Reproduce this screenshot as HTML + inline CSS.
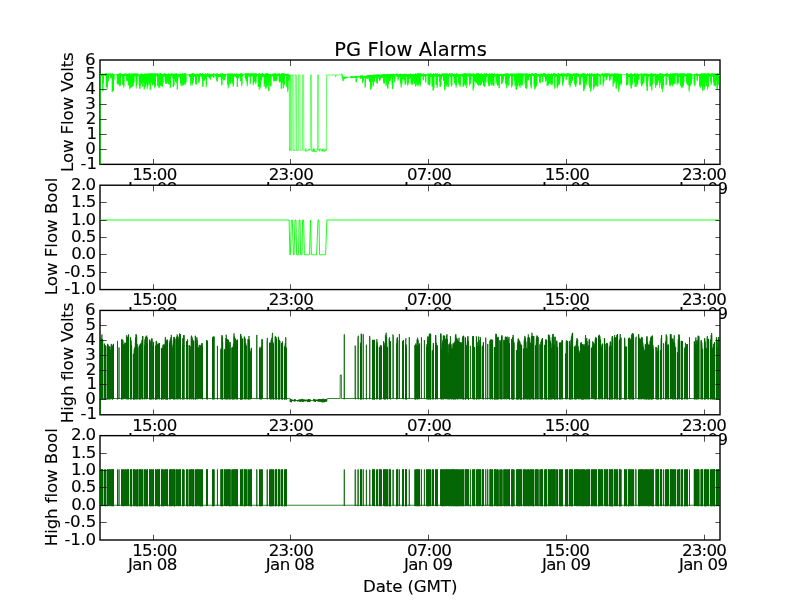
<!DOCTYPE html>
<html lang="en">
<head>
<meta charset="utf-8">
<title>PG Flow Alarms</title>
<style>
html,body{margin:0;padding:0;background:#fff;}
body{width:800px;height:600px;overflow:hidden;}
svg{display:block;}
text{font-family:"DejaVu Sans", "Liberation Sans", sans-serif;fill:#000;stroke:#000;stroke-width:0.12px;}
.t{font-size:16.667px;}
.ti{font-size:19.444px;}
.sp{stroke:#000;stroke-width:1.39;fill:none;stroke-linecap:square;}
.tk{stroke:#000;stroke-width:0.7;fill:none;}
.d{fill:none;stroke-linejoin:miter;stroke-linecap:butt;}
</style>
</head>
<body>
<svg width="800" height="600" viewBox="0 0 800 600">
<rect x="0" y="0" width="800" height="600" fill="#fff"/>
<g id="ax1">
<rect x="100" y="60" width="620" height="104.35" fill="#fff"/>
<clipPath id="c1"><rect x="100" y="60" width="620" height="104.35"/></clipPath>
<rect class="sp" x="100" y="60" width="620" height="104.35"/>
<g clip-path="url(#c1)" stroke="#00ff00" stroke-width="0.6">
<polyline class="d" points="100.5,171.8 100.5,74.16 100.6,74.55 100.72,76.22 100.85,74.75 100.97,75.93 101.1,74.02 101.22,76.37 101.35,74.22 101.47,76.22 101.6,74.61 101.85,75.08 102.1,74.1 102.22,75.49 102.35,74.3 102.47,75.32 102.6,73.62 102.72,91.33 102.85,73.82 102.97,90.62 103.1,73.96 103.22,83.37 103.35,74.16 103.47,83.1 103.6,74.61 103.85,75.04 104.1,74.61 104.35,75.02 104.6,73.96 104.72,75.23 104.85,74.16 104.97,75.08 105.1,73.44 105.22,75.99 105.35,73.64 105.47,75.68 105.6,74.66 105.72,75.76 105.85,74.86 105.97,75.61 106.1,73.66 106.22,87.56 106.35,73.86 106.47,86.03 106.6,73.51 106.72,86.13 106.85,73.71 106.97,84.5 107.1,73.9 107.22,89.23 107.35,74.1 107.47,86.68 107.6,74.49 107.72,78.84 107.85,74.69 107.97,78.56 108.1,73.52 108.22,81.32 108.35,73.72 108.47,81.22 108.6,73.69 108.72,75.38 108.85,73.89 108.97,75.22 109.1,74.59 109.22,75.21 109.35,74.79 109.47,75.15 109.6,74.5 109.72,75.35 109.85,74.7 109.97,75.16 110.1,73.41 110.22,75.18 110.35,73.61 110.47,75.15 110.6,74.36 110.72,78.25 110.85,74.56 110.97,77.47 111.1,74.39 111.22,77.75 111.35,74.59 111.47,77.21 111.6,74.57 111.72,77.61 111.85,74.77 111.97,77.45 112.1,73.37 112.22,92.05 112.35,73.57 112.47,91.67 112.6,73.79 112.72,89.34 112.85,73.99 112.97,88.27 113.1,74.05 113.22,90.79 113.35,74.25 113.47,90.7 113.6,74.25 113.72,79.66 113.85,74.45 113.97,79.37 114.1,74.61 114.35,74.72 114.6,74.61 114.85,75 115.1,74.61 115.35,74.79 115.6,74.61 115.85,74.87 116.1,74.61 116.35,75.04 116.6,74.61 116.85,74.8 117.1,74.13 117.22,84.14 117.35,74.33 117.47,82.55 117.6,73.79 117.72,84.23 117.85,73.99 117.97,82.61 118.1,74.48 118.22,81.49 118.35,74.68 118.47,80.73 118.6,73.85 118.72,84.75 118.85,74.05 118.97,84.06 119.1,73.54 119.22,83.83 119.35,73.74 119.47,82.53 119.6,74.08 119.72,86.21 119.85,74.28 119.97,85.69 120.1,73.47 120.22,85.5 120.35,73.67 120.47,84.94 120.6,73.34 120.72,76.94 120.85,73.54 120.97,76.43 121.1,74.57 121.22,75.22 121.35,74.77 121.47,75.2 121.6,74.55 121.72,75.74 121.85,74.75 121.97,75.72 122.1,73.93 122.22,75.89 122.35,74.13 122.47,75.74 122.6,74.5 122.72,84.84 122.85,74.7 122.97,84.46 123.1,73.9 123.22,83.87 123.35,74.1 123.47,82.4 123.6,74.15 123.72,87.46 123.85,74.35 123.97,85.74 124.1,73.78 124.22,76.26 124.35,73.98 124.47,75.99 124.6,74.61 124.85,75.08 125.1,74.4 125.22,75.36 125.35,74.6 125.47,75.31 125.6,73.43 125.72,76.08 125.85,73.63 125.97,75.8 126.1,73.92 126.22,75.84 126.35,74.12 126.47,75.52 126.6,74.07 126.72,81.15 126.85,74.27 126.97,80.44 127.1,74.4 127.22,79.67 127.35,74.6 127.47,79.54 127.6,74.65 127.72,80.94 127.85,74.85 127.97,79.7 128.1,73.64 128.22,85.41 128.35,73.84 128.47,85.3 128.6,74.43 128.72,81.22 128.85,74.63 128.97,79.96 129.1,73.51 129.22,83.34 129.35,73.71 129.47,81.7 129.6,73.48 129.72,89.34 129.85,73.68 129.97,87.83 130.1,74.15 130.22,86.85 130.35,74.35 130.47,84.8 130.6,74.74 130.72,87.57 130.85,74.94 130.97,86.82 131.1,74.59 131.22,86.52 131.35,74.79 131.47,85.78 131.6,73.64 131.72,87.23 131.85,73.84 131.97,86.87 132.1,73.78 132.22,81.74 132.35,73.98 132.47,80.55 132.6,74.25 132.72,86.23 132.85,74.45 132.97,86.05 133.1,73.35 133.22,84.4 133.35,73.55 133.47,83.04 133.6,74.1 133.72,82.75 133.85,74.3 133.97,82.05 134.1,73.92 134.22,75.21 134.35,74.12 134.47,75.08 134.6,73.55 134.72,76.19 134.85,73.75 134.97,76.1 135.1,73.3 135.22,76.45 135.35,73.5 135.47,76.16 135.6,74.37 135.72,75.69 135.85,74.57 135.97,75.62 136.1,74.04 136.22,88.58 136.35,74.24 136.47,86.07 136.6,73.78 136.72,83.66 136.85,73.98 136.97,83.61 137.1,73.46 137.22,75.86 137.35,73.66 137.47,75.59 137.6,73.48 137.72,76.18 137.85,73.68 137.97,76.15 138.1,74.65 138.22,75.17 138.35,74.85 138.47,75.09 138.6,74.61 138.85,75.01 139.1,74.69 139.22,84.42 139.35,74.89 139.47,83.55 139.6,74.5 139.72,88.97 139.85,74.7 139.97,88.11 140.1,74.62 140.22,86.04 140.35,74.82 140.47,84.44 140.6,74.05 140.72,79.03 140.85,74.25 140.97,78.17 141.1,73.43 141.22,84.33 141.35,73.63 141.47,82.38 141.6,74.23 141.72,80.21 141.85,74.43 141.97,79.26 142.1,74.13 142.22,83.3 142.35,74.33 142.47,81.48 142.6,74.53 142.72,86.94 142.85,74.73 142.97,86.31 143.1,74.76 143.22,80.03 143.35,74.96 143.47,80.01 143.6,74.05 143.72,82.22 143.85,74.25 143.97,81.44 144.1,74.69 144.22,89.71 144.35,74.89 144.47,88.13 144.6,73.62 144.72,80.72 144.85,73.82 144.97,79.56 145.1,74.14 145.22,86.73 145.35,74.34 145.47,85.99 145.6,73.69 145.72,84.35 145.85,73.89 145.97,83.41 146.1,74.32 146.22,83.54 146.35,74.52 146.47,82.76 146.6,73.58 146.72,83.81 146.85,73.78 146.97,81.9 147.1,74.53 147.22,89.14 147.35,74.73 147.47,86.79 147.6,73.96 147.72,86.21 147.85,74.16 147.97,85.44 148.1,73.55 148.22,78.75 148.35,73.75 148.47,77.86 148.6,74.46 148.72,82.17 148.85,74.66 148.97,81.73 149.1,73.28 149.22,84.72 149.35,73.48 149.47,83.96 149.6,74.28 149.72,80.64 149.85,74.48 149.97,79.59 150.1,74.31 150.22,90.11 150.35,74.51 150.47,88.59 150.6,73.38 150.72,78.18 150.85,73.58 150.97,77.95 151.1,74.42 151.22,82.7 151.35,74.62 151.47,81.34 151.6,73.49 151.72,83.04 151.85,73.69 151.97,82 152.1,73.26 152.22,85.16 152.35,73.46 152.47,83.3 152.6,74.75 152.72,84.95 152.85,74.95 152.97,84.73 153.1,73.74 153.22,79.42 153.35,73.94 153.47,78.52 153.6,73.85 153.72,83.18 153.85,74.05 153.97,82.08 154.1,73.5 154.22,85.13 154.35,73.7 154.47,83.86 154.6,73.51 154.72,88.36 154.85,73.71 154.97,86.29 155.1,73.71 155.22,86.59 155.35,73.91 155.47,85.68 155.6,73.51 155.72,76.6 155.85,73.71 155.97,76.6 156.1,74.64 156.22,75.81 156.35,74.84 156.47,75.58 156.6,74.66 156.72,75.23 156.85,74.86 156.97,75.1 157.1,73.3 157.22,76.04 157.35,73.5 157.47,75.93 157.6,73.5 157.72,85.85 157.85,73.7 157.97,85.53 158.1,74.07 158.22,81.09 158.35,74.27 158.47,80.43 158.6,74.52 158.72,87.73 158.85,74.72 158.97,86.98 159.1,73.59 159.22,84.79 159.35,73.79 159.47,83.09 159.6,74.67 159.72,87.77 159.85,74.87 159.97,85.48 160.1,73.55 160.22,84.23 160.35,73.75 160.47,83.64 160.6,73.41 160.72,85.26 160.85,73.61 160.97,83.77 161.1,73.52 161.22,85.98 161.35,73.72 161.47,85.8 161.6,74.42 161.72,83.1 161.85,74.62 161.97,82.33 162.1,73.98 162.22,87.19 162.35,74.18 162.47,85.96 162.6,74.22 162.72,83.44 162.85,74.42 162.97,82.38 163.1,74.4 163.22,76.13 163.35,74.6 163.47,76.09 163.6,74.57 163.72,76.87 163.85,74.77 163.97,76.6 164.1,73.28 164.22,75.63 164.35,73.48 164.47,75.57 164.6,74.19 164.72,76.25 164.85,74.39 164.97,76.25 165.1,73.51 165.22,81.42 165.35,73.71 165.47,81.32 165.6,74.73 165.72,83.77 165.85,74.93 165.97,83.62 166.1,73.87 166.22,80.79 166.35,74.07 166.47,79.8 166.6,74.7 166.72,83.61 166.85,74.9 166.97,83.11 167.1,74.17 167.22,81.32 167.35,74.37 167.47,79.92 167.6,73.83 167.72,82.34 167.85,74.03 167.97,80.89 168.1,74.25 168.22,84.19 168.35,74.45 168.47,84.14 168.6,73.42 168.72,82.27 168.85,73.62 168.97,81.85 169.1,74.06 169.22,81.49 169.35,74.26 169.47,80.53 169.6,74.51 169.72,84.7 169.85,74.71 169.97,83.67 170.1,74.11 170.22,88.21 170.35,74.31 170.47,86.86 170.6,74.61 170.85,75.01 171.1,73.43 171.22,75.4 171.35,73.63 171.47,75.36 171.6,73.89 171.72,76.42 171.85,74.09 171.97,76.31 172.1,73.57 172.22,75.17 172.35,73.77 172.47,75.07 172.6,73.88 172.72,77.66 172.85,74.08 172.97,77.53 173.1,73.85 173.22,87.06 173.35,74.05 173.47,86.75 173.6,74.25 173.72,85.3 173.85,74.45 173.97,85.18 174.1,73.81 174.22,78.25 174.35,74.01 174.47,77.61 174.6,73.73 174.72,79.02 174.85,73.93 174.97,78.99 175.1,73.66 175.22,81.93 175.35,73.86 175.47,80.65 175.6,74.29 175.72,81.56 175.85,74.49 175.97,81.32 176.1,73.52 176.22,79.19 176.35,73.72 176.47,79.18 176.6,73.29 176.72,83.41 176.85,73.49 176.97,82.01 177.1,74.6 177.22,89.41 177.35,74.8 177.47,89.19 177.6,74.38 177.72,78.31 177.85,74.58 177.97,78.31 178.1,73.98 178.22,76.41 178.35,74.18 178.47,76.04 178.6,74.56 178.72,76.47 178.85,74.76 178.97,76.29 179.1,74.46 179.22,76.72 179.35,74.66 179.47,76.33 179.6,73.98 179.72,75.22 179.85,74.18 179.97,75.07 180.1,73.55 180.22,79.22 180.35,73.75 180.47,78.7 180.6,74.02 180.72,84.05 180.85,74.22 180.97,83.32 181.1,74.57 181.22,86.07 181.35,74.77 181.47,85.38 181.6,74.12 181.72,83.66 181.85,74.32 181.97,81.89 182.1,74.74 182.22,80.3 182.35,74.94 182.47,79.44 182.6,73.3 182.72,85.99 182.85,73.5 182.97,84.13 183.1,73.87 183.22,84.7 183.35,74.07 183.47,83.83 183.6,74.76 183.72,84.96 183.85,74.96 183.97,84.09 184.1,74.25 184.22,84.04 184.35,74.45 184.47,82.71 184.6,73.3 184.72,76.7 184.85,73.5 184.97,76.44 185.1,73.74 185.22,84.79 185.35,73.94 185.47,83.21 185.6,73.26 185.72,82.5 185.85,73.46 185.97,82.24 186.1,74.61 186.35,74.83 186.6,74.61 186.85,74.79 187.1,74.61 187.35,74.95 187.6,74.61 187.85,75.04 188.1,74.61 188.35,74.97 188.6,74.35 188.72,75.37 188.85,74.55 188.97,75.29 189.1,74.61 189.35,75.11 189.6,74.52 189.72,77.31 189.85,74.72 189.97,76.73 190.1,73.82 190.22,76.92 190.35,74.02 190.47,76.69 190.6,74.66 190.72,85.77 190.85,74.86 190.97,83.69 191.1,74.39 191.22,81.09 191.35,74.59 191.47,80.36 191.6,74.25 191.72,78.09 191.85,74.45 191.97,77.93 192.1,73.42 192.22,85.39 192.35,73.62 192.47,83.5 192.6,73.59 192.72,83.39 192.85,73.79 192.97,82.86 193.1,73.76 193.22,80.65 193.35,73.96 193.47,80.34 193.6,73.34 193.72,76.95 193.85,73.54 193.97,76.58 194.1,74.38 194.22,76.64 194.35,74.58 194.47,76.23 194.6,74.13 194.72,76.27 194.85,74.33 194.97,76.21 195.1,74.63 195.22,76.51 195.35,74.83 195.47,76.38 195.6,74.31 195.72,84.06 195.85,74.51 195.97,83.77 196.1,74.71 196.22,84.67 196.35,74.91 196.47,84.42 196.6,73.68 196.72,76.2 196.85,73.88 196.97,76.07 197.1,74.61 197.35,75.11 197.6,73.69 197.72,76.46 197.85,73.89 197.97,76.08 198.1,74.09 198.22,76.93 198.35,74.29 198.47,76.57 198.6,74.05 198.72,83.03 198.85,74.25 198.97,82.41 199.1,74.11 199.22,80.85 199.35,74.31 199.47,79.92 199.6,73.65 199.72,76.39 199.85,73.85 199.97,76.24 200.1,73.38 200.22,76.22 200.35,73.58 200.47,75.99 200.6,73.7 200.72,75.72 200.85,73.9 200.97,75.7 201.1,74.45 201.22,75.26 201.35,74.65 201.47,75.22 201.6,74.08 201.72,77.03 201.85,74.28 201.97,76.55 202.1,73.56 202.22,79.21 202.35,73.76 202.47,78.77 202.6,73.59 202.72,86.82 202.85,73.79 202.97,86.48 203.1,73.93 203.22,80.28 203.35,74.13 203.47,80.23 203.6,74.39 203.72,80.8 203.85,74.59 203.97,80.6 204.1,74.3 204.22,80.32 204.35,74.5 204.47,79.39 204.6,74.69 204.72,78.24 204.85,74.89 204.97,77.78 205.1,73.79 205.22,78.64 205.35,73.99 205.47,78.52 205.6,73.49 205.72,78.76 205.85,73.69 205.97,78.32 206.1,73.99 206.22,87.27 206.35,74.19 206.47,84.91 206.6,74.48 206.72,76.76 206.85,74.68 206.97,76.68 207.1,74.3 207.22,75.9 207.35,74.5 207.47,75.84 207.6,73.3 207.72,75.97 207.85,73.5 207.97,75.79 208.1,74.3 208.22,76.24 208.35,74.5 208.47,75.98 208.6,74.08 208.72,77.54 208.85,74.28 208.97,77.08 209.1,73.58 209.22,76.56 209.35,73.78 209.47,76.37 209.6,74.73 209.72,78.09 209.85,74.93 209.97,78.07 210.1,74.09 210.22,79.79 210.35,74.29 210.47,78.82 210.6,74.3 210.72,76.86 210.85,74.5 210.97,76.48 211.1,73.78 211.22,75.94 211.35,73.98 211.47,75.67 211.6,74.65 211.72,76.27 211.85,74.85 211.97,76.03 212.1,74.69 212.22,75.83 212.35,74.89 212.47,75.57 212.6,74.41 212.72,76.29 212.85,74.61 212.97,76.17 213.1,73.36 213.22,76.91 213.35,73.56 213.47,76.8 213.6,73.51 213.72,78.07 213.85,73.71 213.97,77.43 214.1,74.61 214.35,74.97 214.6,74.61 214.85,74.98 215.1,73.81 215.22,75.89 215.35,74.01 215.47,75.8 215.6,73.72 215.72,76.18 215.85,73.92 215.97,75.93 216.1,74.65 216.22,75.83 216.35,74.85 216.47,75.57 216.6,73.94 216.72,80.48 216.85,74.14 216.97,80.37 217.1,73.27 217.22,81.93 217.35,73.47 217.47,80.72 217.6,74.51 217.72,77.15 217.85,74.71 217.97,76.85 218.1,73.97 218.22,77.22 218.35,74.17 218.47,76.7 218.6,74.63 218.72,77.13 218.85,74.83 218.97,76.54 219.1,74.68 219.22,76.82 219.35,74.88 219.47,76.53 219.6,73.94 219.72,76.72 219.85,74.14 219.97,76.68 220.1,74.73 220.22,76.76 220.35,74.93 220.47,76.39 220.6,73.47 220.72,76.5 220.85,73.67 220.97,76.07 221.1,73.99 221.22,80.1 221.35,74.19 221.47,79.07 221.6,74.02 221.72,85.36 221.85,74.22 221.97,84.79 222.1,73.35 222.22,76.73 222.35,73.55 222.47,76.7 222.6,73.56 222.72,78.79 222.85,73.76 222.97,77.88 223.1,74.52 223.22,75.87 223.35,74.72 223.47,75.54 223.6,74.21 223.72,80.49 223.85,74.41 223.97,80.34 224.1,73.91 224.22,76.55 224.35,74.11 224.47,76.18 224.6,74.19 224.72,79.87 224.85,74.39 224.97,79.23 225.1,74.25 225.22,76.89 225.35,74.45 225.47,76.42 225.6,74.61 225.85,74.91 226.1,74.61 226.35,74.74 226.6,74.61 226.85,75.02 227.1,73.72 227.22,75.43 227.35,73.92 227.47,75.41 227.6,73.7 227.72,84.84 227.85,73.9 227.97,83.29 228.1,74.13 228.22,88.39 228.35,74.33 228.47,85.75 228.6,73.73 228.72,86.39 228.85,73.93 228.97,84.24 229.1,73.74 229.22,77.44 229.35,73.94 229.47,77.35 229.6,73.56 229.72,80.86 229.85,73.76 229.97,80.25 230.1,74.15 230.22,83.94 230.35,74.35 230.47,83.18 230.6,74.17 230.72,82.56 230.85,74.37 230.97,81.99 231.1,73.43 231.22,77.29 231.35,73.63 231.47,76.98 231.6,74.58 231.72,78.93 231.85,74.78 231.97,78.1 232.1,73.72 232.22,83.93 232.35,73.92 232.47,82.61 232.6,74.08 232.72,80.66 232.85,74.28 232.97,80.49 233.1,73.58 233.22,86.44 233.35,73.78 233.47,86.1 233.6,74.19 233.72,76.33 233.85,74.39 233.97,76.17 234.1,73.47 234.22,76.08 234.35,73.67 234.47,75.76 234.6,74.16 234.72,76.75 234.85,74.36 234.97,76.42 235.1,74.65 235.22,75.84 235.35,74.85 235.47,75.53 235.6,74.46 235.72,75.69 235.85,74.66 235.97,75.53 236.1,73.72 236.22,76.78 236.35,73.92 236.47,76.41 236.6,73.38 236.72,78.02 236.85,73.58 236.97,77.53 237.1,74.39 237.22,87.09 237.35,74.59 237.47,86.6 237.6,74.06 237.72,78.73 237.85,74.26 237.97,78.34 238.1,74.39 238.22,78.4 238.35,74.59 238.47,77.96 238.6,73.85 238.72,76.04 238.85,74.05 238.97,75.77 239.1,74.46 239.22,75.81 239.35,74.66 239.47,75.63 239.6,74.43 239.72,76.19 239.85,74.63 239.97,75.99 240.1,74.05 240.22,75.61 240.35,74.25 240.47,75.57 240.6,73.46 240.72,81.19 240.85,73.66 240.97,80.94 241.1,73.49 241.22,81.27 241.35,73.69 241.47,80.28 241.6,73.28 241.72,86.13 241.85,73.48 241.97,84.26 242.1,74.13 242.22,76.3 242.35,74.33 242.47,76.08 242.6,74.33 242.72,75.37 242.85,74.53 242.97,75.35 243.1,74.61 243.35,74.91 243.6,74.61 243.85,74.87 244.1,74.61 244.35,74.92 244.6,74.61 244.85,74.91 245.1,73.44 245.22,77.95 245.35,73.64 245.47,77.84 245.6,73.39 245.72,79.17 245.85,73.59 245.97,78.56 246.1,73.47 246.22,80.94 246.35,73.67 246.47,79.77 246.6,73.93 246.72,81.66 246.85,74.13 246.97,81.2 247.1,73.7 247.22,86.24 247.35,73.9 247.47,84.15 247.6,73.34 247.72,75.63 247.85,73.54 247.97,75.43 248.1,73.28 248.22,76.37 248.35,73.48 248.47,76.15 248.6,74.61 248.72,76.12 248.85,74.81 248.97,76.05 249.1,73.63 249.22,76.77 249.35,73.83 249.47,76.43 249.6,74.61 249.85,75.07 250.1,73.74 250.22,84.31 250.35,73.94 250.47,82.67 250.6,73.34 250.72,75.97 250.85,73.54 250.97,75.96 251.1,74.48 251.22,75.76 251.35,74.68 251.47,75.46 251.6,73.72 251.72,76.2 251.85,73.92 251.97,76.12 252.1,73.6 252.22,75.76 252.35,73.8 252.47,75.62 252.6,73.44 252.72,76.37 252.85,73.64 252.97,76.19 253.1,74.39 253.22,85.2 253.35,74.59 253.47,83.66 253.6,73.44 253.72,80.22 253.85,73.64 253.97,79.85 254.1,74.08 254.22,81.95 254.35,74.28 254.47,80.53 254.6,73.63 254.72,82.08 254.85,73.83 254.97,81.25 255.1,73.9 255.22,80.45 255.35,74.1 255.47,79.77 255.6,73.38 255.72,83.94 255.85,73.58 255.97,82.48 256.1,73.42 256.23,76.77 256.35,73.62 256.48,76.38 256.6,74.12 256.73,75.5 256.85,74.32 256.98,75.39 257.1,74.61 257.35,75 257.6,74.61 257.85,75.03 258.1,74.19 258.23,87 258.35,74.39 258.48,86.94 258.6,73.89 258.73,82.99 258.85,74.09 258.98,81.46 259.1,73.48 259.23,89.91 259.35,73.68 259.48,87.01 259.6,73.49 259.73,86.47 259.85,73.69 259.98,86.17 260.1,74.07 260.23,88.29 260.35,74.27 260.48,85.9 260.6,74.76 260.73,80.8 260.85,74.96 260.98,79.86 261.1,73.88 261.23,81.09 261.35,74.08 261.48,79.99 261.6,73.6 261.73,78.31 261.85,73.8 261.98,77.55 262.1,73.6 262.23,75.69 262.35,73.8 262.48,75.64 262.6,73.31 262.73,76.38 262.85,73.51 262.98,76.02 263.1,73.89 263.23,76.95 263.35,74.09 263.48,76.65 263.6,74.14 263.73,75.71 263.85,74.34 263.98,75.48 264.1,74.31 264.23,86.65 264.35,74.51 264.48,84.53 264.6,74.49 264.73,83.44 264.85,74.69 264.98,81.6 265.1,73.7 265.23,78.81 265.35,73.9 265.48,78.22 265.6,73.83 265.73,88.8 265.85,74.03 265.98,87.62 266.1,73.61 266.23,87.38 266.35,73.81 266.48,86.13 266.6,73.27 266.73,82.75 266.85,73.47 266.98,81.35 267.1,73.33 267.23,86 267.35,73.53 267.48,85.36 267.6,74.58 267.73,78.37 267.85,74.78 267.98,78.09 268.1,73.69 268.23,78.31 268.35,73.89 268.48,77.61 268.6,74.31 268.73,91.2 268.85,74.51 268.98,90.57 269.1,74.51 269.23,81.94 269.35,74.71 269.48,80.67 269.6,74.21 269.73,78.56 269.85,74.41 269.98,77.78 270.1,73.92 270.23,85.51 270.35,74.12 270.48,83.27 270.6,74.35 270.73,86.48 270.85,74.55 270.98,85.51 271.1,74.61 271.35,75.07 271.6,74.65 271.73,76.88 271.85,74.85 271.98,76.62 272.1,74.61 272.35,75.02 272.6,73.94 272.73,76.02 272.85,74.14 272.98,75.73 273.1,73.71 273.23,75.99 273.35,73.91 273.48,75.71 273.6,73.57 273.73,81.09 273.85,73.77 273.98,79.91 274.1,73.66 274.23,81.41 274.35,73.86 274.48,80.46 274.6,74.48 274.73,81 274.85,74.68 274.98,79.76 275.1,73.47 275.23,80.98 275.35,73.67 275.48,80.15 275.6,73.45 275.73,80.78 275.85,73.65 275.98,80.47 276.1,74.31 276.23,79 276.35,74.51 276.48,78.98 276.6,74.15 276.73,81.15 276.85,74.35 276.98,79.86 277.1,74.61 277.35,75.03 277.6,73.75 277.73,76.11 277.85,73.95 277.98,76.05 278.1,73.63 278.23,75.25 278.35,73.83 278.48,75.06 278.6,74.18 278.73,76.08 278.85,74.38 278.98,75.79 279.1,73.42 279.23,81.3 279.35,73.62 279.48,80.14 279.6,73.77 279.73,82.65 279.85,73.97 279.98,81.26 280.1,73.95 280.23,81.47 280.35,74.15 280.48,80.26 280.6,74.56 280.73,81.36 280.85,74.76 280.98,80.89 281.1,74.59 281.23,88.84 281.35,74.79 281.48,88.3 281.6,73.44 281.73,84.63 281.85,73.64 281.98,83.01 282.1,74.59 282.23,82.39 282.35,74.79 282.48,82.24 282.6,73.36 282.73,80 282.85,73.56 282.98,79.74 283.1,74.4 283.23,88.42 283.35,74.6 283.48,88.02 283.6,73.42 283.73,84.62 283.85,73.62 283.98,83.68 284.1,74.6 284.23,85.54 284.35,74.8 284.48,83.48 284.6,73.57 284.73,76.06 284.85,73.77 284.98,75.81 285.1,74.45 285.23,75.55 285.35,74.65 285.48,75.28 285.6,74.61 285.85,75.09 286.1,74.09 286.23,75.4 286.35,74.29 286.48,75.25 286.6,74.19 286.73,87.27 286.85,74.39 286.98,86.53 287.1,74.11 287.23,81.91 287.35,74.31 287.48,80.48 287.6,73.68 287.73,92.11 287.85,73.88 287.98,89.4 288.1,74.51 288.23,77.8 288.35,74.71 288.48,77.14 288.6,73.89 288.73,81.15 288.85,74.09 288.98,79.85 289.3,74.91 289.5,150.19 289.6,150.93 289.9,148.77 290.1,150.19 290.3,74.91 290.9,74.91 291.1,150.19 291.2,150.39 291.5,150.31 291.8,149.9 291.9,150.19 292.1,74.91 293.1,74.91 293.3,150.19 293.4,150.64 293.7,150.4 294,150.83 294.3,149.96 294.6,149.91 294.9,150.8 295,150.19 295.2,74.91 296.4,74.91 296.6,150.19 296.7,150.49 297,149.73 297.3,150.9 297.6,150.34 297.9,150.17 298.2,150.59 298.3,150.19 298.5,74.91 299.9,74.91 300.1,150.19 300.2,150.02 300.5,150.15 300.8,150.22 301.1,150.43 301.4,150.44 301.7,149.97 302,150.29 302.3,150.36 302.4,150.19 302.6,74.91 303.6,74.91 303.8,150.19 303.9,150.24 304.2,150.13 304.5,150.23 304.8,150.36 305.1,150.15 305.4,150.82 305.7,148.42 306,151.68 306.3,150 306.6,150.04 306.9,149.92 307.2,150.22 307.5,150.01 307.8,150.4 308.1,149.98 308.4,150.41 308.7,149.14 309,150.18 309.3,148.89 309.6,150.17 309.9,150.25 310.2,150.24 310.3,150.19 310.5,74.91 311.4,74.91 311.6,150.19 311.7,151.25 312,149.76 312.3,150.05 312.6,150.64 312.9,151.91 313.2,148.91 313.5,150.76 313.8,148.35 314.1,151.72 314.4,149.14 314.7,151.74 315,151.09 315.3,151.08 315.6,150.91 315.9,151.06 316.2,151.78 316.5,151.2 316.8,151.48 317.1,148.67 317.4,150.19 317.6,74.91 318.6,74.91 318.8,150.19 318.9,148.98 319.2,149.79 319.5,151.38 319.8,148.93 320.1,149.53 320.4,148.81 320.7,148.73 321,149.07 321.3,151.16 321.6,150.69 321.9,149.9 322.2,151.18 322.5,148.8 322.8,150.58 323.1,151.75 323.4,149.21 323.7,149.38 324,149.83 324.3,151.59 324.6,149.63 324.9,150.16 325.2,151.18 325.5,150.93 325.8,148.95 326.1,150.58 326.35,150.19 326.55,74.91 335.4,74.91 335.7,77.14 336,74.91 341.4,74.91 341.8,73.42 342.2,78.63 342.5,74.91 342.9,81.17 343.3,76.4 343.6,80.57 344,76.99 344,76.74 344.12,79.08 344.25,76.94 344.38,78.68 344.5,77.3 344.75,77.55 345,76.96 345.12,78.48 345.25,77.16 345.38,78.2 345.5,77.25 345.75,77.5 346,77.22 346.25,77.47 346.5,76.63 346.62,78.28 346.75,76.83 346.88,78.04 347,77.16 347.25,77.48 347.5,77.13 347.75,77.38 348,77.1 348.25,77.35 348.5,77.08 348.75,77.38 349,77.05 349.25,77.3 349.5,77.02 349.75,77.27 350,76.99 350.25,77.34 350.5,76.33 350.62,77.69 350.75,76.53 350.88,77.61 351,76.93 351.25,77.34 351.5,76.1 351.62,78.08 351.75,76.3 351.88,77.94 352,76.37 352.12,77.63 352.25,76.57 352.38,77.44 352.5,76.85 352.75,77.25 353,76.33 353.12,78 353.25,76.53 353.38,77.8 353.5,76.79 353.75,77.04 354,76.76 354.25,77.23 354.5,75.95 354.62,77.86 354.75,76.15 354.88,77.85 355,76.71 355.25,77 355.5,76.51 355.62,77.38 355.75,76.71 355.88,77.33 356,75.85 356.12,82.13 356.25,76.05 356.38,82.11 356.5,75.91 356.62,77.28 356.75,76.11 356.88,77.16 357,76.59 357.25,76.84 357.5,76.57 357.75,76.95 358,76.03 358.12,77.56 358.25,76.23 358.38,77.36 358.5,76.51 358.75,76.76 359,76.48 359.25,76.87 359.5,76.45 359.75,76.73 360,76.06 360.12,78.28 360.25,76.26 360.38,77.83 360.5,75.66 360.62,78.52 360.75,75.86 360.88,78.34 361,75.55 361.12,77.69 361.25,75.75 361.38,77.53 361.5,76.26 361.62,77.86 361.75,76.46 361.88,77.72 362,75.53 362.12,78.99 362.25,75.73 362.38,78.68 362.5,75.46 362.62,83 362.75,75.66 362.88,82.47 363,76.14 363.12,80.89 363.25,76.34 363.38,80.73 363.5,75.81 363.62,77.46 363.75,76.01 363.88,77.29 364,76.01 364.12,78 364.25,76.21 364.38,77.6 364.5,75.93 364.62,77.24 364.75,76.13 364.88,76.99 365,75.78 365.12,87.63 365.25,75.98 365.38,86.68 365.5,75.81 365.62,77.09 365.75,76.01 365.88,77.05 366,75.99 366.12,77.52 366.25,76.19 366.38,77.42 366.5,75.99 366.62,78.37 366.75,76.19 366.88,77.93 367,75.25 367.12,78.85 367.25,75.45 367.38,78.62 367.5,75.42 367.62,78.22 367.75,75.62 367.88,78.05 368,75.15 368.12,78 368.25,75.35 368.38,77.51 368.5,75.16 368.62,78.06 368.75,75.36 368.88,77.73 369,75.63 369.12,79.77 369.25,75.83 369.38,79.39 369.5,75.51 369.62,82.08 369.75,75.71 369.88,81.97 370,74.96 370.12,80.66 370.25,75.16 370.38,80.11 370.5,75.05 370.62,89.69 370.75,75.25 370.88,88.91 371,75.02 371.12,88.15 371.25,75.22 371.38,86.24 371.5,75.53 371.62,77.3 371.75,75.73 371.88,77.07 372,75.74 372.25,75.99 372.5,75.44 372.62,82.25 372.75,75.64 372.88,81.58 373,74.84 373.12,86.53 373.25,75.04 373.38,85.45 373.5,74.78 373.62,80.54 373.75,74.98 373.88,80.39 374,74.92 374.12,81.98 374.25,75.12 374.38,81.47 374.5,74.66 374.62,78.35 374.75,74.86 374.88,77.91 375,75.06 375.12,77.35 375.25,75.26 375.38,77.33 375.5,75.28 375.62,77.52 375.75,75.48 375.88,77.07 376,75.52 376.25,75.77 376.5,74.57 376.62,82.39 376.75,74.77 376.88,81.44 377,74.83 377.12,84.09 377.25,75.03 377.38,82.85 377.5,74.63 377.62,78.94 377.75,74.83 377.88,78.35 378,74.52 378.12,76.38 378.25,74.72 378.38,76.28 378.5,75.16 378.62,76.58 378.75,75.36 378.88,76.48 379,74.47 379.12,78.74 379.25,74.67 379.38,78.46 379.5,75.01 379.62,81.06 379.75,75.21 379.88,80.4 380,75.18 380.12,79.6 380.25,75.38 380.38,78.79 380.5,74.67 380.62,77.57 380.75,74.87 380.88,77.38 381,74.88 381.12,76.93 381.25,75.08 381.38,76.52 381.5,74.38 381.62,77.64 381.75,74.58 381.88,77.24 382,74.63 382.12,77.68 382.25,74.83 382.38,77.56 382.5,74.92 382.62,76.89 382.75,75.12 382.88,76.54 383,74.34 383.12,77.91 383.25,74.54 383.38,77.39 383.5,74.2 383.62,82.57 383.75,74.4 383.88,81.75 384,74.17 384.12,84 384.25,74.37 384.38,83.18 384.5,74.14 384.62,81.46 384.75,74.34 384.88,80.89 385,74.89 385.12,77.21 385.25,75.09 385.38,76.98 385.5,74.91 385.62,76.89 385.75,75.11 385.88,76.47 386,74.43 386.12,86.18 386.25,74.63 386.38,84.91 386.5,74 386.62,77.73 386.75,74.2 386.88,77.28 387,74.61 387.12,76.52 387.25,74.81 387.38,76.23 387.5,73.99 387.62,88.72 387.75,74.19 387.88,88.02 388,74.09 388.12,84.46 388.25,74.29 388.38,83.63 388.5,74.43 388.62,75.72 388.75,74.63 388.88,75.62 389,74.57 389.12,79.63 389.25,74.77 389.38,79.25 389.5,74.49 389.62,81.57 389.75,74.69 389.88,81.05 390,74.44 390.12,80.47 390.25,74.64 390.38,79.24 390.5,73.87 390.62,77.8 390.75,74.07 390.88,77.59 391,74.1 391.12,77.56 391.25,74.3 391.38,77.14 391.5,74.39 391.62,75.72 391.75,74.59 391.88,75.63 392,74.16 392.12,85.29 392.25,74.36 392.38,83.07 392.5,73.98 392.62,89.15 392.75,74.18 392.88,88.84 393,73.84 393.12,77.44 393.25,74.04 393.38,77.15 393.5,73.91 393.62,75.42 393.75,74.11 393.88,75.28 394,74.39 394.12,75.26 394.25,74.59 394.38,75.1 394.5,74.4 394.62,82.39 394.75,74.6 394.88,80.79 395,74.61 395.25,75 395.5,74.61 395.75,74.93 396,73.96 396.12,75.74 396.25,74.16 396.38,75.48 396.5,73.67 396.62,76.55 396.75,73.87 396.88,76.23 397,73.79 397.12,75.24 397.25,73.99 397.38,75.05 397.5,74.4 397.62,77.01 397.75,74.6 397.88,76.54 398,74.47 398.12,80.68 398.25,74.67 398.38,79.41 398.5,74.61 398.75,74.93 399,74.61 399.25,75.08 399.5,73.83 399.62,77.48 399.75,74.03 399.88,77.18 400,74.56 400.12,76.67 400.25,74.76 400.38,76.48 400.5,73.71 400.62,83.31 400.75,73.91 400.88,81.8 401,74.27 401.12,87.5 401.25,74.47 401.38,85.58 401.5,73.94 401.62,84.13 401.75,74.14 401.88,83.63 402,74.61 402.25,74.86 402.5,74.49 402.62,79.23 402.75,74.69 402.88,78.84 403,74.15 403.12,78.52 403.25,74.35 403.38,78.2 403.5,74.34 403.62,76.64 403.75,74.54 403.88,76.51 404,74.07 404.12,81.3 404.25,74.27 404.38,80.12 404.5,73.73 404.62,77.09 404.75,73.93 404.88,76.81 405,74.41 405.12,85.17 405.25,74.61 405.38,83.4 405.5,73.77 405.62,83.95 405.75,73.97 405.88,82.83 406,74.47 406.12,76.29 406.25,74.67 406.38,76.05 406.5,74.14 406.62,77.14 406.75,74.34 406.88,77 407,74.47 407.12,76.47 407.25,74.67 407.38,76.07 407.5,74.12 407.62,85.72 407.75,74.32 407.88,83.65 408,74.54 408.12,84.45 408.25,74.74 408.38,82.92 408.5,74.26 408.62,76.09 408.75,74.46 408.88,75.76 409,73.86 409.12,79.3 409.25,74.06 409.38,79.05 409.5,74.52 409.62,78.62 409.75,74.72 409.88,78.58 410,74.28 410.12,77.47 410.25,74.48 410.38,77.41 410.5,73.7 410.62,76.07 410.75,73.9 410.88,75.93 411,74.21 411.12,83.91 411.25,74.41 411.38,83.22 411.5,74.2 411.62,82.81 411.75,74.4 411.88,82.05 412,74.56 412.12,85.15 412.25,74.76 412.38,84.66 412.5,74.33 412.62,75.34 412.75,74.53 412.88,75.32 413,73.93 413.12,75.85 413.25,74.13 413.38,75.63 413.5,73.75 413.62,81.22 413.75,73.95 413.88,81.19 414,73.97 414.12,83.79 414.25,74.17 414.38,83.64 414.5,74.18 414.62,83.1 414.75,74.38 414.88,81.55 415,74.46 415.12,82.28 415.25,74.66 415.38,82.15 415.5,73.53 415.62,86.35 415.75,73.73 415.88,86.32 416,73.73 416.12,84.26 416.25,73.93 416.38,82.43 416.5,74.28 416.62,81.51 416.75,74.48 416.88,80.22 417,74.33 417.12,85.04 417.25,74.53 417.38,84.54 417.5,73.58 417.62,84.01 417.75,73.78 417.88,82.31 418,73.33 418.12,85.98 418.25,73.53 418.38,85.12 418.5,73.71 418.62,82.85 418.75,73.91 418.88,82.13 419,74.49 419.12,84.85 419.25,74.69 419.38,83.23 419.5,73.44 419.62,82.32 419.75,73.64 419.88,82.19 420,74.22 420.12,86.52 420.25,74.42 420.38,84.39 420.5,73.35 420.62,76.43 420.75,73.55 420.88,76.16 421,73.99 421.12,75.83 421.25,74.19 421.38,75.57 421.5,74.62 421.62,76.46 421.75,74.82 421.88,76.06 422,73.8 422.12,75.39 422.25,74 422.38,75.34 422.5,74.17 422.62,75.97 422.75,74.37 422.88,75.63 423,74.26 423.12,80.46 423.25,74.46 423.38,79.75 423.5,73.52 423.62,75.28 423.75,73.72 423.88,75.16 424,74.72 424.12,76.74 424.25,74.92 424.38,76.56 424.5,74.52 424.62,75.78 424.75,74.72 424.88,75.68 425,74.23 425.12,75.47 425.25,74.43 425.38,75.35 425.5,74.16 425.62,82.6 425.75,74.36 425.88,81.61 426,74.61 426.25,75.05 426.5,74.18 426.62,75.65 426.75,74.38 426.88,75.43 427,74.61 427.25,75.09 427.5,74.7 427.62,75.52 427.75,74.9 427.88,75.35 428,73.36 428.12,85.01 428.25,73.56 428.38,83.05 428.5,74.21 428.62,84.15 428.75,74.41 428.88,83.7 429,74.35 429.12,82.43 429.25,74.55 429.38,82.43 429.5,73.94 429.62,85.66 429.75,74.14 429.88,84.34 430,74.02 430.12,76.75 430.25,74.22 430.38,76.47 430.5,73.43 430.62,76.95 430.75,73.63 430.88,76.66 431,74.48 431.12,76.6 431.25,74.68 431.38,76.49 431.5,74.04 431.62,76.31 431.75,74.24 431.88,76.27 432,74.03 432.12,86.83 432.25,74.23 432.38,86.42 432.5,74.54 432.62,85.75 432.75,74.74 432.88,85.68 433,73.94 433.12,90.47 433.25,74.14 433.38,90.33 433.5,73.38 433.62,88.5 433.75,73.58 433.88,87.91 434,73.92 434.12,76.45 434.25,74.12 434.38,76.28 434.5,74.45 434.62,75.74 434.75,74.65 434.88,75.52 435,74.37 435.12,76.02 435.25,74.57 435.38,75.81 435.5,73.48 435.62,76.66 435.75,73.68 435.88,76.19 436,74.04 436.12,84.66 436.25,74.24 436.38,84.5 436.5,74.14 436.62,80.35 436.75,74.34 436.88,80.02 437,73.31 437.12,87.83 437.25,73.51 437.38,85.59 437.5,73.84 437.62,76.56 437.75,74.04 437.88,76.31 438,73.95 438.12,76.86 438.25,74.15 438.38,76.36 438.5,74.4 438.62,75.76 438.75,74.6 438.88,75.61 439,74.11 439.12,75.69 439.25,74.31 439.38,75.5 439.5,73.7 439.62,81.97 439.75,73.9 439.88,81.92 440,74.31 440.12,87.06 440.25,74.51 440.38,85.26 440.5,74.76 440.62,86.5 440.75,74.96 440.88,84.92 441,74.66 441.12,79.27 441.25,74.86 441.38,78.71 441.5,73.92 441.62,76.37 441.75,74.12 441.88,76.37 442,73.56 442.12,76.44 442.25,73.76 442.38,76.11 442.5,74.15 442.62,75.53 442.75,74.35 442.88,75.32 443,73.53 443.12,75.89 443.25,73.73 443.38,75.56 443.5,74.5 443.62,80.75 443.75,74.7 443.88,80.59 444,73.64 444.12,78.67 444.25,73.84 444.38,77.95 444.5,74.07 444.62,90.36 444.75,74.27 444.88,89.07 445,73.31 445.12,85.91 445.25,73.51 445.38,83.64 445.5,74.59 445.62,79.36 445.75,74.79 445.88,78.53 446,74.68 446.12,84.19 446.25,74.88 446.38,82.4 446.5,73.65 446.62,86.52 446.75,73.85 446.88,85.27 447,73.5 447.12,84.34 447.25,73.7 447.38,83.46 447.5,74.31 447.62,81.75 447.75,74.51 447.88,80.31 448,74.54 448.12,87.12 448.25,74.74 448.38,86.66 448.5,74.47 448.62,75.63 448.75,74.67 448.88,75.51 449,73.76 449.12,75.29 449.25,73.96 449.38,75.11 449.5,73.32 449.62,76.33 449.75,73.52 449.88,75.95 450,73.69 450.12,75.37 450.25,73.89 450.38,75.23 450.5,74.13 450.62,76.79 450.75,74.33 450.88,76.51 451,74.48 451.12,84.39 451.25,74.68 451.38,84 451.5,73.66 451.62,86.61 451.75,73.86 451.88,85.15 452,73.28 452.12,75.68 452.25,73.48 452.38,75.55 452.5,74.61 452.75,74.99 453,74.35 453.12,76.31 453.25,74.55 453.38,75.94 453.5,73.89 453.62,76.43 453.75,74.09 453.88,76.28 454,74.43 454.12,79.38 454.25,74.63 454.38,79.35 454.5,73.7 454.62,83.04 454.75,73.9 454.88,82.25 455,74.64 455.12,84.45 455.25,74.84 455.38,82.85 455.5,74.68 455.62,84.4 455.75,74.88 455.88,83.6 456,74.65 456.12,87.59 456.25,74.85 456.38,85.42 456.5,73.36 456.62,76.36 456.75,73.56 456.88,76.18 457,74.69 457.12,75.84 457.25,74.89 457.38,75.83 457.5,73.64 457.62,76.8 457.75,73.84 457.88,76.5 458,74.56 458.12,76.15 458.25,74.76 458.38,76.14 458.5,74.67 458.62,82.83 458.75,74.87 458.88,82.48 459,74.45 459.12,84.9 459.25,74.65 459.38,84.26 459.5,74.12 459.62,84.35 459.75,74.32 459.88,83.52 460,74.24 460.12,87.14 460.25,74.44 460.38,85.36 460.5,74.24 460.62,75.21 460.75,74.44 460.88,75.1 461,74.61 461.25,75 461.5,74.68 461.62,75.77 461.75,74.88 461.88,75.67 462,73.58 462.12,76.58 462.25,73.78 462.38,76.42 462.5,74.19 462.62,75.64 462.75,74.39 462.88,75.52 463,74.22 463.12,86.92 463.25,74.42 463.38,86 463.5,73.91 463.62,85.49 463.75,74.11 463.88,85.13 464,73.5 464.12,81.27 464.25,73.7 464.38,79.95 464.5,73.44 464.62,84.42 464.75,73.64 464.88,84.18 465,73.37 465.12,82.44 465.25,73.57 465.38,81.12 465.5,74.48 465.62,85.67 465.75,74.68 465.88,83.65 466,73.38 466.12,81.77 466.25,73.58 466.38,80.45 466.5,73.92 466.62,87.74 466.75,74.12 466.88,85.23 467,74.48 467.12,75.27 467.25,74.68 467.38,75.11 467.5,73.55 467.62,75.64 467.75,73.75 467.88,75.56 468,74.09 468.12,76.47 468.25,74.29 468.38,76.37 468.5,73.72 468.62,76.35 468.75,73.92 468.88,76.21 469,74.12 469.12,75.25 469.25,74.32 469.38,75.15 469.5,73.56 469.62,85.84 469.75,73.76 469.88,83.63 470,74.32 470.12,83.86 470.25,74.52 470.38,83.08 470.5,73.48 470.62,80.17 470.75,73.68 470.88,79.68 471,74.35 471.12,75.3 471.25,74.55 471.38,75.3 471.5,74.34 471.62,75.99 471.75,74.54 471.88,75.94 472,73.5 472.12,75.83 472.25,73.7 472.38,75.66 472.5,74.56 472.62,76.25 472.75,74.76 472.88,76.12 473,74.54 473.12,90.64 473.25,74.74 473.38,87.93 473.5,73.39 473.62,88.52 473.75,73.59 473.88,86.87 474,74.46 474.12,80.58 474.25,74.66 474.38,79.32 474.5,74.14 474.62,81.9 474.75,74.34 474.88,80.41 475,73.86 475.12,81.02 475.25,74.06 475.38,80.29 475.5,73.99 475.62,81.94 475.75,74.19 475.88,81.8 476,74.18 476.12,83.2 476.25,74.38 476.38,82.47 476.5,73.33 476.62,82.16 476.75,73.53 476.88,81.8 477,73.54 477.12,83.19 477.25,73.74 477.38,81.57 477.5,74.29 477.62,84.84 477.75,74.49 477.88,82.75 478,73.57 478.12,84.35 478.25,73.77 478.38,84.22 478.5,73.26 478.62,85.81 478.75,73.46 478.88,84.05 479,74.11 479.12,84.31 479.25,74.31 479.38,83.69 479.5,74.2 479.62,81.74 479.75,74.4 479.88,80.43 480,74.2 480.12,85.75 480.25,74.4 480.38,84.66 480.5,74.73 480.62,84.81 480.75,74.93 480.88,83.66 481,73.35 481.12,84.59 481.25,73.55 481.38,84.14 481.5,74.15 481.62,81.73 481.75,74.35 481.88,81.68 482,74.61 482.12,81.86 482.25,74.81 482.38,81.03 482.5,74.28 482.62,79.03 482.75,74.48 482.88,78.35 483,74.22 483.12,82.47 483.25,74.42 483.38,82.13 483.5,74.73 483.62,86.08 483.75,74.93 483.88,85.98 484,74.36 484.12,84.71 484.25,74.56 484.38,82.94 484.5,73.32 484.62,87.12 484.75,73.52 484.88,86 485,74.25 485.12,81.05 485.25,74.45 485.38,79.79 485.5,74.53 485.62,82.55 485.75,74.73 485.88,81.93 486,73.43 486.12,76.87 486.25,73.63 486.38,76.6 486.5,73.5 486.62,76.81 486.75,73.7 486.88,76.36 487,74.63 487.12,75.37 487.25,74.83 487.38,75.14 487.5,74.64 487.62,75.25 487.75,74.84 487.88,75.19 488,73.92 488.12,82.27 488.25,74.12 488.38,80.69 488.5,74.23 488.62,85.26 488.75,74.43 488.88,83.87 489,74.56 489.12,86.44 489.25,74.76 489.38,85.68 489.5,73.43 489.62,85.41 489.75,73.63 489.88,84.18 490,73.99 490.12,80.72 490.25,74.19 490.38,80.13 490.5,74.22 490.62,81.5 490.75,74.42 490.88,80.05 491,73.41 491.12,84.95 491.25,73.61 491.38,82.9 491.5,73.89 491.62,85.7 491.75,74.09 491.88,83.47 492,73.45 492.12,78.93 492.25,73.65 492.38,78.86 492.5,73.91 492.62,83.89 492.75,74.11 492.88,83.84 493,74.07 493.12,85.98 493.25,74.27 493.38,84.56 493.5,74.27 493.62,85.88 493.75,74.47 493.88,85.56 494,74.61 494.25,75.1 494.5,73.5 494.62,76.9 494.75,73.7 494.88,76.66 495,74.61 495.25,75.05 495.5,74.7 495.62,76.33 495.75,74.9 495.88,76.17 496,74.51 496.12,84.18 496.25,74.71 496.38,82.6 496.5,74.47 496.62,81.13 496.75,74.67 496.88,80.82 497,73.55 497.12,78.47 497.25,73.75 497.38,77.84 497.5,74.15 497.62,85.68 497.75,74.35 497.88,84.55 498,73.72 498.12,85.4 498.25,73.92 498.38,84.4 498.5,74.09 498.62,82.47 498.75,74.29 498.88,81.8 499,74.26 499.12,88.22 499.25,74.46 499.38,87.47 499.5,74.1 499.62,75.87 499.75,74.3 499.88,75.54 500,74.29 500.12,76.05 500.25,74.49 500.38,75.89 500.5,74.73 500.62,75.74 500.75,74.93 500.88,75.66 501,73.73 501.12,75.89 501.25,73.93 501.38,75.89 501.5,74.35 501.62,84.21 501.75,74.55 501.88,83.52 502,74.64 502.12,83.15 502.25,74.84 502.38,81.5 502.5,74.39 502.62,82.14 502.75,74.59 502.88,81.23 503,73.97 503.12,79.78 503.25,74.17 503.38,78.91 503.5,74.31 503.62,75.91 503.75,74.51 503.88,75.81 504,73.63 504.12,75.55 504.25,73.83 504.38,75.28 504.5,74.29 504.62,75.29 504.75,74.49 504.88,75.13 505,74.69 505.12,76.84 505.25,74.89 505.38,76.73 505.5,73.63 505.62,84.34 505.75,73.83 505.88,83.42 506,73.91 506.12,81.92 506.25,74.11 506.38,80.55 506.5,73.43 506.62,88.21 506.75,73.63 506.88,86.39 507,74.27 507.12,84.3 507.25,74.47 507.38,84.25 507.5,73.48 507.62,81.49 507.75,73.68 507.88,80.38 508,74.34 508.12,78.4 508.25,74.54 508.38,77.64 508.5,73.66 508.62,85.74 508.75,73.86 508.88,84.61 509,74.61 509.12,77.99 509.25,74.81 509.38,77.34 509.5,74.42 509.62,76.39 509.75,74.62 509.88,76.18 510,73.72 510.12,75.41 510.25,73.92 510.38,75.36 510.5,73.92 510.62,75.73 510.75,74.12 510.88,75.65 511,73.7 511.12,75.94 511.25,73.9 511.38,75.88 511.5,73.57 511.62,87.54 511.75,73.77 511.88,86.52 512,74.38 512.12,85.06 512.25,74.58 512.38,84.42 512.5,73.52 512.62,75.62 512.75,73.72 512.88,75.36 513,74.57 513.12,75.36 513.25,74.77 513.38,75.29 513.5,74.6 513.62,75.54 513.75,74.8 513.88,75.27 514,73.63 514.12,76.83 514.25,73.83 514.38,76.78 514.5,74.09 514.62,81.28 514.75,74.29 514.88,80.49 515,74.06 515.12,86.16 515.25,74.26 515.38,84.92 515.5,74.5 515.62,84.35 515.75,74.7 515.88,83.15 516,73.53 516.12,89.82 516.25,73.73 516.38,89.27 516.5,73.86 516.62,88.83 516.75,74.06 516.88,87.86 517,73.93 517.12,85.21 517.25,74.13 517.38,84.59 517.5,73.97 517.62,85.91 517.75,74.17 517.88,84.37 518,73.37 518.12,83.42 518.25,73.57 518.38,82.4 518.5,73.56 518.62,81.11 518.75,73.76 518.88,80.55 519,73.77 519.12,86.11 519.25,73.97 519.38,85.28 519.5,73.71 519.62,84.87 519.75,73.91 519.88,84 520,73.94 520.12,87.82 520.25,74.14 520.38,85.09 520.5,73.31 520.62,84.9 520.75,73.51 520.88,83.93 521,73.81 521.12,77.28 521.25,74.01 521.38,76.98 521.5,74 521.62,85.36 521.75,74.2 521.88,84.31 522,74.4 522.12,85.63 522.25,74.6 522.38,83.73 522.5,73.62 522.62,82.04 522.75,73.82 522.88,81.01 523,73.36 523.12,75.95 523.25,73.56 523.38,75.9 523.5,74.02 523.62,75.63 523.75,74.22 523.88,75.61 524,74.61 524.25,74.98 524.5,74.61 524.75,75.06 525,73.43 525.12,84.2 525.25,73.63 525.38,82.52 525.5,74.43 525.62,88.2 525.75,74.63 525.88,87.81 526,73.84 526.12,83.25 526.25,74.04 526.38,82.23 526.5,73.62 526.62,89.03 526.75,73.82 526.88,87.01 527,73.38 527.12,79.7 527.25,73.58 527.38,79.49 527.5,74.75 527.62,80.63 527.75,74.95 527.88,80.37 528,74.53 528.12,80.05 528.25,74.73 528.38,79.66 528.5,74.36 528.62,76.74 528.75,74.56 528.88,76.32 529,73.52 529.12,76.06 529.25,73.72 529.38,75.77 529.5,74.42 529.62,76.78 529.75,74.62 529.88,76.29 530,74.2 530.12,75.86 530.25,74.4 530.38,75.84 530.5,74.25 530.62,84.74 530.75,74.45 530.88,84.07 531,74.33 531.12,88.49 531.25,74.53 531.38,87.12 531.5,74.56 531.62,76.33 531.75,74.76 531.88,76.08 532,73.31 532.12,75.76 532.25,73.51 532.38,75.67 532.5,73.6 532.62,75.61 532.75,73.8 532.88,75.54 533,74.61 533.25,75 533.5,74.17 533.62,76.02 533.75,74.37 533.88,75.95 534,74.72 534.12,85.98 534.25,74.92 534.38,84.08 534.5,73.83 534.62,89.52 534.75,74.03 534.88,87.57 535,73.37 535.12,78.75 535.25,73.57 535.38,78.45 535.5,73.5 535.62,88.56 535.75,73.7 535.88,86.15 536,73.29 536.12,86.38 536.25,73.49 536.38,84.67 536.5,73.83 536.62,85.5 536.75,74.03 536.88,83.88 537,74.61 537.25,75.02 537.5,74.61 537.75,75.1 538,74.27 538.12,76.73 538.25,74.47 538.38,76.47 538.5,74.15 538.62,76.04 538.75,74.35 538.88,75.83 539,74.61 539.25,75.05 539.5,74.65 539.62,82.5 539.75,74.85 539.88,82.33 540,74.51 540.12,83.42 540.25,74.71 540.38,81.86 540.5,73.53 540.62,76.86 540.75,73.73 540.88,76.63 541,74.36 541.12,76.46 541.25,74.56 541.38,76.28 541.5,73.86 541.62,76.08 541.75,74.06 541.88,76.01 542,74.61 542.25,74.99 542.5,74.5 542.62,82.16 542.75,74.7 542.88,81.95 543,73.54 543.12,75.71 543.25,73.74 543.38,75.51 543.5,73.42 543.62,75.74 543.75,73.62 543.88,75.44 544,73.45 544.12,76.88 544.25,73.65 544.38,76.65 544.5,73.81 544.62,76.39 544.75,74.01 544.88,75.94 545,73.53 545.12,75.24 545.25,73.73 545.38,75.14 545.5,73.8 545.62,81.67 545.75,74 545.88,80.25 546,74.68 546.12,80 546.25,74.88 546.38,78.96 546.5,74.47 546.62,80.45 546.75,74.67 546.88,79.32 547,74.65 547.12,86 547.25,74.85 547.38,84.2 547.5,74.19 547.62,84.84 547.75,74.39 547.88,82.8 548,73.58 548.12,85.6 548.25,73.78 548.38,84.67 548.5,74.67 548.62,82.25 548.75,74.87 548.88,81.58 549,73.67 549.12,79.01 549.25,73.87 549.38,78.53 549.5,74.74 549.62,83.84 549.75,74.94 549.88,82.35 550,74.69 550.12,82.79 550.25,74.89 550.38,81.25 550.5,74.61 550.62,84.11 550.75,74.81 550.88,82.12 551,73.84 551.12,80.73 551.25,74.04 551.38,80.04 551.5,73.57 551.62,84.68 551.75,73.77 551.88,83.31 552,74.62 552.12,85.37 552.25,74.82 552.38,83.42 552.5,74.44 552.62,75.47 552.75,74.64 552.88,75.26 553,73.82 553.12,75.24 553.25,74.02 553.38,75.18 553.5,73.43 553.62,75.72 553.75,73.63 553.88,75.45 554,73.52 554.12,75.98 554.25,73.72 554.38,75.66 554.5,73.29 554.62,88.87 554.75,73.49 554.88,86.65 555,74.12 555.12,76.66 555.25,74.32 555.38,76.5 555.5,73.78 555.62,76.59 555.75,73.98 555.88,76.15 556,74.62 556.12,76.37 556.25,74.82 556.38,76.3 556.5,73.97 556.62,76.1 556.75,74.17 556.88,75.82 557,74.6 557.12,88.31 557.25,74.8 557.38,86.02 557.5,73.94 557.62,86.99 557.75,74.14 557.88,85.55 558,73.34 558.12,83.82 558.25,73.54 558.38,82.23 558.5,73.43 558.62,85.03 558.75,73.63 558.88,83.06 559,74.35 559.12,84.85 559.25,74.55 559.38,83.51 559.5,74.41 559.62,82.54 559.75,74.61 559.88,81.28 560,74.34 560.12,76.27 560.25,74.54 560.38,76.25 560.5,73.84 560.62,75.91 560.75,74.04 560.88,75.83 561,74.09 561.12,75.82 561.25,74.29 561.38,75.61 561.5,73.83 561.62,75.99 561.75,74.03 561.88,75.72 562,73.28 562.12,76.41 562.25,73.48 562.38,76.11 562.5,73.92 562.62,85.85 562.75,74.12 562.88,84.37 563,73.81 563.12,82.64 563.25,74.01 563.38,81.82 563.5,73.49 563.62,78.43 563.75,73.69 563.88,78.37 564,73.66 564.12,76 564.25,73.86 564.38,75.96 564.5,74.7 564.62,76.38 564.75,74.9 564.88,76.12 565,74.29 565.12,76.11 565.25,74.49 565.38,76.03 565.5,73.54 565.62,75.85 565.75,73.74 565.88,75.85 566,74.5 566.12,79.86 566.25,74.7 566.38,79.27 566.5,74.51 566.62,76.57 566.75,74.71 566.88,76.47 567,73.48 567.12,76.74 567.25,73.68 567.38,76.47 567.5,73.33 567.62,75.42 567.75,73.53 567.88,75.26 568,73.34 568.12,75.95 568.25,73.54 568.38,75.65 568.5,74.61 568.75,74.97 569,74.15 569.12,85.12 569.25,74.35 569.38,83.65 569.5,73.43 569.62,81.91 569.75,73.63 569.88,81.83 570,73.72 570.12,87.43 570.25,73.92 570.38,85.09 570.5,74.49 570.62,81.45 570.75,74.69 570.88,80.18 571,74.23 571.12,83.19 571.25,74.43 571.38,82.61 571.5,74.01 571.62,80.85 571.75,74.21 571.88,80.5 572,73.72 572.12,81.22 572.25,73.92 572.38,79.86 572.5,74.67 572.62,75.32 572.75,74.87 572.88,75.29 573,74.24 573.12,75.9 573.25,74.44 573.38,75.78 573.5,73.39 573.62,75.89 573.75,73.59 573.88,75.77 574,74.61 574.25,75 574.5,73.95 574.62,83.93 574.75,74.15 574.88,82.83 575,73.41 575.12,85.16 575.25,73.61 575.38,85.03 575.5,74.61 575.62,86.62 575.75,74.81 575.88,86.54 576,73.55 576.12,83.84 576.25,73.75 576.38,82.54 576.5,73.45 576.62,76.93 576.75,73.65 576.88,76.67 577,74.32 577.12,75.58 577.25,74.52 577.38,75.38 577.5,74.49 577.62,75.85 577.75,74.69 577.88,75.77 578,73.53 578.12,76.66 578.25,73.73 578.38,76.43 578.5,74.26 578.62,75.97 578.75,74.46 578.88,75.63 579,74.04 579.12,77.53 579.25,74.24 579.38,77.3 579.5,74.51 579.62,84.62 579.75,74.71 579.88,84.05 580,74.61 580.12,85.19 580.25,74.81 580.38,84.55 580.5,74.61 580.62,78.43 580.75,74.81 580.88,78.23 581,73.62 581.12,76.07 581.25,73.82 581.38,75.78 581.5,74.05 581.62,76.87 581.75,74.25 581.88,76.54 582,74.61 582.25,75.02 582.5,73.69 582.62,76.96 582.75,73.89 582.88,76.48 583,73.39 583.12,81.66 583.25,73.59 583.38,81.21 583.5,73.32 583.62,91.07 583.75,73.52 583.88,91.04 584,74.69 584.12,88.38 584.25,74.89 584.38,87.93 584.5,73.5 584.62,88.91 584.75,73.7 584.88,86.12 585,74.69 585.12,82.26 585.25,74.89 585.38,81.67 585.5,74.29 585.62,82.77 585.75,74.49 585.88,81.6 586,74.06 586.12,85.26 586.25,74.26 586.38,84.26 586.5,74.45 586.62,81.06 586.75,74.65 586.88,80.5 587,74.61 587.25,75.07 587.5,73.37 587.62,76.03 587.75,73.57 587.88,75.84 588,74.43 588.12,75.62 588.25,74.63 588.38,75.49 588.5,74.47 588.62,75.42 588.75,74.67 588.88,75.29 589,74.51 589.12,85.82 589.25,74.71 589.38,83.93 589.5,73.41 589.62,87.92 589.75,73.61 589.88,85.3 590,74.04 590.12,87.22 590.25,74.24 590.38,84.91 590.5,74.02 590.62,91.62 590.75,74.22 590.88,90.69 591,73.42 591.12,88.38 591.25,73.62 591.38,86.23 591.5,73.58 591.62,75.43 591.75,73.78 591.88,75.37 592,73.73 592.12,75.7 592.25,73.93 592.38,75.4 592.5,74.76 592.62,76.4 592.75,74.96 592.88,75.97 593,74.04 593.12,76.43 593.25,74.24 593.38,76.41 593.5,74.22 593.62,89.74 593.75,74.42 593.88,88.14 594,74.26 594.12,80.79 594.25,74.46 594.38,80.65 594.5,73.71 594.62,86.82 594.75,73.91 594.88,84.68 595,74.49 595.12,85.42 595.25,74.69 595.38,83.74 595.5,74.11 595.62,86.13 595.75,74.31 595.88,85.88 596,73.9 596.12,83.77 596.25,74.1 596.38,82.51 596.5,73.69 596.62,85.56 596.75,73.89 596.88,83.89 597,74.24 597.12,80.05 597.25,74.44 597.38,79.51 597.5,73.29 597.62,86.95 597.75,73.49 597.88,85.79 598,74.11 598.12,75.49 598.25,74.31 598.38,75.37 598.5,73.86 598.62,75.51 598.75,74.06 598.88,75.42 599,74.61 599.25,74.97 599.5,74.71 599.62,76.43 599.75,74.91 599.88,76.06 600,74.12 600.12,84.7 600.25,74.32 600.38,84.54 600.5,74.75 600.62,75.23 600.75,74.95 600.88,75.04 601,74.61 601.25,75.07 601.5,74.61 601.75,74.98 602,73.58 602.12,75.6 602.25,73.78 602.38,75.51 602.5,73.45 602.62,75.9 602.75,73.65 602.88,75.83 603,74.62 603.12,86.4 603.25,74.82 603.38,83.98 603.5,74.06 603.62,82.28 603.75,74.26 603.88,81.92 604,73.7 604.12,76.68 604.25,73.9 604.38,76.54 604.5,74.61 604.75,74.98 605,73.53 605.12,76.8 605.25,73.73 605.38,76.29 605.5,73.52 605.62,76.7 605.75,73.72 605.88,76.42 606,73.87 606.12,80.15 606.25,74.07 606.38,79.36 606.5,73.43 606.62,78.9 606.75,73.63 606.88,78.46 607,74.56 607.12,75.72 607.25,74.76 607.38,75.51 607.5,73.54 607.62,76.57 607.75,73.74 607.88,76.4 608,73.51 608.12,75.18 608.25,73.71 608.38,75.01 608.5,74.61 608.75,75.08 609,73.52 609.12,76.03 609.25,73.72 609.38,76 609.5,74.54 609.62,80.98 609.75,74.74 609.88,80.05 610,73.81 610.12,79.24 610.25,74.01 610.38,78.28 610.5,74.4 610.62,75.53 610.75,74.6 610.88,75.48 611,74.61 611.25,74.97 611.5,73.63 611.62,76.61 611.75,73.83 611.88,76.23 612,73.73 612.12,75.82 612.25,73.93 612.38,75.58 612.5,74.02 612.62,76.15 612.75,74.22 612.88,76.1 613,73.84 613.12,86.75 613.25,74.04 613.38,84.76 613.5,74.22 613.62,80.04 613.75,74.42 613.88,79.53 614,74.43 614.12,79.94 614.25,74.63 614.38,78.83 614.5,73.4 614.62,83.23 614.75,73.6 614.88,81.78 615,73.46 615.12,81.22 615.25,73.66 615.38,80.16 615.5,73.81 615.62,80.98 615.75,74.01 615.88,80.05 616,74.06 616.12,88.64 616.25,74.26 616.38,88.43 616.5,73.83 616.62,84.43 616.75,74.03 616.88,83.33 617,73.46 617.12,80.8 617.25,73.66 617.38,80.33 617.5,74.33 617.62,81.36 617.75,74.53 617.88,80.99 618,73.52 618.12,83.25 618.25,73.72 618.38,82.88 618.5,73.91 618.62,91.8 618.75,74.11 618.88,89.36 619,74.29 619.12,86 619.25,74.49 619.38,85.43 619.5,74.39 619.62,81.49 619.75,74.59 619.88,80.85 620,73.76 620.12,82.11 620.25,73.96 620.38,81.74 620.5,74.7 620.62,83.96 620.75,74.9 620.88,83.45 621,73.98 621.12,85.45 621.25,74.18 621.38,83.25 621.5,74.61 621.75,74.99 622,74.61 622.25,74.99 622.5,74.61 622.75,74.88 623,74.61 623.25,74.85 623.5,74.61 623.75,74.84 624,74.61 624.25,75.04 624.5,74.61 624.75,74.74 625,74.61 625.25,74.91 625.5,74.61 625.75,75.04 626,74.61 626.25,75 626.5,73.46 626.62,85.68 626.75,73.66 626.88,84.59 627,73.26 627.12,84.41 627.25,73.46 627.38,83.85 627.5,73.46 627.62,84.5 627.75,73.66 627.88,84.47 628,74.44 628.12,76.95 628.25,74.64 628.38,76.84 628.5,74.65 628.62,75.8 628.75,74.85 628.88,75.7 629,74.44 629.12,76.87 629.25,74.64 629.38,76.57 629.5,74.75 629.62,76.96 629.75,74.95 629.88,76.5 630,74.31 630.12,86.08 630.25,74.51 630.38,83.99 630.5,73.84 630.62,82.41 630.75,74.04 630.88,82.36 631,73.27 631.12,88.64 631.25,73.47 631.38,87.96 631.5,73.89 631.62,85.03 631.75,74.09 631.88,83.43 632,74.61 632.12,84.81 632.25,74.81 632.38,83.5 632.5,74.61 632.75,74.97 633,74.11 633.12,76.62 633.25,74.31 633.38,76.53 633.5,74.31 633.62,75.75 633.75,74.51 633.88,75.65 634,74.61 634.25,75.05 634.5,73.27 634.62,82.62 634.75,73.47 634.88,82.43 635,74.13 635.12,87.13 635.25,74.33 635.38,86.6 635.5,73.88 635.62,79.28 635.75,74.08 635.88,78.69 636,73.63 636.12,84.61 636.25,73.83 636.38,82.69 636.5,74.55 636.62,86.71 636.75,74.75 636.88,84.73 637,74.67 637.12,84.83 637.25,74.87 637.38,83.9 637.5,73.56 637.62,84.13 637.75,73.76 637.88,82.39 638,74.16 638.12,79.01 638.25,74.36 638.38,78.71 638.5,74.38 638.62,79.97 638.75,74.58 638.88,79.04 639,74.61 639.25,74.99 639.5,74.31 639.62,75.5 639.75,74.51 639.88,75.45 640,74.61 640.25,74.97 640.5,74.61 640.75,75.03 641,73.4 641.12,83.75 641.25,73.6 641.38,83.7 641.5,74.34 641.62,86.3 641.75,74.54 641.88,83.92 642,73.83 642.12,85.59 642.25,74.03 642.38,84.14 642.5,73.81 642.62,80.12 642.75,74.01 642.88,79.12 643,74.39 643.12,82.44 643.25,74.59 643.38,82.42 643.5,74.57 643.62,83.37 643.75,74.77 643.88,82.62 644,73.45 644.12,75.22 644.25,73.65 644.38,75.02 644.5,74.3 644.62,76.31 644.75,74.5 644.88,76.31 645,73.74 645.12,75.42 645.25,73.94 645.38,75.39 645.5,74.74 645.62,75.25 645.75,74.94 645.88,75.07 646,73.52 646.12,75.96 646.25,73.72 646.38,75.96 646.5,73.76 646.62,86.45 646.75,73.96 646.88,86.05 647,74.54 647.12,91.06 647.25,74.74 647.38,90.36 647.5,73.87 647.62,81.15 647.75,74.07 647.88,80.88 648,74.17 648.12,76.14 648.25,74.37 648.38,76.09 648.5,74.41 648.62,76.87 648.75,74.61 648.88,76.72 649,74.54 649.12,75.23 649.25,74.74 649.38,75.03 649.5,73.82 649.62,75.45 649.75,74.02 649.88,75.2 650,74.08 650.12,86.6 650.25,74.28 650.38,86.08 650.5,73.74 650.62,85.26 650.75,73.94 650.88,83.38 651,74.35 651.12,85.45 651.25,74.55 651.38,84.92 651.5,73.33 651.62,90.79 651.75,73.53 651.88,89.05 652,73.48 652.12,83.34 652.25,73.68 652.38,82.2 652.5,74.35 652.62,84.4 652.75,74.55 652.88,82.79 653,74.71 653.12,76.02 653.25,74.91 653.38,75.68 653.5,74.42 653.62,76.85 653.75,74.62 653.88,76.31 654,74 654.12,75.94 654.25,74.2 654.38,75.81 654.5,73.81 654.62,75.22 654.75,74.01 654.88,75.03 655,73.61 655.12,83.67 655.25,73.81 655.38,82.65 655.5,74.75 655.62,87.95 655.75,74.95 655.88,85.91 656,74.59 656.12,84.93 656.25,74.79 656.38,83.48 656.5,74.41 656.62,85.12 656.75,74.61 656.88,84.56 657,74.59 657.12,84.95 657.25,74.79 657.38,82.96 657.5,74.17 657.62,82.69 657.75,74.37 657.88,81.77 658,74.25 658.12,80.74 658.25,74.45 658.38,79.79 658.5,74.73 658.62,78.23 658.75,74.93 658.88,77.8 659,74.07 659.12,80.38 659.25,74.27 659.38,79.61 659.5,73.71 659.62,87.55 659.75,73.91 659.88,85 660,73.28 660.12,81.18 660.25,73.48 660.38,80.88 660.5,73.42 660.62,82.78 660.75,73.62 660.88,81.68 661,74.07 661.12,79.11 661.25,74.27 661.38,78.14 661.5,74.47 661.62,88.96 661.75,74.67 661.88,88.28 662,73.85 662.12,86.2 662.25,74.05 662.38,84.85 662.5,73.79 662.62,91.79 662.75,73.99 662.88,88.53 663,73.88 663.12,86.91 663.25,74.08 663.38,85.21 663.5,74.09 663.62,76.42 663.75,74.29 663.88,76.41 664,73.97 664.12,76.36 664.25,74.17 664.38,76.1 664.5,74.58 664.62,76.2 664.75,74.78 664.88,76.01 665,74.62 665.12,75.46 665.25,74.82 665.38,75.21 665.5,73.73 665.62,75.79 665.75,73.93 665.88,75.5 666,74.42 666.12,85.6 666.25,74.62 666.38,84.11 666.5,73.35 666.62,76.12 666.75,73.55 666.88,75.74 667,74.61 667.25,75.11 667.5,73.56 667.62,76.5 667.75,73.76 667.88,76.44 668,74.16 668.12,76.48 668.25,74.36 668.38,76.3 668.5,74.57 668.62,76.02 668.75,74.77 668.88,75.7 669,74.06 669.12,79.77 669.25,74.26 669.38,78.86 669.5,74.59 669.62,85.22 669.75,74.79 669.88,83.03 670,74.68 670.12,86.43 670.25,74.88 670.38,85.35 670.5,73.45 670.62,82.94 670.75,73.65 670.88,82.7 671,74.45 671.12,84.66 671.25,74.65 671.38,83.1 671.5,74.59 671.62,84.32 671.75,74.79 671.88,82.68 672,74.01 672.12,83.41 672.25,74.21 672.38,82.14 672.5,73.33 672.62,86.35 672.75,73.53 672.88,85.26 673,74.74 673.12,83.51 673.25,74.94 673.38,83.13 673.5,73.89 673.62,84.17 673.75,74.09 673.88,83.07 674,73.35 674.12,79.58 674.25,73.55 674.38,79.04 674.5,73.28 674.62,83.86 674.75,73.48 674.88,83.69 675,74.61 675.25,75.06 675.5,73.48 675.62,75.93 675.75,73.68 675.88,75.84 676,73.39 676.12,75.61 676.25,73.59 676.38,75.44 676.5,74.61 676.75,74.98 677,73.97 677.12,84.78 677.25,74.17 677.38,82.71 677.5,73.42 677.62,81.91 677.75,73.62 677.88,81.59 678,73.43 678.12,83.89 678.25,73.63 678.38,82.63 678.5,74.22 678.62,76.93 678.75,74.42 678.88,76.87 679,74.66 679.12,75.88 679.25,74.86 679.38,75.64 679.5,74.49 679.62,76.72 679.75,74.69 679.88,76.53 680,73.3 680.12,75.36 680.25,73.5 680.38,75.32 680.5,74.54 680.62,86.39 680.75,74.74 680.88,84.95 681,73.58 681.12,84.38 681.25,73.78 681.38,82.75 681.5,73.43 681.62,87.79 681.75,73.63 681.88,85.17 682,74.24 682.12,87.13 682.25,74.44 682.38,86.48 682.5,73.57 682.62,87.48 682.75,73.77 682.88,85.34 683,74.33 683.12,85.69 683.25,74.53 683.38,85.36 683.5,73.28 683.62,83.33 683.75,73.48 683.88,82.02 684,74.17 684.12,76.37 684.25,74.37 684.38,76.18 684.5,73.66 684.62,76.01 684.75,73.86 684.88,75.66 685,73.59 685.12,76.14 685.25,73.79 685.38,75.86 685.5,74.76 685.62,76.18 685.75,74.96 685.88,75.9 686,74.7 686.12,75.93 686.25,74.9 686.38,75.59 686.5,74.03 686.62,83.67 686.75,74.23 686.88,82.29 687,73.66 687.12,82.4 687.25,73.86 687.38,81.47 687.5,73.74 687.62,85.03 687.75,73.94 687.88,84.93 688,73.3 688.12,78.98 688.25,73.5 688.38,78.37 688.5,74.37 688.62,85.65 688.75,74.57 688.88,84.99 689,74.2 689.12,91.52 689.25,74.4 689.38,89.39 689.5,73.56 689.62,87.03 689.75,73.76 689.88,86.15 690,73.44 690.12,85.46 690.25,73.64 690.38,83.7 690.5,73.88 690.62,81.77 690.75,74.08 690.88,81.37 691,74.43 691.12,84.57 691.25,74.63 691.38,83.2 691.5,73.45 691.62,79.85 691.75,73.65 691.88,78.87 692,74.61 692.25,74.92 692.5,74.61 692.75,74.73 693,74.61 693.25,75.04 693.5,74.61 693.75,74.81 694,74.38 694.12,84.18 694.25,74.58 694.38,82.27 694.5,73.86 694.62,86.03 694.75,74.06 694.88,85.23 695,74.3 695.12,75.23 695.25,74.5 695.38,75.15 695.5,74.61 695.75,75.07 696,74.17 696.12,75.62 696.25,74.37 696.38,75.4 696.5,73.72 696.62,76.06 696.75,73.92 696.88,75.96 697,73.38 697.12,80.79 697.25,73.58 697.38,80.55 697.5,74.24 697.62,75.39 697.75,74.44 697.88,75.34 698,74.23 698.12,75.93 698.25,74.43 698.38,75.67 698.5,74.61 698.75,75.11 699,74.15 699.12,75.9 699.25,74.35 699.38,75.88 699.5,74.04 699.62,86.83 699.75,74.24 699.88,84.36 700,74.04 700.12,85.11 700.25,74.24 700.38,84.67 700.5,73.91 700.62,87.83 700.75,74.11 700.88,85.94 701,73.64 701.12,84.31 701.25,73.84 701.38,83.54 701.5,73.77 701.62,85.83 701.75,73.97 701.88,85.13 702,73.38 702.12,86.47 702.25,73.58 702.38,85.69 702.5,74.74 702.62,90.72 702.75,74.94 702.88,90.39 703,74.52 703.12,86.64 703.25,74.72 703.38,85.9 703.5,73.31 703.62,82.15 703.75,73.51 703.88,81.24 704,74.04 704.12,90.03 704.25,74.24 704.38,87.08 704.5,73.58 704.62,88.56 704.75,73.78 704.88,87.09 705,73.5 705.12,82.29 705.25,73.7 705.38,81.09 705.5,73.33 705.62,78.95 705.75,73.53 705.88,78.95 706,74.65 706.12,82.18 706.25,74.85 706.38,81.77 706.5,73.81 706.62,86.06 706.75,74.01 706.88,86.01 707,73.87 707.12,85.16 707.25,74.07 707.38,84.98 707.5,73.6 707.62,89.57 707.75,73.8 707.88,87.44 708,73.56 708.12,86.8 708.25,73.76 708.38,86.73 708.5,73.37 708.62,76.77 708.75,73.57 708.88,76.67 709,74.59 709.12,76.35 709.25,74.79 709.38,76.06 709.5,73.87 709.62,75.25 709.75,74.07 709.88,75.05 710,74.46 710.12,75.17 710.25,74.66 710.38,75.01 710.5,74.66 710.62,81.55 710.75,74.86 710.88,80.93 711,73.47 711.12,85.18 711.25,73.67 711.38,83.35 711.5,74.07 711.62,75.51 711.75,74.27 711.88,75.25 712,73.28 712.12,76.48 712.25,73.48 712.38,76.32 712.5,74.27 712.62,75.52 712.75,74.47 712.88,75.5 713,73.45 713.12,76.92 713.25,73.65 713.38,76.55 713.5,74.53 713.62,82.29 713.75,74.73 713.88,80.88 714,73.8 714.12,86.01 714.25,74 714.38,85.43 714.5,73.54 714.62,84.8 714.75,73.74 714.88,84.06 715,74.43 715.12,82.79 715.25,74.63 715.38,81.83 715.5,73.71 715.62,86.47 715.75,73.91 715.88,85.64 716,74.37 716.12,81.38 716.25,74.57 716.38,80.45 716.5,74.47 716.62,79.8 716.75,74.67 716.88,79.17 717,73.51 717.12,89.34 717.25,73.71 717.38,89.27 717.5,73.3 717.62,83.01 717.75,73.5 717.88,82.15 718,73.57 718.12,85.2 718.25,73.77 718.38,84.34 718.5,73.89 718.62,75.84 718.75,74.09 718.88,75.63 719,74.01 719.12,75.66 719.25,74.21 719.38,75.45 719.5,74.75 719.62,75.22 719.75,74.95 719.88,75.05"/>
</g>
<path class="tk" d="M153.5 164.35v-5.3M153.5 60v6.1M290.5 164.35v-5.3M290.5 60v6.1M428.5 164.35v-5.3M428.5 60v6.1M566.5 164.35v-5.3M566.5 60v6.1M704.5 164.35v-5.3M704.5 60v6.1M100 149.5h6.7M720 149.5h-4.6M100 134.5h6.7M720 134.5h-4.6M100 119.5h6.7M720 119.5h-4.6M100 104.5h6.7M720 104.5h-4.6M100 89.5h6.7M720 89.5h-4.6M100 74.5h6.7M720 74.5h-4.6"/>
<text class="t" x="132.2" y="180" style="letter-spacing:-0.71px">15:00</text>
<text class="t" x="268.73" y="180" style="letter-spacing:-0.74px">23:00</text>
<text class="t" x="406.95" y="180" style="letter-spacing:-0.78px">07:00</text>
<text class="t" x="544.8" y="180" style="letter-spacing:-0.71px">15:00</text>
<text class="t" x="681.92" y="180" style="letter-spacing:-0.74px">23:00</text>
<text class="t" x="128.02" y="194" style="letter-spacing:-0.58px">Jan 08</text>
<text class="t" x="265.82" y="194" style="letter-spacing:-0.62px">Jan 08</text>
<text class="t" x="403.93" y="194" style="letter-spacing:-0.62px">Jan 09</text>
<text class="t" x="541.93" y="194" style="letter-spacing:-0.62px">Jan 09</text>
<text class="t" x="678.93" y="194" style="letter-spacing:-0.62px">Jan 09</text>
<text class="t" x="80.52" y="169">-1</text>
<text class="t" x="85.25" y="154">0</text>
<text class="t" x="86.52" y="139">1</text>
<text class="t" x="85.65" y="124">2</text>
<text class="t" x="85.27" y="109">3</text>
<text class="t" x="85.2" y="94">4</text>
<text class="t" x="85.4" y="79">5</text>
<text class="t" x="85.02" y="65">6</text>
<text class="t" transform="translate(73.3 171.88) rotate(-90)" style="letter-spacing:-0.15px">Low Flow Volts</text>
<text class="ti" x="334.18" y="56" style="letter-spacing:0.14px">PG Flow Alarms</text>
</g>
<g id="ax2">
<rect x="100" y="185.22" width="620" height="104.35" fill="#fff"/>
<clipPath id="c2"><rect x="100" y="185.22" width="620" height="104.35"/></clipPath>
<rect class="sp" x="100" y="185.22" width="620" height="104.35"/>
<g clip-path="url(#c2)" stroke="#00ff00" stroke-width="0.9">
<polyline class="d" points="100,220 289.1,220 289.9,254.78 290.4,254.78 291.3,220 292.3,220 293.4,254.78 294,254.78 295,220 296,220 296.6,254.78 298.5,254.78 299.1,220 300,220 300.6,254.78 302,254.78 302.6,220 303.6,220 304.4,254.78 309.6,254.78 310.4,220 310.6,220 311.4,254.78 316.6,254.78 318,220 319,220 319.6,254.78 325.6,254.78 326.9,220 720,220"/>
</g>
<path class="tk" d="M153.5 289.57v-5.3M153.5 185.22v6.1M290.5 289.57v-5.3M290.5 185.22v6.1M428.5 289.57v-5.3M428.5 185.22v6.1M566.5 289.57v-5.3M566.5 185.22v6.1M704.5 289.57v-5.3M704.5 185.22v6.1M100 272.5h6.7M720 272.5h-4.6M100 254.5h6.7M720 254.5h-4.6M100 237.5h6.7M720 237.5h-4.6M100 220.5h6.7M720 220.5h-4.6M100 202.5h6.7M720 202.5h-4.6"/>
<text class="t" x="132.2" y="305" style="letter-spacing:-0.71px">15:00</text>
<text class="t" x="268.73" y="305" style="letter-spacing:-0.74px">23:00</text>
<text class="t" x="406.95" y="305" style="letter-spacing:-0.78px">07:00</text>
<text class="t" x="544.8" y="305" style="letter-spacing:-0.71px">15:00</text>
<text class="t" x="681.92" y="305" style="letter-spacing:-0.74px">23:00</text>
<text class="t" x="128.02" y="319" style="letter-spacing:-0.58px">Jan 08</text>
<text class="t" x="265.82" y="319" style="letter-spacing:-0.62px">Jan 08</text>
<text class="t" x="403.93" y="319" style="letter-spacing:-0.62px">Jan 09</text>
<text class="t" x="541.93" y="319" style="letter-spacing:-0.62px">Jan 09</text>
<text class="t" x="678.93" y="319" style="letter-spacing:-0.62px">Jan 09</text>
<text class="t" x="64.4" y="294" style="letter-spacing:-0.25px">-1.0</text>
<text class="t" x="64.2" y="277" style="letter-spacing:-0.12px">-0.5</text>
<text class="t" x="71.25" y="259" style="letter-spacing:-0.8px">0.0</text>
<text class="t" x="71.05" y="242" style="letter-spacing:-0.61px">0.5</text>
<text class="t" x="71.1" y="225" style="letter-spacing:-0.72px">1.0</text>
<text class="t" x="70.9" y="207" style="letter-spacing:-0.54px">1.5</text>
<text class="t" x="71.12" y="190" style="letter-spacing:-0.74px">2.0</text>
<text class="t" transform="translate(57 295.27) rotate(-90)" style="letter-spacing:-0.02px">Low Flow Bool</text>
</g>
<g id="ax3">
<rect x="100" y="310.43" width="620" height="104.35" fill="#fff"/>
<clipPath id="c3"><rect x="100" y="310.43" width="620" height="104.35"/></clipPath>
<rect class="sp" x="100" y="310.43" width="620" height="104.35"/>
<g clip-path="url(#c3)" stroke="#006400" stroke-width="0.8">
<polyline class="d" points="100.5,422.24 100.5,398.75 100.5,399.02 100.5,340.22 100.5,339.87 100.5,399.1 100.5,398.59 100.5,340.75 100.8,339.51 100.8,398.77 101.1,398.75 101.1,338.33 101.4,339.7 101.4,399.29 101.7,398.96 101.7,337.83 102,334.51 102,399.11 102.3,399.32 102.3,339.03 102.6,340.08 102.6,399.14 102.6,398.59 102.6,340.05 102.6,340.3 102.6,398.81 102.6,398.53 104.4,398.53 104.4,398.56 104.4,343.65 104.4,344.23 104.4,399.18 104.4,399.33 104.4,343.87 104.72,347.41 104.72,398.89 105.05,399.25 105.05,345.53 105.38,349.25 105.38,399.33 105.7,398.62 105.7,346.35 105.7,346.23 105.7,399.4 105.7,398.93 105.7,345.62 105.7,398.81 105.7,398.53 107.5,398.53 107.5,398.99 107.5,344.65 107.5,344.7 107.5,399.06 107.5,399.06 107.5,343.88 107.8,348.06 107.8,399.37 108.09,399.3 108.09,344.57 108.39,346.39 108.39,398.68 108.69,399.31 108.69,349.6 108.98,346.34 108.98,399.05 109.28,399.18 109.28,346.77 109.57,347.59 109.57,399.05 109.87,398.79 109.87,346.52 110.17,349.78 110.17,399.42 110.46,398.61 110.46,349.97 110.76,350.48 110.76,398.67 111.05,398.8 111.05,348.01 111.35,343.9 111.35,398.57 111.65,399.09 111.65,345.89 111.94,346.03 111.94,398.83 112.24,399.33 112.24,345.25 112.54,346.28 112.54,399.43 112.83,398.81 112.83,349.96 113.13,347.73 113.13,398.56 113.42,398.71 113.42,344.55 113.42,344.25 113.42,398.67 113.42,398.57 113.42,343.86 113.42,398.82 113.42,398.53 117.48,398.53 117.48,399.4 117.48,340.89 117.54,341.66 117.54,398.95 117.54,398.53 118.98,398.53 118.98,399 118.98,347.45 119.04,347.52 119.04,399.04 119.04,398.53 121.53,398.53 121.53,399.09 121.53,339.51 121.53,340.16 121.53,398.92 121.53,399.18 121.53,340.56 121.83,340.28 121.83,399.41 122.14,399 122.14,339.33 122.44,340.13 122.44,398.91 122.75,399.06 122.75,340.12 123.05,340.82 123.05,399.1 123.36,398.59 123.36,343.98 123.66,345.81 123.66,399.15 123.97,398.85 123.97,345.45 124.27,345.4 124.27,398.55 124.58,398.59 124.58,344.86 124.88,342.54 124.88,398.76 125.19,398.94 125.19,343.09 125.5,343.49 125.5,398.86 125.8,398.82 125.8,343.42 126.11,343.08 126.11,398.8 126.41,398.87 126.41,335.57 126.72,335.27 126.72,399.05 127.02,399.2 127.02,336.86 127.33,338 127.33,399.26 127.63,398.75 127.63,338.05 127.94,336.81 127.94,399.16 128.24,398.63 128.24,335.24 128.55,335.2 128.55,399.28 128.55,398.93 128.55,334.42 128.55,335.45 128.55,398.84 128.55,398.53 130.45,398.53 130.45,399.12 130.45,337.37 130.45,338.01 130.45,398.74 130.45,398.64 130.45,337.9 130.72,338.4 130.72,399.26 131,399.29 131,340.44 131.28,344.36 131.28,399.26 131.55,399.11 131.55,345.6 131.55,346.29 131.55,398.65 131.55,398.8 131.55,345.62 131.55,398.78 131.55,398.53 133.45,398.53 133.45,398.85 133.45,353.87 133.45,353.86 133.45,398.9 133.45,399.36 133.45,354.25 133.75,354.48 133.75,399.38 134.06,399.33 134.06,351.46 134.36,349.17 134.36,399.39 134.66,399.37 134.66,347.94 134.97,347.16 134.97,399.29 135.27,399.13 135.27,344.06 135.57,337.54 135.57,398.84 135.88,398.74 135.88,334.6 136.18,334.14 136.18,398.79 136.49,399.26 136.49,335.1 136.79,337.2 136.79,399.16 137.09,399.37 137.09,343.96 137.4,347.34 137.4,399.05 137.7,398.55 137.7,347.57 137.7,348.42 137.7,398.8 137.7,399.13 137.7,347.89 137.7,398.91 137.7,398.53 139.3,398.53 139.3,399.38 139.3,345.73 139.3,346.14 139.3,398.76 139.3,399.31 139.3,345.94 139.61,345.48 139.61,398.85 139.92,398.71 139.92,345.43 140.23,344.18 140.23,398.69 140.55,399.25 140.55,343.61 140.86,343.78 140.86,399.28 141.17,398.54 141.17,344.04 141.48,342.86 141.48,398.58 141.79,398.78 141.79,342.06 142.1,340 142.1,398.91 142.41,398.96 142.41,336.45 142.72,336.27 142.72,398.58 142.72,398.65 142.72,336.09 142.72,336.17 142.72,399.41 142.72,398.53 144.67,398.53 144.67,399.3 144.67,345.97 144.67,345.35 144.67,398.82 144.67,398.82 144.67,345.57 144.98,339.45 144.98,399.06 145.29,398.86 145.29,337.29 145.59,337.09 145.59,398.65 145.9,399.03 145.9,336.51 146.2,336.74 146.2,398.61 146.51,398.69 146.51,336.21 146.81,335.59 146.81,399.24 147.12,398.88 147.12,337.22 147.43,343.26 147.43,398.92 147.43,398.87 147.43,343.45 147.43,343.14 147.43,398.91 147.43,398.53 149.57,398.53 149.57,399.16 149.57,339.57 149.57,339.9 149.57,399.02 149.57,399.16 149.57,340.15 149.88,341.38 149.88,398.92 150.18,399.33 150.18,342.56 150.49,344.37 150.49,399.34 150.79,399.25 150.79,343.38 151.09,340.77 151.09,398.64 151.4,399.27 151.4,339.16 151.7,338.52 151.7,399.25 152.01,399.13 152.01,338.6 152.31,341.06 152.31,398.63 152.61,399.06 152.61,346.29 152.92,348.29 152.92,399.23 153.22,398.57 153.22,346.59 153.53,343.03 153.53,399.33 153.53,398.7 153.53,343.15 153.53,341.93 153.53,398.64 153.53,398.53 155.47,398.53 155.47,399.29 155.47,346.18 155.47,345.94 155.47,399.39 155.47,399.06 155.47,345.99 155.76,345.59 155.76,399.22 156.05,398.99 156.05,341.51 156.34,340.88 156.34,399.21 156.63,399.38 156.63,341.96 156.92,343.6 156.92,399.04 157.21,399.28 157.21,344.73 157.5,344.82 157.5,398.76 157.79,399.09 157.79,343.97 158.08,344.33 158.08,398.86 158.37,398.89 158.37,344.04 158.66,343.76 158.66,398.61 158.95,398.98 158.95,342.94 159.24,343.77 159.24,399.21 159.53,398.68 159.53,343.36 159.53,343.26 159.53,399.14 159.53,399 159.53,343.67 159.53,399.11 159.53,398.53 161.47,398.53 161.47,399.34 161.47,348.62 161.47,348.7 161.47,399.21 161.47,399.36 161.47,348.07 161.78,348.18 161.78,399.18 162.08,398.7 162.08,348.44 162.38,348.55 162.38,399.06 162.69,398.82 162.69,347.66 162.99,345.32 162.99,399.39 163.29,398.8 163.29,344.46 163.59,344.82 163.59,399.3 163.9,399.06 163.9,344.8 164.2,344.87 164.2,398.55 164.5,398.97 164.5,344.62 164.8,344.94 164.8,398.86 165.1,398.82 165.1,341.68 165.41,337.09 165.41,399.43 165.71,398.97 165.71,339.55 166.01,341.31 166.01,399.29 166.31,399.27 166.31,341.17 166.62,341.29 166.62,399.18 166.92,399.31 166.92,340.95 167.22,339.53 167.22,399.4 167.53,398.95 167.53,341.09 167.53,341.08 167.53,399.18 167.53,399.14 167.53,340.01 167.53,399.3 167.53,398.53 169.47,398.53 169.47,398.75 169.47,343.49 169.47,343.39 169.47,398.7 169.47,399.17 169.47,342.49 169.77,341.44 169.77,398.76 170.07,399.31 170.07,340.33 170.37,339.18 170.37,399.19 170.67,398.61 170.67,339.67 170.97,337.21 170.97,398.8 171.27,398.86 171.27,334.87 171.57,337.07 171.57,398.54 171.86,398.84 171.86,344.84 172.16,348.47 172.16,398.72 172.46,399.06 172.46,347.77 172.76,348.61 172.76,399.02 173.06,398.64 173.06,346.13 173.36,340.22 173.36,398.64 173.66,399.33 173.66,337.2 173.95,338.22 173.95,399.38 174.25,398.87 174.25,336.85 174.55,337.42 174.55,398.8 174.85,399.14 174.85,339.06 174.85,338.83 174.85,398.77 174.85,399.21 174.85,338.6 174.85,399.14 174.85,398.53 176.55,398.53 176.55,399.02 176.55,338.66 176.55,338.09 176.55,398.85 176.55,399.18 176.55,337.82 176.85,336.5 176.85,398.7 177.15,399.12 177.15,334.39 177.44,335.21 177.44,399.34 177.74,399.12 177.74,336.92 178.04,336.52 178.04,398.66 178.34,398.83 178.34,339.23 178.64,346.59 178.64,399.03 178.93,399.12 178.93,343.45 179.23,336.96 179.23,398.69 179.53,398.6 179.53,333.43 179.83,334.22 179.83,399.02 180.13,399.2 180.13,334.93 180.43,334.46 180.43,398.88 180.43,399.32 180.43,334.79 180.43,334.1 180.43,398.76 180.43,398.53 182.57,398.53 182.57,399.23 182.57,346.35 182.57,346.38 182.57,398.9 182.57,399.02 182.57,345.73 182.9,338.14 182.9,399.3 183.22,398.64 183.22,338.27 183.55,337.92 183.55,398.64 183.88,399.24 183.88,335.2 183.88,336.01 183.88,398.7 183.88,398.91 183.88,335.18 183.88,399.27 183.88,398.53 186.52,398.53 186.52,399.21 186.52,341.57 186.52,342.24 186.52,398.89 186.52,398.71 186.52,341.67 186.87,341.61 186.87,398.72 187.21,398.76 187.21,341.29 187.55,340.68 187.55,399.26 187.55,399.34 187.55,339.31 187.55,340.15 187.55,399.03 187.55,398.53 189.25,398.53 189.25,399.06 189.25,345.75 189.25,345.24 189.25,399.15 189.25,398.8 189.25,345.42 189.56,348.58 189.56,399.08 189.87,399.19 189.87,350.6 190.18,349.46 190.18,399.13 190.49,398.98 190.49,349.83 190.8,346.21 190.8,398.71 191.11,399.01 191.11,339.42 191.43,335.61 191.43,399.12 191.74,398.93 191.74,336.7 192.05,336.71 192.05,399.34 192.36,398.66 192.36,338.46 192.67,343.23 192.67,398.58 192.98,398.86 192.98,343.26 193.29,342.38 193.29,399.02 193.6,399.37 193.6,341.46 193.6,340.65 193.6,399.16 193.6,398.66 193.6,340.66 193.6,399.08 193.6,398.53 195.4,398.53 195.4,399.37 195.4,336.05 195.4,336.01 195.4,398.84 195.4,399.26 195.4,335.72 195.71,341.03 195.71,398.93 196.01,399.22 196.01,344.19 196.32,342.9 196.32,398.57 196.62,398.6 196.62,339.06 196.93,337.27 196.93,398.98 197.23,399.16 197.23,339.61 197.54,345.59 197.54,399.12 197.84,398.81 197.84,348.43 198.15,347.99 198.15,398.9 198.45,398.7 198.45,347.78 198.76,347.23 198.76,398.86 199.07,398.87 199.07,345.89 199.37,344.98 199.37,398.74 199.68,398.54 199.68,345.62 199.98,344.89 199.98,398.66 200.29,398.95 200.29,345.83 200.59,345.81 200.59,398.69 200.9,398.9 200.9,345.87 201.2,345.48 201.2,398.63 201.51,398.69 201.51,343.6 201.81,343.64 201.81,398.55 202.12,398.94 202.12,343.12 202.43,346.44 202.43,398.58 202.43,398.9 202.43,346.9 202.43,347.45 202.43,399.4 202.43,398.53 206.57,398.53 206.57,398.73 206.57,340.94 206.57,340.38 206.57,398.68 206.57,399.09 206.57,340.57 206.86,341.82 206.86,398.58 207.14,399.19 207.14,342.05 207.43,340.71 207.43,398.95 207.43,399.37 207.43,341.43 207.43,341.51 207.43,398.77 207.43,398.53 212.57,398.53 212.57,399.27 212.57,337.83 212.57,338.25 212.57,398.62 212.57,399.15 212.57,337.32 212.9,336.8 212.9,398.54 213.22,398.56 213.22,337.18 213.55,337.07 213.55,398.57 213.88,398.58 213.88,336.7 213.88,336.34 213.88,398.71 213.88,399.41 213.88,336.97 213.88,399.26 213.88,398.53 217.42,398.53 217.42,399.36 217.42,345.92 217.48,347.27 217.48,398.81 217.48,398.53 221.02,398.53 221.02,399.08 221.02,348.57 221.02,349.85 221.02,398.8 221.02,399.3 221.02,349.81 221.34,349.4 221.34,398.83 221.65,399.15 221.65,337.58 221.97,335.03 221.97,399.2 222.28,399.19 222.28,336.5 222.6,341.84 222.6,399.37 222.6,398.86 222.6,342.04 222.6,342.32 222.6,399.24 222.6,398.53 224.4,398.53 224.4,398.97 224.4,349.94 224.4,350.09 224.4,399.18 224.4,399.08 224.4,349.28 224.7,349.77 224.7,398.97 224.99,398.67 224.99,349.28 225.29,350.31 225.29,398.95 225.59,399.22 225.59,349.33 225.89,338.09 225.89,398.75 226.18,399.29 226.18,334.72 226.48,337.31 226.48,399.32 226.78,398.94 226.78,338.75 227.08,339 227.08,398.83 227.37,398.87 227.37,339.98 227.67,339.63 227.67,399.39 227.97,398.63 227.97,339.66 228.27,340.48 228.27,398.61 228.56,399.12 228.56,340.29 228.86,342.64 228.86,398.67 229.16,399.11 229.16,348.04 229.46,348.9 229.46,398.74 229.75,399.4 229.75,346.69 230.05,342.4 230.05,398.91 230.05,399.24 230.05,342.34 230.05,342.07 230.05,399.02 230.05,398.53 231.95,398.53 231.95,398.7 231.95,348.13 231.95,348.28 231.95,399.28 231.95,398.64 231.95,348.36 232.25,346.96 232.25,398.71 232.56,399.34 232.56,348.18 232.86,347.45 232.86,398.73 233.17,399.28 233.17,347.15 233.47,343.67 233.47,399.22 233.78,399.32 233.78,337.25 234.08,333.44 234.08,398.94 234.38,398.63 234.38,336.46 234.69,337.94 234.69,399.27 234.99,398.72 234.99,338.03 235.3,338.57 235.3,399.19 235.6,398.6 235.6,339.62 235.9,339.85 235.9,398.6 236.21,399.03 236.21,340.27 236.51,342.34 236.51,399.12 236.82,399.08 236.82,343.45 237.12,342.45 237.12,399.43 237.43,398.84 237.43,340.31 237.43,340.83 237.43,398.73 237.43,398.68 237.43,339.56 237.43,399.19 237.43,398.53 240.57,398.53 240.57,399.32 240.57,333.96 240.57,334.52 240.57,399.37 240.57,399.02 240.57,334.81 240.86,334.47 240.86,399.35 241.15,399.39 241.15,336.33 241.44,338.24 241.44,398.9 241.73,399.43 241.73,339.19 242.02,340.13 242.02,399.37 242.31,398.7 242.31,340.14 242.6,338.64 242.6,398.8 242.6,399 242.6,338.77 242.6,339.66 242.6,399.2 242.6,398.53 244.4,398.53 244.4,398.78 244.4,336.68 244.4,336.81 244.4,399.2 244.4,399.21 244.4,336.89 244.71,337.64 244.71,398.8 245.02,398.9 245.02,338.61 245.32,338.97 245.32,399.22 245.63,399.16 245.63,343.12 245.94,344.91 245.94,399.32 246.25,398.87 246.25,346.13 246.25,345.9 246.25,398.95 246.25,399.01 246.25,345.56 246.25,398.86 246.25,398.53 248.15,398.53 248.15,399.3 248.15,339.51 248.15,339.25 248.15,399.33 248.15,399.26 248.15,339.49 248.45,339.57 248.45,399.26 248.75,398.54 248.75,338.69 249.04,335.98 249.04,399.02 249.34,398.68 249.34,339.74 249.64,351.8 249.64,399.23 249.94,398.95 249.94,350.65 250.23,350.94 250.23,399.42 250.53,398.57 250.53,351.83 250.83,352.09 250.83,398.92 251.13,398.84 251.13,349.75 251.43,348.25 251.43,398.62 251.43,398.81 251.43,348.7 251.43,347.87 251.43,398.91 251.43,398.53 256.57,398.53 256.57,398.77 256.57,335.23 257.03,334.95 257.03,399.1 257.03,398.53 259.57,398.53 259.57,399.14 259.57,349.47 259.57,349.62 259.57,398.76 259.57,398.66 259.57,349.7 259.86,347 259.86,398.99 260.15,399.28 260.15,348.68 260.44,348.72 260.44,398.69 260.73,398.55 260.73,348.17 261.02,348.77 261.02,399.35 261.31,398.95 261.31,346.49 261.6,348.02 261.6,399.27 261.89,399.08 261.89,339.84 262.18,339.69 262.18,398.69 262.18,398.7 262.18,339.44 262.18,338.98 262.18,399.03 262.18,398.53 267.03,398.53 267.03,398.9 267.03,341.31 267.43,337.9 267.43,399.26 267.43,398.53 269.78,398.53 269.78,398.94 269.78,342.62 269.78,343.82 269.78,398.82 269.78,399 269.78,343.44 270.09,342.78 270.09,399.28 270.4,399.37 270.4,343.14 270.71,343.02 270.71,399.05 271.02,399.03 271.02,340.37 271.33,339.7 271.33,399.17 271.64,399.35 271.64,339.96 271.95,337.67 271.95,398.87 272.26,399 272.26,334.43 272.57,332.88 272.57,399.11 272.88,398.71 272.88,341.76 273.19,345.8 273.19,398.88 273.5,399.28 273.5,343.75 273.5,343.82 273.5,399.39 273.5,399.38 273.5,343.75 273.5,398.89 273.5,398.53 275.3,398.53 275.3,398.79 275.3,336.77 275.3,336.59 275.3,399.42 275.3,398.61 275.3,336.62 275.61,336.58 275.61,398.61 275.92,399.01 275.92,337.24 276.24,337.46 276.24,399.1 276.55,399.27 276.55,339.43 276.55,339.01 276.55,399.4 276.55,398.6 276.55,339.03 276.55,398.97 276.55,398.53 278.45,398.53 278.45,398.78 278.45,336.79 278.45,337.53 278.45,398.75 278.45,399.4 278.45,337.39 278.76,338.49 278.76,398.69 279.08,399.43 279.08,339.95 279.39,340 279.39,398.66 279.7,398.58 279.7,341.05 279.7,341.92 279.7,398.7 279.7,399.27 279.7,340.88 279.7,398.58 279.7,398.53 281.5,398.53 281.5,399.4 281.5,343.61 281.5,343.83 281.5,398.63 281.5,398.89 281.5,342.93 281.84,343.5 281.84,398.65 282.18,398.66 282.18,342.92 282.52,342.32 282.52,399.36 282.52,398.6 282.52,342.56 282.52,341.44 282.52,399.43 282.52,398.53 284.48,398.53 284.48,399.42 284.48,347.16 284.48,346.99 284.48,399.39 284.48,398.97 284.48,346.47 284.76,347.05 284.76,398.55 285.04,398.84 285.04,346.41 285.33,343.2 285.33,399.05 285.61,398.95 285.61,337.24 285.9,338.75 285.9,399.02 286.18,399.28 286.18,348.17 286.18,347.58 286.18,399.37 286.18,399.3 286.18,348.2 286.18,399.4 286.18,398.53 289.5,398.53 290,399.26 290.28,402.07 290.56,398.69 290.84,402.03 291.12,399.06 291.4,402.25 291.68,399.63 291.96,400.89 292.24,399.86 292.52,400.96 292.8,399.82 293.08,401.14 293.36,400.11 293.64,400.95 293.92,399.96 294.2,401.32 294.48,399.03 294.76,401.26 295.04,399.21 295.32,401.25 295.6,399.81 295.88,400.63 296.16,400.18 296.44,400.75 296.72,400.3 297,400.76 297.28,400.26 297.56,401.35 297.84,400.01 298.12,401.35 298.4,399.91 298.68,400.84 298.96,399.67 299.24,401.19 299.52,399.52 299.8,401.72 300.08,399.81 300.36,401.48 300.64,399.52 300.92,401.81 301.2,399.63 301.48,401.18 301.76,398.86 302.04,401.15 302.32,399.08 302.6,401.96 302.88,399.8 303.16,401.9 303.44,399.46 303.72,401.7 304,399.81 304.28,401.17 304.56,399.6 304.84,400.89 305.12,399.98 305.4,401.27 305.68,399.87 305.96,401.1 306.24,399.64 306.52,400.96 306.8,399.87 307.08,401.15 307.36,399.78 307.64,402.06 307.92,399.73 308.2,401.46 308.48,399.22 308.76,402.03 309.04,399.48 309.32,402.04 309.6,399.28 309.88,401.44 310.16,399.5 310.44,401.3 310.72,400.22 311,400.65 311.28,400.27 311.56,400.72 311.84,400.34 312.12,400.7 312.4,400.19 312.68,400.6 312.96,400.22 313.24,400.65 313.52,399.4 313.8,401.18 314.08,398.91 314.36,401.16 314.64,399.33 314.92,401.95 315.2,399.69 315.48,401.85 315.76,399.69 316.04,400.89 316.32,399.88 316.6,400.91 316.88,399.66 317.16,400.99 317.44,399.87 317.72,401.37 318,399.66 318.28,401.35 318.56,399.14 318.84,401.44 319.12,399.55 319.4,401.59 319.68,398.93 319.96,401.24 320.24,399.01 320.52,401.65 320.8,399.64 321.08,402.05 321.36,398.96 321.64,401.31 321.92,399.33 322.2,402.28 322.48,399.26 322.76,402.19 323.04,398.77 323.32,402.08 323.6,398.9 323.88,402.16 324.16,399.26 324.44,402.09 324.72,399.35 325,401.83 325.28,399.48 325.56,401.3 325.84,398.98 326.12,401.59 326.4,399.05 326.68,401.45 326.96,399.55 327.3,398.53 340.1,398.53 340.25,374.98 341.35,374.98 341.4,398.53 344.2,398.53 344.2,399.29 344.2,334.48 344.4,334.34 344.4,398.72 344.4,398.53 355,398.53 355,398.58 355,345.55 355.62,346.4 355.62,399.32 355.62,398.53 357.77,398.53 357.77,398.64 357.77,338.04 358.43,335.7 358.43,399.25 358.43,398.53 360.57,398.53 360.57,399.43 360.57,345.26 360.57,345.5 360.57,399.22 360.57,398.62 360.57,345.48 360.87,342.58 360.87,398.67 361.16,399.07 361.16,333.63 361.45,334.43 361.45,398.87 361.45,398.82 361.45,334.65 361.45,334.29 361.45,399.42 361.45,398.53 363.21,398.53 363.21,399.38 363.21,334.22 363.27,334.26 363.27,398.79 363.27,398.53 366.37,398.53 366.37,399.41 366.37,345.1 366.43,344.72 366.43,398.98 366.43,398.53 369.57,398.53 369.57,399.19 369.57,335.91 369.93,337.34 369.93,398.79 369.93,398.53 372.57,398.53 372.57,399.4 372.57,340.64 372.57,340.6 372.57,399.01 372.57,399.32 372.57,339.84 372.88,340.41 372.88,398.93 373.19,399.09 373.19,340.88 373.5,340.24 373.5,399.3 373.81,399.23 373.81,340.79 374.12,339.65 374.12,398.88 374.43,399.42 374.43,340.53 374.43,340.75 374.43,399.03 374.43,399.33 374.43,340.43 374.43,399.31 374.43,398.53 376.57,398.53 376.57,399.17 376.57,346.07 376.57,346.16 376.57,398.99 376.57,398.89 376.57,346.05 376.9,339.24 376.9,399.32 377.23,399.06 377.23,342.35 377.55,346.96 377.55,398.87 377.55,399.09 377.55,347.08 377.55,347.17 377.55,398.82 377.55,398.53 379.45,398.53 379.45,398.79 379.45,348.6 379.45,347.84 379.45,399.36 379.45,399.02 379.45,347.55 379.75,347.41 379.75,399.29 380.04,399.36 380.04,347.3 380.34,345.58 380.34,398.64 380.63,399.33 380.63,345.35 380.93,345.5 380.93,399.34 381.22,398.79 381.22,346.53 381.22,345.59 381.22,399.07 381.22,398.61 381.22,346.77 381.22,398.85 381.22,398.53 383.57,398.53 383.57,398.54 383.57,341.37 383.57,342.33 383.57,398.78 383.57,398.88 383.57,341.84 383.88,345.48 383.88,399.1 384.18,399.13 384.18,345.47 384.48,345.98 384.48,399.42 384.78,399.16 384.78,346 385.08,342.8 385.08,399.21 385.39,399.43 385.39,335.38 385.69,335.1 385.69,398.97 385.99,398.91 385.99,333.06 386.29,332.8 386.29,398.83 386.59,398.91 386.59,336.97 386.9,347.93 386.9,398.72 387.2,398.89 387.2,349.12 387.5,346.97 387.5,398.56 387.5,399.38 387.5,347.15 387.5,347.07 387.5,398.61 387.5,398.53 389.3,398.53 389.3,398.74 389.3,339.42 389.3,338.84 389.3,399.02 389.3,398.79 389.3,338.65 389.58,337.35 389.58,399.01 389.86,398.72 389.86,341.84 390.14,342.92 390.14,398.65 390.43,399.01 390.43,341.73 390.43,342.12 390.43,399.23 390.43,399.35 390.43,341.37 390.43,399.2 390.43,398.53 392.78,398.53 392.78,398.72 392.78,334.56 393.43,336.17 393.43,398.82 393.43,398.53 396.78,398.53 396.78,398.71 396.78,343.3 396.78,344.27 396.78,399.27 396.78,399.38 396.78,344.42 397.07,338.5 397.07,398.89 397.36,398.72 397.36,337.22 397.65,341.82 397.65,398.98 397.65,398.88 397.65,340.61 397.65,340.63 397.65,398.59 397.65,398.53 399.35,398.53 399.35,398.9 399.35,333.96 399.43,334.69 399.43,398.76 399.43,398.53 402.57,398.53 402.57,398.77 402.57,341.26 402.57,341.78 402.57,398.63 402.57,398.73 402.57,341.63 402.86,341.18 402.86,398.76 403.14,399.16 403.14,340.9 403.43,340.22 403.43,399.08 403.43,398.69 403.43,340.1 403.43,340.64 403.43,399.02 403.43,398.53 405.57,398.53 405.57,399.07 405.57,343.81 405.57,344.08 405.57,398.58 405.57,399.24 405.57,343.46 405.86,338.31 405.86,399.06 406.14,398.78 406.14,344.65 406.42,348.24 406.42,398.73 406.42,399.27 406.42,347.79 406.42,348.74 406.42,399.43 406.42,398.53 409.27,398.53 409.27,398.97 409.27,337.96 409.33,337.16 409.33,398.84 409.33,398.53 415.07,398.53 415.07,399.19 415.07,345.3 415.07,346.01 415.07,399.01 415.07,399.3 415.07,345.46 415.37,344.9 415.37,399.31 415.67,398.94 415.67,343.56 415.97,343.9 415.97,399.28 416.27,398.72 416.27,345.59 416.57,345.07 416.57,399.03 416.87,398.81 416.87,344.87 417.16,339.51 417.16,399.02 417.46,399.42 417.46,337.79 417.76,337.92 417.76,398.8 418.06,398.54 418.06,339.97 418.36,343.78 418.36,398.85 418.66,398.97 418.66,345.98 418.95,346.46 418.95,399.16 419.25,399.04 419.25,346.25 419.55,344.31 419.55,399.03 419.55,398.82 419.55,343.4 419.55,344.22 419.55,398.89 419.55,398.53 421.41,398.53 421.41,398.71 421.41,337.55 421.47,337.3 421.47,398.63 421.47,398.53 424.37,398.53 424.37,398.58 424.37,340.02 424.43,340.43 424.43,398.99 424.43,398.53 426.78,398.53 426.78,398.68 426.78,347.21 426.78,346.55 426.78,399.37 426.78,399.32 426.78,346.59 427.07,344.02 427.07,398.59 427.36,398.78 427.36,338.67 427.66,336.51 427.66,398.64 427.95,399.39 427.95,340.23 428.25,341.8 428.25,398.77 428.54,399.4 428.54,340.53 428.83,336.68 428.83,398.99 429.13,398.71 429.13,335.79 429.42,334.32 429.42,399.25 429.72,399.19 429.72,333.62 430.01,334.49 430.01,399.17 430.31,399.21 430.31,334.46 430.6,334.19 430.6,399.41 430.6,398.83 430.6,333.73 430.6,334.62 430.6,399.13 430.6,398.53 432.4,398.53 432.4,398.78 432.4,350.68 432.4,350.88 432.4,399.32 432.4,399.2 432.4,350.68 432.74,350.41 432.74,398.92 433.08,399.26 433.08,351.05 433.43,342.96 433.43,399.06 433.43,398.88 433.43,343.7 433.43,343.51 433.43,399.11 433.43,398.53 435.57,398.53 435.57,398.72 435.57,335.17 435.57,335.55 435.57,399.39 435.57,399.3 435.57,335.22 435.85,337.72 435.85,398.57 436.12,399.04 436.12,342.59 436.4,345.04 436.4,398.72 436.68,398.68 436.68,344.95 436.95,345.31 436.95,398.97 437.23,399.2 437.23,346.19 437.23,345.6 437.23,399.14 437.23,399.08 437.23,346.17 437.23,398.66 437.23,398.53 440.77,398.53 440.77,399.1 440.77,333.63 440.77,334.74 440.77,398.54 440.77,398.61 440.77,333.78 441.08,338.22 441.08,398.94 441.38,399.43 441.38,349.48 441.68,350 441.68,399.17 441.98,398.54 441.98,347.96 442.28,343.33 442.28,398.69 442.58,398.56 442.58,341.59 442.88,340.34 442.88,399.41 443.18,398.63 443.18,336.56 443.48,335.64 443.48,399.26 443.78,398.93 443.78,335.22 444.08,335.71 444.08,398.74 444.38,398.94 444.38,336.01 444.68,338.72 444.68,398.74 444.98,398.91 444.98,340.1 445.28,339.78 445.28,399.05 445.58,399.03 445.58,339.36 445.88,338.75 445.88,398.56 446.18,398.56 446.18,336.55 446.48,335.71 446.48,399.05 446.78,398.77 446.78,334.56 447.08,334.18 447.08,399.13 447.38,399.2 447.38,339 447.68,349.14 447.68,398.81 447.98,398.59 447.98,353.59 448.28,354.03 448.28,398.62 448.58,399.37 448.58,351.59 448.88,344.58 448.88,398.93 449.18,398.65 449.18,344.02 449.48,345.26 449.48,398.86 449.78,399.43 449.78,345.33 450.09,342.35 450.09,398.97 450.39,398.76 450.39,336.14 450.69,340.25 450.69,398.54 450.99,398.96 450.99,344.3 451.29,346.8 451.29,399.32 451.59,399.35 451.59,349.55 451.89,348.62 451.89,398.81 452.19,398.96 452.19,349.18 452.49,347.95 452.49,398.65 452.79,399.1 452.79,345.84 453.09,343.31 453.09,398.57 453.39,399.4 453.39,344.47 453.69,344.63 453.69,399.2 453.99,399.01 453.99,343.12 454.29,342.53 454.29,399.1 454.59,398.61 454.59,341.8 454.89,342.04 454.89,399.4 455.19,398.54 455.19,340.5 455.49,335.2 455.49,399.37 455.79,398.91 455.79,334.16 456.09,336.8 456.09,398.89 456.39,398.95 456.39,337.95 456.69,338.8 456.69,398.81 456.99,399.2 456.99,338.46 457.29,339 457.29,398.77 457.59,398.86 457.59,340.47 457.89,341.19 457.89,399.4 458.19,398.96 458.19,342 458.49,340.89 458.49,398.59 458.79,398.75 458.79,338.71 459.1,337.77 459.1,398.75 459.4,398.7 459.4,342.16 459.7,343.25 459.7,398.99 460,398.76 460,342.2 460.3,342.67 460.3,398.84 460.6,398.92 460.6,343.46 460.9,342.45 460.9,399.21 461.2,398.86 461.2,342.47 461.5,343.29 461.5,398.73 461.8,398.74 461.8,343.72 462.1,343.26 462.1,399.11 462.4,399.19 462.4,339.1 462.7,336.48 462.7,398.96 463,398.87 463,336.87 463.3,336.97 463.3,398.71 463.6,398.89 463.6,336.07 463.6,335.97 463.6,399.36 463.6,398.71 463.6,335.71 463.6,399.25 463.6,398.53 465.4,398.53 465.4,399.18 465.4,337.27 465.4,338.53 465.4,399.23 465.4,399.34 465.4,338.55 465.71,343.11 465.71,399.39 466.02,398.8 466.02,345.36 466.33,345.28 466.33,398.93 466.64,398.66 466.64,346.31 466.95,345.4 466.95,398.91 467.26,398.82 467.26,343.32 467.57,337.3 467.57,398.76 467.88,398.55 467.88,336.07 468.19,339.92 468.19,398.88 468.5,399.41 468.5,341.43 468.5,341.72 468.5,399.33 468.5,398.75 468.5,341.52 468.5,399.38 468.5,398.53 470.3,398.53 470.3,398.74 470.3,345.81 470.43,346.66 470.43,398.81 470.43,398.53 472.78,398.53 472.78,398.73 472.78,336.54 472.78,336.51 472.78,398.89 472.78,398.99 472.78,336.9 473.07,336.1 473.07,399.37 473.37,399.21 473.37,336.13 473.66,346.27 473.66,398.76 473.96,398.72 473.96,349.16 474.25,347.66 474.25,399.35 474.55,399.36 474.55,347.71 474.55,348.37 474.55,398.92 474.55,398.58 474.55,347.19 474.55,398.77 474.55,398.53 476.45,398.53 476.45,398.79 476.45,336.47 476.45,337.58 476.45,399.36 476.45,398.81 476.45,336.89 476.76,344.73 476.76,399.34 477.07,398.89 477.07,347.88 477.38,346.02 477.38,399.07 477.69,398.76 477.69,344.02 478,341.96 478,398.56 478.31,399.32 478.31,340.32 478.62,336.63 478.62,398.83 478.93,398.64 478.93,345.32 479.24,348.61 479.24,398.9 479.55,398.83 479.55,346.12 479.86,340.09 479.86,399.23 480.17,398.93 480.17,337.19 480.47,338.4 480.47,398.64 480.47,398.69 480.47,337.86 480.47,338.41 480.47,398.88 480.47,398.53 482.32,398.53 482.32,399 482.32,345.91 482.32,346.62 482.32,398.86 482.32,398.86 482.32,347.16 482.6,346.36 482.6,398.97 482.88,398.98 482.88,346.5 483.15,345.3 483.15,399.18 483.43,398.7 483.43,342.21 483.43,343.51 483.43,399.31 483.43,398.69 483.43,342.49 483.43,398.77 483.43,398.53 485.71,398.53 485.71,398.6 485.71,338.04 485.77,337.59 485.77,399.3 485.77,398.53 487.5,398.53 487.5,399.32 487.5,343.95 487.93,344.46 487.93,398.88 487.93,398.53 490.07,398.53 490.07,398.63 490.07,341.02 490.07,341.47 490.07,399.2 490.07,399.25 490.07,340.66 490.38,339.86 490.38,399.32 490.69,399.03 490.69,340.64 491,339.37 491,398.62 491.31,398.61 491.31,339.59 491.62,340.66 491.62,399.13 491.93,398.56 491.93,340.9 492.24,340.14 492.24,398.57 492.55,398.99 492.55,339.81 492.55,340.89 492.55,399.17 492.55,399.2 492.55,340.29 492.55,399.22 492.55,398.53 494.45,398.53 494.45,399.16 494.45,347.86 494.45,347.6 494.45,399.02 494.45,399.41 494.45,347.56 494.75,347.01 494.75,398.65 495.05,399.3 495.05,347.22 495.34,347.11 495.34,399.14 495.64,398.66 495.64,337.25 495.94,333.72 495.94,399.31 496.24,398.79 496.24,334.1 496.54,335.13 496.54,399.34 496.83,398.93 496.83,337.12 497.13,338.09 497.13,399.16 497.43,398.82 497.43,338.36 497.73,337.72 497.73,399.23 498.02,398.8 498.02,338.09 498.02,336.81 498.02,399.19 498.02,399.07 498.02,337.59 498.02,399.4 498.02,398.53 499.98,398.53 499.98,398.92 499.98,340.52 499.98,340.69 499.98,398.85 499.98,399.07 499.98,340.3 500.29,341.73 500.29,399.12 500.61,398.95 500.61,343.31 500.93,343.4 500.93,399.09 501.24,398.98 501.24,341.25 501.56,336.76 501.56,399.28 501.88,398.71 501.88,335.36 501.88,336.09 501.88,399.3 501.88,398.6 501.88,335.81 501.88,398.93 501.88,398.53 503.92,398.53 503.92,399.17 503.92,340.43 503.92,340.34 503.92,398.65 503.92,399.04 503.92,339.87 504.23,341.11 504.23,398.69 504.54,398.71 504.54,340.44 504.84,341.56 504.84,399.04 505.15,398.79 505.15,337.98 505.45,336.66 505.45,399.14 505.76,398.54 505.76,337.21 506.06,337.13 506.06,398.57 506.37,399.25 506.37,337.36 506.67,337.38 506.67,399.1 506.98,399.06 506.98,337.08 507.29,336.54 507.29,399 507.59,398.84 507.59,339.64 507.9,344.67 507.9,398.86 508.2,399.02 508.2,342.7 508.51,338.65 508.51,398.57 508.81,398.68 508.81,336.97 509.12,337.31 509.12,399.06 509.43,398.75 509.43,343.21 509.43,343.33 509.43,398.59 509.43,399.21 509.43,343.93 509.43,399.43 509.43,398.53 511.78,398.53 511.78,398.66 511.78,339.28 511.78,339.33 511.78,399.31 511.78,399.27 511.78,338.84 512.08,339.48 512.08,398.92 512.39,399.17 512.39,339.62 512.7,337.11 512.7,399.29 513,399.37 513,334.99 513.31,336.16 513.31,399.41 513.62,398.77 513.62,341.16 513.93,343.7 513.93,398.7 513.93,399.25 513.93,343.74 513.93,342.77 513.93,398.89 513.93,398.53 516.77,398.53 516.77,399.32 516.77,350.09 516.77,350.2 516.77,399.29 516.77,398.57 516.77,350.83 517.07,350.45 517.07,398.92 517.37,399.14 517.37,345.72 517.67,342.48 517.67,399.37 517.97,399.16 517.97,340.12 518.27,338.42 518.27,399.21 518.57,399.27 518.57,339.27 518.86,340.56 518.86,399.09 519.16,398.74 519.16,340.41 519.46,341.73 519.46,399.12 519.76,398.97 519.76,341.44 520.06,341.96 520.06,398.96 520.36,399.4 520.36,343.66 520.65,345.19 520.65,399.32 520.95,399.33 520.95,345.82 521.25,344.83 521.25,399.28 521.55,399.43 521.55,344.93 521.55,345.48 521.55,398.72 521.55,399.12 521.55,345.75 521.55,399.22 521.55,398.53 523.45,398.53 523.45,399.05 523.45,348.64 523.45,349.34 523.45,398.81 523.45,399.35 523.45,348.88 523.75,349.3 523.75,399.04 524.05,398.93 524.05,345.77 524.35,339.68 524.35,398.79 524.65,399.42 524.65,336 524.95,336.19 524.95,398.78 525.25,398.71 525.25,337.53 525.56,340.01 525.56,399.12 525.86,398.73 525.86,341.47 526.16,346.78 526.16,398.87 526.46,399.06 526.46,348.57 526.76,348.27 526.76,399.21 527.06,399.42 527.06,349.07 527.36,348.38 527.36,399.39 527.66,399.13 527.66,344.89 527.96,337.53 527.96,398.56 528.26,399.25 528.26,334.39 528.56,335.3 528.56,398.81 528.86,399.09 528.86,337.69 529.16,337.94 529.16,398.77 529.46,399.37 529.46,337.53 529.77,339.51 529.77,399.21 530.07,398.88 530.07,342.42 530.37,344.46 530.37,399.31 530.67,399.22 530.67,343.57 530.97,344.57 530.97,399.27 531.27,398.54 531.27,341.2 531.57,336.01 531.57,398.59 531.87,398.91 531.87,332.76 532.17,334.01 532.17,398.82 532.47,399.27 532.47,336.12 532.77,336.16 532.77,398.89 533.07,398.6 533.07,336.05 533.37,337.39 533.37,398.76 533.68,399.23 533.68,336.61 533.68,335.97 533.68,399.31 533.68,399.07 533.68,336.27 533.68,399.22 533.68,398.53 535.52,398.53 535.52,399.28 535.52,346.03 535.52,345.96 535.52,398.82 535.52,398.9 535.52,345.42 535.82,345.45 535.82,398.54 536.12,398.71 536.12,344.96 536.42,338.11 536.42,398.71 536.72,398.69 536.72,335.79 537.02,335.93 537.02,399.41 537.32,398.94 537.32,335.72 537.62,336.39 537.62,398.72 537.92,399.24 537.92,337.33 537.92,337.61 537.92,398.58 537.92,399.17 537.92,337.11 537.92,398.81 537.92,398.53 540.08,398.53 540.08,399.28 540.08,345.13 540.08,344.76 540.08,398.61 540.08,398.85 540.08,344.1 540.37,344.67 540.37,398.67 540.66,398.75 540.66,343.45 540.96,341.97 540.96,399.33 541.25,398.59 541.25,340.07 541.54,340.44 541.54,399.27 541.84,398.85 541.84,340.74 542.13,339.02 542.13,399.1 542.43,398.56 542.43,339.11 542.43,338.11 542.43,399.32 542.43,399.3 542.43,338.02 542.43,399.03 542.43,398.53 544.77,398.53 544.77,399.32 544.77,344.83 544.77,345.03 544.77,398.92 544.77,398.56 544.77,345.73 545.07,345.49 545.07,398.95 545.37,398.64 545.37,343.04 545.66,339.48 545.66,399.2 545.96,399.34 545.96,340.22 546.25,339.66 546.25,399.4 546.55,398.77 546.55,341.01 546.55,340.01 546.55,399.33 546.55,399.25 546.55,340.59 546.55,399.08 546.55,398.53 548.45,398.53 548.45,398.64 548.45,335.66 548.45,335.38 548.45,399.2 548.45,398.61 548.45,334.62 548.75,336.03 548.75,399.41 549.05,398.75 549.05,334.98 549.34,335.05 549.34,399.39 549.64,398.96 549.64,336.7 549.94,340.25 549.94,399.28 550.24,398.63 550.24,340.84 550.53,341.27 550.53,398.59 550.83,399.38 550.83,343.38 551.13,348.86 551.13,398.77 551.43,398.56 551.43,348.54 551.73,347.9 551.73,399.42 552.02,399.1 552.02,344.11 552.32,337.02 552.32,399.18 552.62,398.88 552.62,334.3 552.92,334.74 552.92,399.03 553.21,398.72 553.21,333.97 553.51,338.19 553.51,399.06 553.81,399.03 553.81,344.91 554.11,349.2 554.11,398.76 554.4,399.15 554.4,349.11 554.7,344.67 554.7,399.4 555,398.88 555,336.72 555,337.24 555,399.38 555,399.01 555,337.04 555,399.15 555,398.53 556.7,398.53 556.7,398.71 556.7,341.22 556.7,341.13 556.7,398.95 556.7,399.13 556.7,340.64 556.98,345.12 556.98,399.27 557.27,398.66 557.27,347.41 557.55,347.52 557.55,399.38 557.55,398.54 557.55,348.2 557.55,347 557.55,398.87 557.55,398.53 559.45,398.53 559.45,399.17 559.45,343.16 559.45,343.44 559.45,398.93 559.45,399.04 559.45,342.57 559.75,343.24 559.75,399.25 560.05,398.81 560.05,342.91 560.34,342.94 560.34,399.2 560.64,399.33 560.64,343.66 560.94,342.33 560.94,399.08 561.24,398.77 561.24,343.08 561.53,343.09 561.53,398.74 561.83,399.29 561.83,341.08 562.13,340.3 562.13,398.68 562.42,398.63 562.42,341.03 562.42,340.86 562.42,399.17 562.42,398.8 562.42,340.5 562.42,399.06 562.42,398.53 565.58,398.53 565.58,398.79 565.58,353.52 565.58,354.58 565.58,399.07 565.58,398.7 565.58,354.63 565.86,353.98 565.86,399 566.14,399.09 566.14,344.44 566.42,340.38 566.42,399.24 566.7,398.67 566.7,341.91 566.99,340.8 566.99,398.9 567.27,398.63 567.27,342.13 567.55,341.35 567.55,398.69 567.55,398.87 567.55,341.38 567.55,341.87 567.55,399.12 567.55,398.53 569.45,398.53 569.45,399.39 569.45,341.23 569.45,341.48 569.45,399.1 569.45,398.81 569.45,341.46 569.76,344.92 569.76,399.06 570.07,398.98 570.07,346.5 570.38,347.32 570.38,399.18 570.69,399.41 570.69,345.12 571,339.9 571,399.42 571.31,398.61 571.31,336.61 571.62,336.63 571.62,398.6 571.93,399.1 571.93,335.9 572.24,333.52 572.24,398.81 572.55,399.37 572.55,332.88 572.55,334.01 572.55,398.9 572.55,398.67 572.55,333.08 572.55,398.62 572.55,398.53 574.45,398.53 574.45,398.6 574.45,347.62 574.45,346.51 574.45,398.76 574.45,398.82 574.45,347.13 574.75,346.97 574.75,398.91 575.05,399.39 575.05,347.29 575.36,346.78 575.36,399.31 575.66,398.75 575.66,346.3 575.96,345.31 575.96,398.82 576.26,399.34 576.26,343.56 576.56,340.7 576.56,398.83 576.87,398.63 576.87,338.18 577.17,338.83 577.17,398.84 577.47,398.69 577.47,339.15 577.77,340.75 577.77,398.65 578.07,399.03 578.07,346.26 578.38,348.98 578.38,398.99 578.68,398.89 578.68,350.63 578.98,352.01 578.98,399.34 579.28,399.04 579.28,354.02 579.58,353.03 579.58,398.72 579.89,398.69 579.89,353.46 580.19,350.35 580.19,399.05 580.49,398.63 580.49,344.53 580.79,342.96 580.79,398.84 581.09,399.42 581.09,342.01 581.4,342.49 581.4,398.6 581.7,399.3 581.7,343.86 582,344.86 582,399.24 582.3,399.37 582.3,344.81 582.6,344.2 582.6,399.35 582.91,398.83 582.91,344.43 583.21,344.27 583.21,398.93 583.51,399.43 583.51,345.26 583.81,345.81 583.81,399.17 584.11,398.71 584.11,346.06 584.42,346.22 584.42,398.97 584.72,399.04 584.72,346.63 585.02,343.91 585.02,399.36 585.32,398.86 585.32,338.29 585.62,335.08 585.62,398.99 585.93,399.14 585.93,338.93 586.23,339.18 586.23,398.83 586.53,399.28 586.53,338.93 586.83,337.95 586.83,398.81 587.13,399.34 587.13,341.09 587.44,344.8 587.44,398.65 587.74,398.67 587.74,346.74 588.04,346.97 588.04,399.02 588.34,398.73 588.34,347.05 588.64,345.19 588.64,399.34 588.95,398.61 588.95,341.35 589.25,338.85 589.25,399.05 589.55,398.76 589.55,340.38 589.55,341.7 589.55,398.66 589.55,398.55 589.55,341.21 589.55,399.31 589.55,398.53 591.45,398.53 591.45,398.79 591.45,348.66 591.45,347.89 591.45,398.6 591.45,398.55 591.45,348.09 591.75,348.95 591.75,399.01 592.05,398.66 592.05,348.19 592.35,346.17 592.35,398.94 592.64,398.78 592.64,341.57 592.94,341.46 592.94,398.59 593.24,398.75 593.24,342.53 593.54,343.53 593.54,398.78 593.84,399.13 593.84,344.49 594.14,343.52 594.14,398.85 594.43,398.73 594.43,344.76 594.73,344.68 594.73,398.73 595.03,399.33 595.03,342.55 595.33,339.1 595.33,399.4 595.63,399.4 595.63,336.92 595.93,337.7 595.93,398.83 596.23,398.99 596.23,338.73 596.23,338.59 596.23,398.73 596.23,398.75 596.23,337.99 596.23,399.08 596.23,398.53 598.57,398.53 598.57,398.94 598.57,336.42 598.57,336.2 598.57,399.15 598.57,398.55 598.57,335.86 598.88,335.46 598.88,398.84 599.19,399.4 599.19,334.77 599.49,335.25 599.49,398.56 599.8,398.93 599.8,336.17 600.1,338.4 600.1,398.62 600.41,399.05 600.41,339.64 600.72,340.83 600.72,399.01 601.02,398.8 601.02,344.64 601.33,347.16 601.33,398.61 601.63,398.79 601.63,347.75 601.94,347.19 601.94,399.35 602.24,399.38 602.24,346.86 602.55,344.37 602.55,398.75 602.55,398.72 602.55,344.04 602.55,343.64 602.55,398.55 602.55,398.53 604.45,398.53 604.45,398.97 604.45,338.52 604.45,338.17 604.45,399.28 604.45,398.89 604.45,338.25 604.76,339.84 604.76,398.94 605.07,399.11 605.07,343.94 605.38,352.93 605.38,398.99 605.69,398.7 605.69,353.32 606,349.95 606,398.85 606.31,398.71 606.31,345.73 606.62,342.86 606.62,398.89 606.93,398.85 606.93,343.16 607.24,343.31 607.24,398.99 607.55,399.07 607.55,345.05 607.55,344.31 607.55,398.81 607.55,399.41 607.55,343.79 607.55,398.65 607.55,398.53 609.45,398.53 609.45,399.16 609.45,347.58 609.45,347.93 609.45,399.32 609.45,399.35 609.45,346.92 609.75,345.73 609.75,399.41 610.06,399.03 610.06,342.84 610.37,341.45 610.37,399.31 610.67,399.3 610.67,341.97 610.98,343.53 610.98,399.03 611.28,399.06 611.28,346.14 611.59,346.8 611.59,399.3 611.89,399.15 611.89,339.33 612.2,336.44 612.2,398.71 612.5,399.26 612.5,337.29 612.5,336.13 612.5,399.1 612.5,398.78 612.5,337.19 612.5,399.07 612.5,398.53 614.3,398.53 614.3,398.95 614.3,338.18 614.3,339.07 614.3,399.32 614.3,398.92 614.3,338.56 614.6,335.13 614.6,399.08 614.89,398.93 614.89,337.75 615.19,338.14 615.19,398.56 615.48,398.76 615.48,337.35 615.78,337.9 615.78,398.61 616.07,399.3 616.07,337.27 616.37,337.04 616.37,399.06 616.66,399.18 616.66,336.76 616.96,334.9 616.96,398.53 617.25,399.3 617.25,334.9 617.55,334.25 617.55,398.81 617.55,399.21 617.55,334.62 617.55,334.29 617.55,398.82 617.55,398.53 619.45,398.53 619.45,399.28 619.45,340.31 619.45,341.17 619.45,399.21 619.45,399.38 619.45,341.12 619.75,339.35 619.75,399.37 620.04,399.4 620.04,335.78 620.34,334.09 620.34,399.37 620.63,398.77 620.63,337.39 620.92,338.11 620.92,399.24 620.92,398.99 620.92,337.85 620.92,338.37 620.92,399.12 620.92,398.53 624.58,398.53 624.58,399.16 624.58,338.78 624.58,339.14 624.58,398.62 624.58,398.77 624.58,337.72 624.86,341.42 624.86,399.34 625.14,399.21 625.14,347.87 625.42,347.5 625.42,399.39 625.7,399.3 625.7,346.59 625.99,346.85 625.99,399.17 626.27,399.22 626.27,346.49 626.55,346.77 626.55,398.56 626.55,398.82 626.55,347.39 626.55,347 626.55,399.07 626.55,398.53 628.45,398.53 628.45,398.78 628.45,339.13 628.45,339.36 628.45,398.86 628.45,399 628.45,338.62 628.75,338.1 628.75,398.6 629.05,398.76 629.05,339.27 629.35,337.76 629.35,399.1 629.65,399.13 629.65,337.82 629.95,339.51 629.95,399.35 630.25,398.83 630.25,339.55 630.55,340.37 630.55,399.21 630.85,398.81 630.85,340.56 631.15,339.19 631.15,399.19 631.45,398.94 631.45,336.49 631.75,334.77 631.75,399.05 632.05,398.87 632.05,334.22 632.35,333.45 632.35,399.11 632.65,399.26 632.65,334.02 632.95,333.11 632.95,399.38 633.25,399.01 633.25,334.34 633.55,337.2 633.55,399.22 633.55,399.31 633.55,336.24 633.55,336.57 633.55,399.02 633.55,398.53 635.45,398.53 635.45,398.64 635.45,339.32 636.23,336.73 636.23,398.72 636.23,398.53 638.57,398.53 638.57,399.08 638.57,334.16 638.57,334.46 638.57,398.85 638.57,398.75 638.57,334.34 638.87,336.67 638.87,399.32 639.17,398.89 639.17,338.26 639.47,338.16 639.47,398.87 639.77,399.21 639.77,338.79 640.07,339.48 640.07,398.53 640.37,399.19 640.37,339.48 640.67,340.95 640.67,398.59 640.97,398.82 640.97,339.99 641.27,337.77 641.27,398.71 641.56,399.06 641.56,337.33 641.86,337.63 641.86,399.3 642.16,398.93 642.16,337.39 642.46,339.12 642.46,398.9 642.76,398.7 642.76,342.62 643.06,344.88 643.06,399.03 643.36,398.98 643.36,346.68 643.66,351.97 643.66,398.6 643.96,399.02 643.96,351.07 644.26,352.26 644.26,399.42 644.55,398.87 644.55,350.92 644.85,349.58 644.85,398.78 645.15,398.73 645.15,344.34 645.45,344.2 645.45,399.26 645.75,399.06 645.75,344.85 646.05,344.5 646.05,399.27 646.35,399.29 646.35,345.23 646.65,337.29 646.65,399.39 646.95,399.05 646.95,336.13 647.25,338.23 647.25,399.12 647.54,398.92 647.54,341.88 647.84,344.66 647.84,399.16 648.14,398.67 648.14,344.83 648.44,344.59 648.44,399.36 648.74,399.35 648.74,345.32 649.04,345 649.04,399.42 649.34,398.62 649.34,345.64 649.64,344.54 649.64,399.19 649.94,398.83 649.94,341.88 650.24,340.77 650.24,399.26 650.53,398.57 650.53,339.89 650.83,337.54 650.83,399.17 651.13,399.31 651.13,336.42 651.43,336.68 651.43,399.31 651.73,399.02 651.73,337.32 652.03,336.6 652.03,399.37 652.33,398.84 652.33,335.51 652.63,337.91 652.63,399.15 652.93,399.25 652.93,345.31 653.23,348.65 653.23,398.6 653.23,398.71 653.23,349.17 653.23,348.61 653.23,399.01 653.23,398.53 656.07,398.53 656.07,398.6 656.07,346.95 656.07,347.75 656.07,398.88 656.07,398.56 656.07,347.19 656.37,348.98 656.37,399.38 656.66,398.86 656.66,351.84 656.96,352.42 656.96,398.83 657.25,399.29 657.25,352.67 657.54,351.08 657.54,399.11 657.84,399.43 657.84,348.33 658.13,348.07 658.13,398.94 658.42,399.39 658.42,345.15 658.42,345.87 658.42,398.65 658.42,398.78 658.42,345.3 658.42,398.7 658.42,398.53 660.38,398.53 660.38,399.34 660.38,350.86 660.38,350.23 660.38,399.16 660.38,398.75 660.38,350.49 660.67,350.32 660.67,398.78 660.96,399.01 660.96,346.49 661.26,338.33 661.26,398.79 661.55,398.69 661.55,335.17 661.55,335.04 661.55,398.97 661.55,399.36 661.55,335.62 661.55,398.99 661.55,398.53 663.45,398.53 663.45,398.96 663.45,343.62 663.55,343.24 663.55,398.94 663.55,398.53 665.45,398.53 665.45,398.87 665.45,343.85 665.45,343.54 665.45,399.41 665.45,398.73 665.45,344.45 665.75,341.31 665.75,398.61 666.05,398.61 666.05,338.07 666.34,334.45 666.34,398.99 666.64,398.92 666.64,335.56 666.94,337.76 666.94,399.43 667.24,399.15 667.24,344.56 667.53,348.5 667.53,398.81 667.83,398.7 667.83,348.01 668.13,345.58 668.13,398.87 668.42,398.58 668.42,345.75 668.42,344.47 668.42,399.3 668.42,399.27 668.42,345.28 668.42,398.94 668.42,398.53 670.38,398.53 670.38,399.02 670.38,334.4 670.38,335.12 670.38,399 670.38,399.03 670.38,334.32 670.68,334.8 670.68,398.54 670.98,398.9 670.98,334.13 671.29,335.69 671.29,399.1 671.59,398.65 671.59,338.32 671.9,345.38 671.9,398.63 672.2,398.94 672.2,343.3 672.51,339.32 672.51,399.21 672.81,399.3 672.81,338.5 673.11,340.1 673.11,399.21 673.42,399.07 673.42,341.52 673.72,341.55 673.72,399.2 674.03,399.16 674.03,339.93 674.33,335.23 674.33,399.17 674.64,398.95 674.64,342.77 674.94,347.13 674.94,399.03 675.25,399.05 675.25,347.02 675.55,347.81 675.55,399.14 675.55,398.64 675.55,347.29 675.55,347.41 675.55,399.16 675.55,398.53 677.45,398.53 677.45,399.31 677.45,352.21 677.45,353.34 677.45,399.35 677.45,398.96 677.45,352.93 677.74,353.62 677.74,399.31 678.04,398.74 678.04,348.62 678.33,339.28 678.33,398.74 678.62,398.79 678.62,334.65 678.91,335.06 678.91,398.86 679.21,399.21 679.21,334.72 679.5,339.28 679.5,398.87 679.5,399.15 679.5,339.58 679.5,339.59 679.5,398.89 679.5,398.53 681.3,398.53 681.3,398.71 681.3,340.91 681.3,341.06 681.3,398.85 681.3,399.13 681.3,341.94 681.58,340.87 681.58,399.34 681.86,399.41 681.86,341.87 682.14,341 682.14,399.24 682.43,398.66 682.43,341.12 682.43,341.75 682.43,398.73 682.43,398.56 682.43,341.61 682.43,399.3 682.43,398.53 684.77,398.53 684.77,399.06 684.77,348.91 684.77,348.65 684.77,398.67 684.77,399.3 684.77,348.77 685.08,347.21 685.08,398.83 685.39,398.69 685.39,342.8 685.69,345 685.69,398.77 686,399.14 686,345.67 686.31,345.85 686.31,398.69 686.61,398.98 686.61,344.42 686.92,344.11 686.92,399.11 687.23,399.34 687.23,343.97 687.23,344.44 687.23,399.21 687.23,399.13 687.23,344.6 687.23,398.68 687.23,398.53 689.47,398.53 689.47,398.87 689.47,337.26 689.53,337.21 689.53,398.81 689.53,398.53 694.38,398.53 694.38,399.02 694.38,342.61 694.38,341.83 694.38,398.94 694.38,399.23 694.38,341.44 694.67,344.9 694.67,399.4 694.97,398.69 694.97,344.66 695.26,344.63 695.26,398.73 695.56,398.8 695.56,343.45 695.86,337.44 695.86,399.22 696.15,399.4 696.15,340.02 696.45,342.31 696.45,399.23 696.75,398.85 696.75,342.36 697.05,342.21 697.05,399.16 697.34,398.82 697.34,342.01 697.64,340.41 697.64,399.25 697.94,398.96 697.94,337.45 698.23,335.66 698.23,398.95 698.53,399.19 698.53,336.62 698.83,337.11 698.83,398.57 698.83,398.91 698.83,336.11 698.83,336.48 698.83,399.11 698.83,398.53 701.17,398.53 701.17,399.38 701.17,340.3 701.17,341.08 701.17,398.73 701.17,399.02 701.17,341.18 701.46,340.63 701.46,398.61 701.75,398.89 701.75,342.62 702.04,347.67 702.04,398.67 702.34,399.21 702.34,349.93 702.62,348.88 702.62,399.09 702.62,399.33 702.62,349.43 702.62,349.49 702.62,398.77 702.62,398.53 704.58,398.53 704.58,398.59 704.58,338.25 704.58,339.34 704.58,398.61 704.58,399.37 704.58,338.87 704.88,338.8 704.88,399.36 705.19,399.19 705.19,341.69 705.49,346.46 705.49,399.12 705.8,399.15 705.8,348.95 706.1,349.86 706.1,398.99 706.41,398.59 706.41,351.87 706.72,347.88 706.72,398.67 707.02,399.06 707.02,339.56 707.33,336.1 707.33,398.92 707.63,399.25 707.63,338.43 707.94,338.98 707.94,398.74 708.24,399.43 708.24,339.07 708.55,339.23 708.55,398.54 708.55,398.85 708.55,340.06 708.55,339.41 708.55,398.69 708.55,398.53 710.45,398.53 710.45,398.75 710.45,341.4 710.45,341.64 710.45,398.79 710.45,398.99 710.45,341.66 710.74,339.49 710.74,399.39 711.04,399.18 711.04,335.83 711.33,335.12 711.33,399.13 711.62,398.75 711.62,333.03 711.91,338.17 711.91,399.18 712.21,399.23 712.21,348.54 712.5,353.51 712.5,399.26 712.79,399.27 712.79,350.82 713.09,347.05 713.09,398.56 713.38,399.26 713.38,343.86 713.67,344.34 713.67,399.14 713.96,399.26 713.96,344.88 714.26,343.78 714.26,399.41 714.55,399.32 714.55,342.2 714.55,342.86 714.55,399.08 714.55,398.64 714.55,342.34 714.55,399.13 714.55,398.53 716.45,398.53 716.45,398.9 716.45,337.98 716.45,337.79 716.45,398.9 716.45,399.36 716.45,337.36 716.75,343.63 716.75,398.7 717.04,398.76 717.04,348 717.34,347.92 717.34,399.25 717.63,398.87 717.63,345.42 717.93,339.99 717.93,398.94 718.23,399.33 718.23,337.51 718.52,337.31 718.52,398.92 718.82,398.89 718.82,337.88 719.11,337.08 719.11,399.38 719.41,399.04 719.41,340.51 719.7,346.51 719.7,399.31 720,399.08 720,348.69 720,349.05 720,398.96 720,399.17 720,348.9 720,398.77"/>
</g>
<path class="tk" d="M153.5 414.78v-5.3M153.5 310.43v6.1M290.5 414.78v-5.3M290.5 310.43v6.1M428.5 414.78v-5.3M428.5 310.43v6.1M566.5 414.78v-5.3M566.5 310.43v6.1M704.5 414.78v-5.3M704.5 310.43v6.1M100 399.5h6.7M720 399.5h-4.6M100 384.5h6.7M720 384.5h-4.6M100 370.5h6.7M720 370.5h-4.6M100 355.5h6.7M720 355.5h-4.6M100 340.5h6.7M720 340.5h-4.6M100 325.5h6.7M720 325.5h-4.6"/>
<text class="t" x="132.2" y="431" style="letter-spacing:-0.71px">15:00</text>
<text class="t" x="268.73" y="431" style="letter-spacing:-0.74px">23:00</text>
<text class="t" x="406.95" y="431" style="letter-spacing:-0.78px">07:00</text>
<text class="t" x="544.8" y="431" style="letter-spacing:-0.71px">15:00</text>
<text class="t" x="681.92" y="431" style="letter-spacing:-0.74px">23:00</text>
<text class="t" x="128.02" y="445" style="letter-spacing:-0.58px">Jan 08</text>
<text class="t" x="265.82" y="445" style="letter-spacing:-0.62px">Jan 08</text>
<text class="t" x="403.93" y="445" style="letter-spacing:-0.62px">Jan 09</text>
<text class="t" x="541.93" y="445" style="letter-spacing:-0.62px">Jan 09</text>
<text class="t" x="678.93" y="445" style="letter-spacing:-0.62px">Jan 09</text>
<text class="t" x="80.52" y="419">-1</text>
<text class="t" x="85.25" y="404">0</text>
<text class="t" x="86.52" y="389">1</text>
<text class="t" x="85.65" y="375">2</text>
<text class="t" x="85.27" y="360">3</text>
<text class="t" x="85.2" y="345">4</text>
<text class="t" x="85.4" y="330">5</text>
<text class="t" x="85.02" y="315">6</text>
<text class="t" transform="translate(73.3 423.17) rotate(-90)" style="letter-spacing:-0.2px">High flow Volts</text>
</g>
<g id="ax4">
<rect x="100" y="435.65" width="620" height="104.35" fill="#fff"/>
<clipPath id="c4"><rect x="100" y="435.65" width="620" height="104.35"/></clipPath>
<rect class="sp" x="100" y="435.65" width="620" height="104.35"/>
<g clip-path="url(#c4)" stroke="#006400" stroke-width="0.8">
<polyline class="d" points="100.5,505.7 100.5,506.13 100.5,469.48 100.5,469.78 100.5,505.91 100.5,505.89 100.5,469.54 100.8,469.46 100.8,505.67 101.1,505.63 101.1,469.43 101.4,469.68 101.4,506.07 101.7,505.62 101.7,469.67 102,469.5 102,505.75 102.3,506.18 102.3,469.39 102.6,469.92 102.6,505.63 102.6,505.94 102.6,469.37 102.6,469.71 102.6,505.75 102.6,505.22 104.4,505.22 104.4,505.87 104.4,469.92 104.4,469.8 104.4,505.88 104.4,505.91 104.4,469.79 104.72,469.8 104.72,505.75 105.05,505.89 105.05,469.76 105.38,469.92 105.38,506.12 105.7,505.95 105.7,469.55 105.7,469.82 105.7,506.21 105.7,506.13 105.7,469.86 105.7,505.82 105.7,505.22 107.5,505.22 107.5,506.05 107.5,469.51 107.5,469.37 107.5,505.87 107.5,506.12 107.5,469.53 107.8,469.75 107.8,505.97 108.09,506.15 108.09,469.43 108.39,469.63 108.39,505.97 108.69,505.64 108.69,469.79 108.98,469.46 108.98,505.87 109.28,505.72 109.28,469.61 109.57,469.51 109.57,506.02 109.87,505.84 109.87,469.67 110.17,469.63 110.17,506.08 110.46,505.93 110.46,469.7 110.76,469.64 110.76,505.64 111.05,505.64 111.05,469.51 111.35,469.34 111.35,505.97 111.65,505.85 111.65,469.83 111.94,469.63 111.94,506.21 112.24,506.08 112.24,469.61 112.54,469.42 112.54,505.76 112.83,505.93 112.83,469.36 113.13,469.59 113.13,505.89 113.42,505.78 113.42,469.61 113.42,469.36 113.42,505.62 113.42,506.09 113.42,469.44 113.42,506.15 113.42,505.22 117.48,505.22 117.48,506.06 117.48,469.45 117.54,469.62 117.54,505.95 117.54,505.22 118.98,505.22 118.98,505.87 118.98,469.9 119.04,469.41 119.04,505.96 119.04,505.22 121.53,505.22 121.53,505.74 121.53,469.63 121.53,469.64 121.53,505.83 121.53,505.83 121.53,469.61 121.83,469.56 121.83,505.98 122.14,505.89 122.14,469.92 122.44,469.8 122.44,505.72 122.75,505.97 122.75,469.42 123.05,469.46 123.05,506.1 123.36,506.11 123.36,469.78 123.66,469.43 123.66,506.02 123.97,505.67 123.97,469.92 124.27,469.93 124.27,506.07 124.58,505.77 124.58,469.87 124.88,469.56 124.88,505.82 125.19,505.66 125.19,469.84 125.5,469.62 125.5,505.72 125.8,505.78 125.8,469.51 126.11,469.66 126.11,505.81 126.41,505.9 126.41,469.92 126.72,469.7 126.72,505.87 127.02,505.73 127.02,469.87 127.33,469.39 127.33,505.92 127.63,505.74 127.63,469.57 127.94,469.44 127.94,505.63 128.24,505.63 128.24,469.85 128.55,469.5 128.55,505.71 128.55,506.04 128.55,469.53 128.55,469.61 128.55,505.75 128.55,505.22 130.45,505.22 130.45,506.2 130.45,469.46 130.45,469.62 130.45,505.75 130.45,506.01 130.45,469.7 130.72,469.59 130.72,505.81 131,506 131,469.9 131.28,469.76 131.28,506.2 131.55,506.14 131.55,469.75 131.55,469.42 131.55,505.8 131.55,506.18 131.55,469.49 131.55,505.87 131.55,505.22 133.45,505.22 133.45,505.77 133.45,469.93 133.45,469.41 133.45,505.64 133.45,506.11 133.45,469.36 133.75,469.59 133.75,505.72 134.06,506.14 134.06,469.35 134.36,469.51 134.36,505.92 134.66,505.84 134.66,469.73 134.97,469.81 134.97,506.02 135.27,505.88 135.27,469.82 135.57,469.87 135.57,506.02 135.88,505.8 135.88,469.63 136.18,469.74 136.18,506.14 136.49,506.16 136.49,469.92 136.79,469.81 136.79,505.81 137.09,506.21 137.09,469.47 137.4,469.73 137.4,505.75 137.7,506.02 137.7,469.43 137.7,469.38 137.7,505.82 137.7,506.15 137.7,469.52 137.7,505.91 137.7,505.22 139.3,505.22 139.3,506.21 139.3,469.79 139.3,469.5 139.3,505.67 139.3,505.72 139.3,469.39 139.61,469.81 139.61,506.07 139.92,505.98 139.92,469.43 140.23,469.71 140.23,505.82 140.55,505.79 140.55,469.41 140.86,469.57 140.86,506.19 141.17,506.15 141.17,469.85 141.48,469.6 141.48,505.68 141.79,505.64 141.79,469.89 142.1,469.42 142.1,506.09 142.41,506.11 142.41,469.73 142.72,469.57 142.72,506.09 142.72,505.84 142.72,469.59 142.72,469.8 142.72,505.67 142.72,505.22 144.67,505.22 144.67,505.78 144.67,469.4 144.67,469.6 144.67,506.17 144.67,505.89 144.67,469.77 144.98,469.46 144.98,506.11 145.29,505.62 145.29,469.53 145.59,469.88 145.59,505.69 145.9,506.15 145.9,469.91 146.2,469.79 146.2,506.21 146.51,505.87 146.51,469.87 146.81,469.83 146.81,505.76 147.12,506.06 147.12,469.87 147.43,469.39 147.43,505.84 147.43,506.2 147.43,469.39 147.43,469.76 147.43,505.77 147.43,505.22 149.57,505.22 149.57,505.9 149.57,469.87 149.57,469.54 149.57,505.64 149.57,505.62 149.57,469.35 149.88,469.76 149.88,505.98 150.18,505.89 150.18,469.75 150.49,469.9 150.49,506.17 150.79,506.2 150.79,469.35 151.09,469.87 151.09,505.75 151.4,505.99 151.4,469.35 151.7,469.61 151.7,506.03 152.01,506.01 152.01,469.78 152.31,469.61 152.31,505.8 152.61,505.77 152.61,469.89 152.92,469.77 152.92,506.21 153.22,505.89 153.22,469.54 153.53,469.55 153.53,506.18 153.53,505.85 153.53,469.75 153.53,469.74 153.53,505.81 153.53,505.22 155.47,505.22 155.47,506.13 155.47,469.4 155.47,469.75 155.47,505.82 155.47,505.94 155.47,469.59 155.76,469.58 155.76,505.76 156.05,505.63 156.05,469.79 156.34,469.89 156.34,505.95 156.63,505.66 156.63,469.89 156.92,469.55 156.92,505.79 157.21,506.09 157.21,469.64 157.5,469.42 157.5,505.71 157.79,505.92 157.79,469.46 158.08,469.89 158.08,506.19 158.37,505.72 158.37,469.47 158.66,469.34 158.66,506.11 158.95,505.81 158.95,469.87 159.24,469.63 159.24,506.17 159.53,505.79 159.53,469.4 159.53,469.85 159.53,506.16 159.53,505.64 159.53,469.75 159.53,506.16 159.53,505.22 161.47,505.22 161.47,506.1 161.47,469.39 161.47,469.43 161.47,506.07 161.47,506.03 161.47,469.83 161.78,469.68 161.78,505.71 162.08,506.05 162.08,469.53 162.38,469.78 162.38,505.66 162.69,506.2 162.69,469.45 162.99,469.61 162.99,505.94 163.29,506.13 163.29,469.66 163.59,469.7 163.59,505.82 163.9,505.77 163.9,469.92 164.2,469.55 164.2,505.87 164.5,505.96 164.5,469.9 164.8,469.72 164.8,505.7 165.1,505.69 165.1,469.78 165.41,469.44 165.41,505.86 165.71,505.86 165.71,469.57 166.01,469.79 166.01,505.62 166.31,505.93 166.31,469.63 166.62,469.55 166.62,505.88 166.92,506.03 166.92,469.5 167.22,469.79 167.22,505.91 167.53,505.9 167.53,469.8 167.53,469.69 167.53,505.95 167.53,506.16 167.53,469.38 167.53,505.78 167.53,505.22 169.47,505.22 169.47,506.01 169.47,469.91 169.47,469.89 169.47,505.92 169.47,506.14 169.47,469.84 169.77,469.48 169.77,506.15 170.07,505.8 170.07,469.52 170.37,469.43 170.37,505.84 170.67,506.04 170.67,469.49 170.97,469.58 170.97,506.13 171.27,506.16 171.27,469.36 171.57,469.59 171.57,505.72 171.86,505.77 171.86,469.8 172.16,469.59 172.16,506.07 172.46,505.65 172.46,469.53 172.76,469.5 172.76,505.83 173.06,505.93 173.06,469.84 173.36,469.5 173.36,505.64 173.66,506.21 173.66,469.45 173.95,469.56 173.95,505.78 174.25,506.17 174.25,469.36 174.55,469.85 174.55,506.08 174.85,506.12 174.85,469.54 174.85,469.51 174.85,505.88 174.85,506.17 174.85,469.35 174.85,505.85 174.85,505.22 176.55,505.22 176.55,506.1 176.55,469.68 176.55,469.84 176.55,505.81 176.55,505.69 176.55,469.39 176.85,469.36 176.85,505.69 177.15,505.98 177.15,469.69 177.44,469.86 177.44,505.79 177.74,505.77 177.74,469.49 178.04,469.93 178.04,505.73 178.34,505.88 178.34,469.92 178.64,469.56 178.64,505.98 178.93,506.12 178.93,469.81 179.23,469.76 179.23,505.94 179.53,505.78 179.53,469.58 179.83,469.78 179.83,506.03 180.13,506.09 180.13,469.45 180.43,469.35 180.43,505.94 180.43,505.91 180.43,469.42 180.43,469.47 180.43,505.96 180.43,505.22 182.57,505.22 182.57,505.85 182.57,469.76 182.57,469.87 182.57,506.1 182.57,505.69 182.57,469.49 182.9,469.61 182.9,506.2 183.22,506.07 183.22,469.35 183.55,469.85 183.55,505.92 183.88,505.96 183.88,469.75 183.88,469.63 183.88,505.83 183.88,505.93 183.88,469.93 183.88,505.88 183.88,505.22 186.52,505.22 186.52,505.89 186.52,469.75 186.52,469.7 186.52,506.09 186.52,506.03 186.52,469.64 186.87,469.55 186.87,505.84 187.21,505.74 187.21,469.93 187.55,469.77 187.55,505.98 187.55,506.15 187.55,469.44 187.55,469.63 187.55,506.21 187.55,505.22 189.25,505.22 189.25,505.89 189.25,469.43 189.25,469.69 189.25,506.06 189.25,506.21 189.25,469.75 189.56,469.83 189.56,505.99 189.87,505.94 189.87,469.72 190.18,469.93 190.18,505.85 190.49,505.87 190.49,469.69 190.8,469.42 190.8,505.97 191.11,506.06 191.11,469.4 191.43,469.49 191.43,505.91 191.74,506.06 191.74,469.55 192.05,469.55 192.05,506 192.36,505.86 192.36,469.56 192.67,469.55 192.67,506.18 192.98,506.09 192.98,469.43 193.29,469.47 193.29,506.11 193.6,505.98 193.6,469.73 193.6,469.78 193.6,506.04 193.6,506.14 193.6,469.61 193.6,505.71 193.6,505.22 195.4,505.22 195.4,506.12 195.4,469.64 195.4,469.65 195.4,505.64 195.4,505.92 195.4,469.49 195.71,469.68 195.71,505.83 196.01,506.01 196.01,469.92 196.32,469.63 196.32,506.19 196.62,506.03 196.62,469.69 196.93,469.52 196.93,505.98 197.23,505.74 197.23,469.81 197.54,469.4 197.54,505.78 197.84,505.66 197.84,469.44 198.15,469.62 198.15,505.84 198.45,505.92 198.45,469.49 198.76,469.83 198.76,506.01 199.07,506.05 199.07,469.45 199.37,469.77 199.37,505.98 199.68,505.76 199.68,469.6 199.98,469.83 199.98,506.09 200.29,506.14 200.29,469.74 200.59,469.8 200.59,506.2 200.9,506.04 200.9,469.43 201.2,469.92 201.2,506.16 201.51,505.99 201.51,469.74 201.81,469.68 201.81,506.07 202.12,506.09 202.12,469.82 202.43,469.56 202.43,505.72 202.43,506.2 202.43,469.67 202.43,469.39 202.43,506.05 202.43,505.22 206.57,505.22 206.57,505.98 206.57,469.78 206.57,469.62 206.57,505.7 206.57,505.7 206.57,469.51 206.86,469.72 206.86,506.07 207.14,505.76 207.14,469.5 207.43,469.5 207.43,505.8 207.43,505.68 207.43,469.7 207.43,469.64 207.43,505.68 207.43,505.22 212.57,505.22 212.57,505.73 212.57,469.9 212.57,469.58 212.57,506.15 212.57,505.75 212.57,469.91 212.9,469.51 212.9,506.11 213.22,506.2 213.22,469.57 213.55,469.73 213.55,506.12 213.88,505.69 213.88,469.52 213.88,469.88 213.88,505.86 213.88,505.91 213.88,469.71 213.88,505.72 213.88,505.22 217.42,505.22 217.42,505.76 217.42,469.44 217.48,469.66 217.48,505.97 217.48,505.22 221.02,505.22 221.02,505.74 221.02,469.51 221.02,469.74 221.02,505.97 221.02,506.16 221.02,469.34 221.34,469.91 221.34,506.1 221.65,506.13 221.65,469.74 221.97,469.7 221.97,505.97 222.28,506.17 222.28,469.69 222.6,469.41 222.6,506.07 222.6,505.71 222.6,469.39 222.6,469.93 222.6,505.7 222.6,505.22 224.4,505.22 224.4,506.02 224.4,469.9 224.4,469.71 224.4,505.7 224.4,505.9 224.4,469.43 224.7,469.39 224.7,505.64 224.99,505.65 224.99,469.43 225.29,469.91 225.29,505.78 225.59,505.69 225.59,469.88 225.89,469.92 225.89,506 226.18,506.06 226.18,469.52 226.48,469.43 226.48,506.02 226.78,505.85 226.78,469.56 227.08,469.35 227.08,506 227.37,505.76 227.37,469.9 227.67,469.37 227.67,505.97 227.97,505.83 227.97,469.57 228.27,469.6 228.27,505.93 228.56,505.65 228.56,469.72 228.86,469.69 228.86,505.74 229.16,506.15 229.16,469.68 229.46,469.54 229.46,506.05 229.75,506.06 229.75,469.5 230.05,469.48 230.05,505.77 230.05,506.2 230.05,469.84 230.05,469.38 230.05,506.13 230.05,505.22 231.95,505.22 231.95,506.13 231.95,469.9 231.95,469.88 231.95,506.11 231.95,505.9 231.95,469.71 232.25,469.34 232.25,505.64 232.56,505.94 232.56,469.67 232.86,469.86 232.86,505.85 233.17,506.04 233.17,469.41 233.47,469.92 233.47,505.93 233.78,505.67 233.78,469.45 234.08,469.88 234.08,505.64 234.38,505.85 234.38,469.5 234.69,469.75 234.69,505.7 234.99,506.09 234.99,469.45 235.3,469.42 235.3,505.8 235.6,505.87 235.6,469.79 235.9,469.6 235.9,505.82 236.21,505.82 236.21,469.46 236.51,469.36 236.51,505.97 236.82,505.68 236.82,469.54 237.12,469.67 237.12,506.21 237.43,506.05 237.43,469.43 237.43,469.51 237.43,505.94 237.43,506.16 237.43,469.44 237.43,505.79 237.43,505.22 240.57,505.22 240.57,505.71 240.57,469.71 240.57,469.62 240.57,505.68 240.57,505.82 240.57,469.59 240.86,469.91 240.86,506.11 241.15,506.01 241.15,469.75 241.44,469.76 241.44,505.83 241.73,505.81 241.73,469.49 242.02,469.63 242.02,505.93 242.31,505.71 242.31,469.39 242.6,469.74 242.6,505.81 242.6,505.66 242.6,469.35 242.6,469.65 242.6,506.17 242.6,505.22 244.4,505.22 244.4,506.17 244.4,469.35 244.4,469.45 244.4,506.17 244.4,506.17 244.4,469.45 244.71,469.85 244.71,505.93 245.02,505.96 245.02,469.34 245.32,469.46 245.32,506.04 245.63,506.07 245.63,469.72 245.94,469.37 245.94,506 246.25,505.86 246.25,469.66 246.25,469.35 246.25,505.94 246.25,505.72 246.25,469.85 246.25,506.03 246.25,505.22 248.15,505.22 248.15,505.96 248.15,469.39 248.15,469.82 248.15,505.86 248.15,506.05 248.15,469.9 248.45,469.88 248.45,505.94 248.75,505.78 248.75,469.87 249.04,469.78 249.04,506 249.34,505.93 249.34,469.89 249.64,469.89 249.64,506.13 249.94,506 249.94,469.83 250.23,469.42 250.23,505.63 250.53,505.84 250.53,469.43 250.83,469.51 250.83,505.79 251.13,506.15 251.13,469.58 251.43,469.42 251.43,506.15 251.43,505.87 251.43,469.53 251.43,469.61 251.43,506.18 251.43,505.22 256.57,505.22 256.57,506.1 256.57,469.5 257.03,469.45 257.03,506.22 257.03,505.22 259.57,505.22 259.57,505.77 259.57,469.81 259.57,469.49 259.57,506.08 259.57,505.93 259.57,469.64 259.86,469.69 259.86,506.15 260.15,506.1 260.15,469.58 260.44,469.91 260.44,506.13 260.73,505.89 260.73,469.82 261.02,469.76 261.02,506.03 261.31,505.62 261.31,469.86 261.6,469.75 261.6,506.15 261.89,506.07 261.89,469.35 262.18,469.61 262.18,505.96 262.18,505.95 262.18,469.62 262.18,469.61 262.18,506.11 262.18,505.22 267.03,505.22 267.03,506.19 267.03,469.69 267.43,469.56 267.43,505.8 267.43,505.22 269.78,505.22 269.78,505.8 269.78,469.63 269.78,469.58 269.78,505.95 269.78,506.2 269.78,469.84 270.09,469.55 270.09,506.21 270.4,506.06 270.4,469.6 270.71,469.71 270.71,505.86 271.02,506.18 271.02,469.4 271.33,469.53 271.33,506.16 271.64,506.17 271.64,469.43 271.95,469.7 271.95,505.9 272.26,506.09 272.26,469.71 272.57,469.49 272.57,505.91 272.88,505.82 272.88,469.66 273.19,469.86 273.19,505.83 273.5,505.87 273.5,469.92 273.5,469.83 273.5,505.77 273.5,506.13 273.5,469.58 273.5,505.79 273.5,505.22 275.3,505.22 275.3,506.22 275.3,469.78 275.3,469.63 275.3,506.06 275.3,506.03 275.3,469.67 275.61,469.47 275.61,505.91 275.92,506.05 275.92,469.64 276.24,469.35 276.24,506.05 276.55,505.67 276.55,469.86 276.55,469.35 276.55,505.75 276.55,505.63 276.55,469.78 276.55,505.91 276.55,505.22 278.45,505.22 278.45,506.19 278.45,469.7 278.45,469.5 278.45,506.12 278.45,505.67 278.45,469.57 278.76,469.34 278.76,505.95 279.08,505.94 279.08,469.73 279.39,469.37 279.39,506.2 279.7,505.68 279.7,469.6 279.7,469.68 279.7,506.02 279.7,505.69 279.7,469.78 279.7,505.78 279.7,505.22 281.5,505.22 281.5,505.91 281.5,469.46 281.5,469.42 281.5,506.09 281.5,506.02 281.5,469.88 281.84,469.7 281.84,506.02 282.18,505.79 282.18,469.63 282.52,469.39 282.52,505.69 282.52,506.13 282.52,469.87 282.52,469.7 282.52,506.16 282.52,505.22 284.48,505.22 284.48,505.74 284.48,469.62 284.48,469.68 284.48,506.15 284.48,506.21 284.48,469.76 284.76,469.64 284.76,506.15 285.04,505.94 285.04,469.81 285.33,469.48 285.33,505.82 285.61,505.91 285.61,469.93 285.9,469.34 285.9,506.01 286.18,506.17 286.18,469.35 286.18,469.77 286.18,505.94 286.18,505.88 286.18,469.48 286.18,506.12 286.18,505.22 344.2,505.22 344.2,505.75 344.2,469.77 344.4,469.51 344.4,505.86 344.4,505.22 355,505.22 355,505.7 355,469.82 355.62,469.6 355.62,505.98 355.62,505.22 357.77,505.22 357.77,506.19 357.77,469.62 358.43,469.57 358.43,505.71 358.43,505.22 360.57,505.22 360.57,505.87 360.57,469.77 360.57,469.52 360.57,505.78 360.57,505.75 360.57,469.71 360.87,469.65 360.87,505.82 361.16,505.98 361.16,469.83 361.45,469.41 361.45,506.03 361.45,505.94 361.45,469.9 361.45,469.74 361.45,506.03 361.45,505.22 363.21,505.22 363.21,506 363.21,469.45 363.27,469.4 363.27,505.81 363.27,505.22 366.37,505.22 366.37,505.91 366.37,469.74 366.43,469.86 366.43,505.7 366.43,505.22 369.57,505.22 369.57,505.77 369.57,469.88 369.93,469.61 369.93,506.04 369.93,505.22 372.57,505.22 372.57,505.96 372.57,469.52 372.57,469.8 372.57,505.74 372.57,505.96 372.57,469.4 372.88,469.68 372.88,505.62 373.19,505.63 373.19,469.75 373.5,469.57 373.5,505.67 373.81,505.75 373.81,469.53 374.12,469.34 374.12,505.82 374.43,505.98 374.43,469.62 374.43,469.92 374.43,505.82 374.43,505.7 374.43,469.78 374.43,506.08 374.43,505.22 376.57,505.22 376.57,506.03 376.57,469.91 376.57,469.89 376.57,506.05 376.57,505.68 376.57,469.74 376.9,469.77 376.9,505.65 377.23,505.64 377.23,469.85 377.55,469.7 377.55,506.18 377.55,506 377.55,469.79 377.55,469.53 377.55,505.78 377.55,505.22 379.45,505.22 379.45,505.93 379.45,469.74 379.45,469.37 379.45,505.83 379.45,506.1 379.45,469.55 379.75,469.43 379.75,505.98 380.04,506.14 380.04,469.69 380.34,469.53 380.34,505.99 380.63,505.93 380.63,469.6 380.93,469.61 380.93,505.85 381.22,506.16 381.22,469.56 381.22,469.61 381.22,505.65 381.22,505.92 381.22,469.83 381.22,505.75 381.22,505.22 383.57,505.22 383.57,505.88 383.57,469.61 383.57,469.78 383.57,505.78 383.57,505.94 383.57,469.65 383.88,469.69 383.88,505.68 384.18,505.84 384.18,469.54 384.48,469.61 384.48,505.94 384.78,506.12 384.78,469.5 385.08,469.52 385.08,505.64 385.39,505.8 385.39,469.53 385.69,469.84 385.69,506.17 385.99,505.7 385.99,469.41 386.29,469.81 386.29,506.12 386.59,506.13 386.59,469.73 386.9,469.4 386.9,505.71 387.2,506.13 387.2,469.71 387.5,469.67 387.5,505.69 387.5,505.98 387.5,469.77 387.5,469.53 387.5,506.1 387.5,505.22 389.3,505.22 389.3,505.98 389.3,469.93 389.3,469.36 389.3,506.17 389.3,506 389.3,469.71 389.58,469.6 389.58,506.15 389.86,505.89 389.86,469.47 390.14,469.58 390.14,505.87 390.43,506.18 390.43,469.69 390.43,469.57 390.43,505.65 390.43,505.9 390.43,469.91 390.43,506.04 390.43,505.22 392.78,505.22 392.78,505.62 392.78,469.91 393.43,469.87 393.43,505.7 393.43,505.22 396.78,505.22 396.78,505.92 396.78,469.72 396.78,469.77 396.78,506.21 396.78,506.16 396.78,469.54 397.07,469.45 397.07,506.11 397.36,505.76 397.36,469.45 397.65,469.79 397.65,505.95 397.65,505.83 397.65,469.84 397.65,469.47 397.65,506.17 397.65,505.22 399.35,505.22 399.35,505.81 399.35,469.41 399.43,469.73 399.43,506.01 399.43,505.22 402.57,505.22 402.57,506.21 402.57,469.47 402.57,469.9 402.57,505.88 402.57,505.84 402.57,469.76 402.86,469.45 402.86,505.88 403.14,506.04 403.14,469.55 403.43,469.62 403.43,505.65 403.43,506.02 403.43,469.4 403.43,469.83 403.43,506 403.43,505.22 405.57,505.22 405.57,505.91 405.57,469.73 405.57,469.51 405.57,506.2 405.57,505.63 405.57,469.4 405.86,469.7 405.86,506.12 406.14,505.72 406.14,469.5 406.42,469.87 406.42,505.82 406.42,506.2 406.42,469.54 406.42,469.46 406.42,505.89 406.42,505.22 409.27,505.22 409.27,505.9 409.27,469.64 409.33,469.47 409.33,506.05 409.33,505.22 415.07,505.22 415.07,505.73 415.07,469.67 415.07,469.61 415.07,505.96 415.07,506.17 415.07,469.43 415.37,469.84 415.37,505.84 415.67,505.68 415.67,469.92 415.97,469.89 415.97,505.73 416.27,506.08 416.27,469.53 416.57,469.46 416.57,505.79 416.87,505.71 416.87,469.35 417.16,469.44 417.16,506.19 417.46,505.63 417.46,469.7 417.76,469.55 417.76,506.06 418.06,506.16 418.06,469.61 418.36,469.7 418.36,505.62 418.66,506.1 418.66,469.35 418.95,469.39 418.95,506.01 419.25,505.82 419.25,469.79 419.55,469.47 419.55,506.18 419.55,506.19 419.55,469.83 419.55,469.58 419.55,505.93 419.55,505.22 421.41,505.22 421.41,505.87 421.41,469.46 421.47,469.37 421.47,506.05 421.47,505.22 424.37,505.22 424.37,506.04 424.37,469.52 424.43,469.54 424.43,505.94 424.43,505.22 426.78,505.22 426.78,505.77 426.78,469.47 426.78,469.86 426.78,506 426.78,505.85 426.78,469.6 427.07,469.55 427.07,505.9 427.36,506.2 427.36,469.79 427.66,469.93 427.66,506.19 427.95,505.8 427.95,469.77 428.25,469.69 428.25,505.97 428.54,506.21 428.54,469.51 428.83,469.74 428.83,505.94 429.13,505.89 429.13,469.63 429.42,469.68 429.42,505.72 429.72,505.85 429.72,469.7 430.01,469.81 430.01,506.11 430.31,505.83 430.31,469.84 430.6,469.59 430.6,506.12 430.6,506.09 430.6,469.56 430.6,469.5 430.6,505.82 430.6,505.22 432.4,505.22 432.4,505.7 432.4,469.78 432.4,469.73 432.4,505.78 432.4,505.9 432.4,469.85 432.74,469.86 432.74,505.77 433.08,505.74 433.08,469.45 433.43,469.61 433.43,505.74 433.43,505.87 433.43,469.41 433.43,469.59 433.43,505.95 433.43,505.22 435.57,505.22 435.57,505.85 435.57,469.82 435.57,469.56 435.57,505.66 435.57,506.09 435.57,469.9 435.85,469.49 435.85,505.85 436.12,506.03 436.12,469.58 436.4,469.86 436.4,505.94 436.68,505.66 436.68,469.79 436.95,469.71 436.95,505.79 437.23,506.01 437.23,469.34 437.23,469.72 437.23,506.12 437.23,505.75 437.23,469.51 437.23,505.83 437.23,505.22 440.77,505.22 440.77,505.94 440.77,469.88 440.77,469.44 440.77,505.74 440.77,505.9 440.77,469.76 441.08,469.45 441.08,505.97 441.38,505.99 441.38,469.48 441.68,469.78 441.68,505.65 441.98,506.11 441.98,469.75 442.28,469.45 442.28,506.19 442.58,505.99 442.58,469.87 442.88,469.42 442.88,506 443.18,505.76 443.18,469.81 443.48,469.63 443.48,505.69 443.78,506.16 443.78,469.51 444.08,469.44 444.08,505.85 444.38,506.17 444.38,469.85 444.68,469.51 444.68,505.77 444.98,505.62 444.98,469.86 445.28,469.81 445.28,506.08 445.58,505.84 445.58,469.65 445.88,469.57 445.88,505.78 446.18,506 446.18,469.53 446.48,469.38 446.48,505.92 446.78,506.13 446.78,469.35 447.08,469.47 447.08,505.87 447.38,505.78 447.38,469.88 447.68,469.44 447.68,505.7 447.98,505.95 447.98,469.66 448.28,469.91 448.28,505.75 448.58,506.11 448.58,469.61 448.88,469.38 448.88,506.16 449.18,505.67 449.18,469.53 449.48,469.91 449.48,505.87 449.78,505.88 449.78,469.36 450.09,469.58 450.09,505.73 450.39,505.92 450.39,469.62 450.69,469.82 450.69,505.83 450.99,506.14 450.99,469.35 451.29,469.47 451.29,505.66 451.59,506.16 451.59,469.66 451.89,469.43 451.89,505.72 452.19,505.71 452.19,469.39 452.49,469.76 452.49,505.64 452.79,505.92 452.79,469.34 453.09,469.43 453.09,505.86 453.39,506.21 453.39,469.46 453.69,469.43 453.69,506.01 453.99,505.85 453.99,469.39 454.29,469.65 454.29,506.18 454.59,505.95 454.59,469.39 454.89,469.65 454.89,505.87 455.19,505.97 455.19,469.74 455.49,469.85 455.49,505.97 455.79,506.13 455.79,469.77 456.09,469.42 456.09,506.09 456.39,506.08 456.39,469.69 456.69,469.34 456.69,506.09 456.99,505.96 456.99,469.87 457.29,469.59 457.29,505.63 457.59,506.16 457.59,469.73 457.89,469.71 457.89,505.95 458.19,506 458.19,469.59 458.49,469.64 458.49,506 458.79,506.13 458.79,469.67 459.1,469.63 459.1,506.1 459.4,505.62 459.4,469.84 459.7,469.74 459.7,505.75 460,506.15 460,469.85 460.3,469.87 460.3,505.81 460.6,505.92 460.6,469.44 460.9,469.34 460.9,506.13 461.2,505.98 461.2,469.91 461.5,469.9 461.5,506 461.8,506.11 461.8,469.78 462.1,469.35 462.1,505.95 462.4,505.96 462.4,469.56 462.7,469.89 462.7,505.72 463,506.18 463,469.77 463.3,469.88 463.3,505.79 463.6,506.05 463.6,469.78 463.6,469.81 463.6,505.78 463.6,505.91 463.6,469.49 463.6,505.8 463.6,505.22 465.4,505.22 465.4,506.14 465.4,469.35 465.4,469.44 465.4,505.66 465.4,505.81 465.4,469.38 465.71,469.42 465.71,505.7 466.02,505.88 466.02,469.72 466.33,469.49 466.33,505.63 466.64,505.81 466.64,469.48 466.95,469.4 466.95,505.64 467.26,505.97 467.26,469.54 467.57,469.41 467.57,505.87 467.88,506.2 467.88,469.82 468.19,469.87 468.19,505.7 468.5,505.97 468.5,469.86 468.5,469.77 468.5,505.74 468.5,505.65 468.5,469.36 468.5,505.82 468.5,505.22 470.3,505.22 470.3,506.2 470.3,469.5 470.43,469.8 470.43,506.18 470.43,505.22 472.78,505.22 472.78,505.62 472.78,469.35 472.78,469.92 472.78,505.77 472.78,505.95 472.78,469.93 473.07,469.48 473.07,505.67 473.37,506.11 473.37,469.91 473.66,469.62 473.66,505.74 473.96,505.79 473.96,469.64 474.25,469.71 474.25,505.85 474.55,506.01 474.55,469.82 474.55,469.83 474.55,506.03 474.55,505.8 474.55,469.38 474.55,505.87 474.55,505.22 476.45,505.22 476.45,505.9 476.45,469.92 476.45,469.92 476.45,505.68 476.45,505.99 476.45,469.54 476.76,469.36 476.76,505.88 477.07,506.04 477.07,469.73 477.38,469.89 477.38,505.87 477.69,506.04 477.69,469.45 478,469.36 478,506.12 478.31,505.96 478.31,469.6 478.62,469.63 478.62,505.9 478.93,506.03 478.93,469.59 479.24,469.42 479.24,505.89 479.55,505.9 479.55,469.44 479.86,469.53 479.86,505.93 480.17,505.96 480.17,469.45 480.47,469.57 480.47,505.77 480.47,505.8 480.47,469.57 480.47,469.91 480.47,505.89 480.47,505.22 482.32,505.22 482.32,506.15 482.32,469.8 482.32,469.67 482.32,506.04 482.32,506.17 482.32,469.52 482.6,469.56 482.6,505.85 482.88,505.88 482.88,469.55 483.15,469.72 483.15,506.09 483.43,505.62 483.43,469.48 483.43,469.49 483.43,505.8 483.43,505.63 483.43,469.73 483.43,505.97 483.43,505.22 485.71,505.22 485.71,506.09 485.71,469.41 485.77,469.81 485.77,505.67 485.77,505.22 487.5,505.22 487.5,505.69 487.5,469.34 487.93,469.55 487.93,505.69 487.93,505.22 490.07,505.22 490.07,506.03 490.07,469.36 490.07,469.57 490.07,505.76 490.07,506.19 490.07,469.51 490.38,469.82 490.38,506.08 490.69,505.92 490.69,469.59 491,469.72 491,505.79 491.31,505.87 491.31,469.62 491.62,469.66 491.62,506.14 491.93,505.66 491.93,469.82 492.24,469.37 492.24,505.98 492.55,505.99 492.55,469.56 492.55,469.79 492.55,505.85 492.55,505.74 492.55,469.84 492.55,506.21 492.55,505.22 494.45,505.22 494.45,506.06 494.45,469.41 494.45,469.93 494.45,506.04 494.45,505.8 494.45,469.64 494.75,469.53 494.75,505.64 495.05,505.84 495.05,469.6 495.34,469.41 495.34,505.93 495.64,505.81 495.64,469.57 495.94,469.58 495.94,505.79 496.24,505.95 496.24,469.77 496.54,469.93 496.54,505.8 496.83,505.67 496.83,469.64 497.13,469.63 497.13,506.14 497.43,506.07 497.43,469.49 497.73,469.34 497.73,505.78 498.02,505.84 498.02,469.8 498.02,469.87 498.02,505.93 498.02,505.92 498.02,469.86 498.02,506.17 498.02,505.22 499.98,505.22 499.98,506.2 499.98,469.89 499.98,469.93 499.98,505.65 499.98,506.06 499.98,469.42 500.29,469.9 500.29,505.62 500.61,505.94 500.61,469.74 500.93,469.92 500.93,505.62 501.24,505.74 501.24,469.81 501.56,469.76 501.56,505.95 501.88,505.77 501.88,469.79 501.88,469.81 501.88,506.15 501.88,505.76 501.88,469.6 501.88,505.89 501.88,505.22 503.92,505.22 503.92,505.82 503.92,469.69 503.92,469.93 503.92,505.73 503.92,506 503.92,469.48 504.23,469.8 504.23,505.72 504.54,506.16 504.54,469.88 504.84,469.46 504.84,506.14 505.15,505.71 505.15,469.43 505.45,469.84 505.45,505.64 505.76,505.79 505.76,469.73 506.06,469.58 506.06,505.88 506.37,506.09 506.37,469.54 506.67,469.86 506.67,505.74 506.98,506.07 506.98,469.87 507.29,469.36 507.29,506.1 507.59,505.75 507.59,469.76 507.9,469.78 507.9,505.87 508.2,505.77 508.2,469.92 508.51,469.78 508.51,505.73 508.81,505.83 508.81,469.66 509.12,469.41 509.12,506.01 509.43,505.99 509.43,469.42 509.43,469.7 509.43,505.87 509.43,505.76 509.43,469.44 509.43,506.14 509.43,505.22 511.78,505.22 511.78,506.16 511.78,469.57 511.78,469.87 511.78,505.66 511.78,506.1 511.78,469.4 512.08,469.62 512.08,506.17 512.39,506.18 512.39,469.48 512.7,469.71 512.7,505.89 513,505.83 513,469.7 513.31,469.65 513.31,505.63 513.62,505.69 513.62,469.83 513.93,469.59 513.93,506.14 513.93,506.04 513.93,469.85 513.93,469.66 513.93,505.99 513.93,505.22 516.77,505.22 516.77,505.7 516.77,469.89 516.77,469.57 516.77,505.76 516.77,506 516.77,469.83 517.07,469.42 517.07,505.8 517.37,505.87 517.37,469.6 517.67,469.4 517.67,506.17 517.97,506.12 517.97,469.52 518.27,469.89 518.27,505.73 518.57,505.94 518.57,469.34 518.86,469.5 518.86,505.73 519.16,505.83 519.16,469.36 519.46,469.63 519.46,506.14 519.76,506.13 519.76,469.47 520.06,469.56 520.06,506.02 520.36,505.82 520.36,469.86 520.65,469.37 520.65,505.64 520.95,505.78 520.95,469.57 521.25,469.36 521.25,505.74 521.55,505.77 521.55,469.43 521.55,469.74 521.55,505.86 521.55,505.83 521.55,469.91 521.55,506.18 521.55,505.22 523.45,505.22 523.45,506.04 523.45,469.93 523.45,469.88 523.45,505.7 523.45,505.84 523.45,469.4 523.75,469.85 523.75,505.75 524.05,505.8 524.05,469.63 524.35,469.39 524.35,505.94 524.65,506.16 524.65,469.61 524.95,469.68 524.95,506.14 525.25,505.97 525.25,469.65 525.56,469.63 525.56,505.83 525.86,505.88 525.86,469.89 526.16,469.81 526.16,506.08 526.46,505.7 526.46,469.81 526.76,469.84 526.76,505.84 527.06,505.65 527.06,469.72 527.36,469.57 527.36,506.02 527.66,506.14 527.66,469.88 527.96,469.55 527.96,505.74 528.26,505.82 528.26,469.59 528.56,469.43 528.56,506.02 528.86,506.21 528.86,469.92 529.16,469.75 529.16,505.91 529.46,505.64 529.46,469.9 529.77,469.71 529.77,505.95 530.07,505.7 530.07,469.89 530.37,469.74 530.37,506.06 530.67,505.96 530.67,469.34 530.97,469.57 530.97,506.15 531.27,505.96 531.27,469.65 531.57,469.69 531.57,505.66 531.87,505.66 531.87,469.54 532.17,469.42 532.17,505.63 532.47,505.73 532.47,469.74 532.77,469.75 532.77,506.12 533.07,505.77 533.07,469.75 533.37,469.64 533.37,506.19 533.68,505.79 533.68,469.55 533.68,469.91 533.68,505.88 533.68,506.17 533.68,469.8 533.68,505.83 533.68,505.22 535.52,505.22 535.52,506.01 535.52,469.6 535.52,469.59 535.52,505.98 535.52,506.02 535.52,469.74 535.82,469.72 535.82,505.86 536.12,505.93 536.12,469.59 536.42,469.41 536.42,505.85 536.72,505.89 536.72,469.44 537.02,469.35 537.02,505.76 537.32,506.06 537.32,469.79 537.62,469.49 537.62,505.64 537.92,505.92 537.92,469.59 537.92,469.52 537.92,506.17 537.92,506.09 537.92,469.6 537.92,505.92 537.92,505.22 540.08,505.22 540.08,505.63 540.08,469.6 540.08,469.6 540.08,506.06 540.08,505.72 540.08,469.58 540.37,469.9 540.37,506.05 540.66,506.11 540.66,469.67 540.96,469.52 540.96,506.01 541.25,505.8 541.25,469.88 541.54,469.48 541.54,505.83 541.84,505.71 541.84,469.67 542.13,469.44 542.13,506.19 542.43,505.96 542.43,469.35 542.43,469.83 542.43,505.91 542.43,505.62 542.43,469.79 542.43,506.14 542.43,505.22 544.77,505.22 544.77,505.65 544.77,469.54 544.77,469.63 544.77,506.21 544.77,506.21 544.77,469.86 545.07,469.78 545.07,506.21 545.37,505.82 545.37,469.83 545.66,469.39 545.66,505.99 545.96,505.8 545.96,469.6 546.25,469.68 546.25,505.89 546.55,505.95 546.55,469.83 546.55,469.57 546.55,506.19 546.55,505.97 546.55,469.46 546.55,505.79 546.55,505.22 548.45,505.22 548.45,505.71 548.45,469.93 548.45,469.35 548.45,505.69 548.45,505.85 548.45,469.54 548.75,469.49 548.75,505.99 549.05,505.88 549.05,469.45 549.34,469.67 549.34,506.12 549.64,505.65 549.64,469.5 549.94,469.88 549.94,505.85 550.24,505.88 550.24,469.83 550.53,469.67 550.53,506.13 550.83,505.64 550.83,469.82 551.13,469.35 551.13,505.89 551.43,505.85 551.43,469.39 551.73,469.47 551.73,505.72 552.02,505.98 552.02,469.83 552.32,469.47 552.32,505.95 552.62,506.1 552.62,469.9 552.92,469.38 552.92,505.76 553.21,506.13 553.21,469.67 553.51,469.4 553.51,505.68 553.81,505.65 553.81,469.65 554.11,469.38 554.11,505.9 554.4,505.92 554.4,469.84 554.7,469.61 554.7,505.87 555,506.15 555,469.49 555,469.65 555,505.71 555,505.7 555,469.35 555,505.98 555,505.22 556.7,505.22 556.7,505.75 556.7,469.45 556.7,469.81 556.7,505.89 556.7,506.14 556.7,469.87 556.98,469.87 556.98,505.65 557.27,505.71 557.27,469.71 557.55,469.74 557.55,505.79 557.55,505.63 557.55,469.64 557.55,469.67 557.55,506.06 557.55,505.22 559.45,505.22 559.45,505.8 559.45,469.59 559.45,469.75 559.45,506.07 559.45,505.72 559.45,469.64 559.75,469.67 559.75,505.89 560.05,505.94 560.05,469.61 560.34,469.74 560.34,506.11 560.64,506.19 560.64,469.6 560.94,469.55 560.94,506.05 561.24,505.81 561.24,469.58 561.53,469.66 561.53,505.91 561.83,505.85 561.83,469.61 562.13,469.8 562.13,505.76 562.42,505.74 562.42,469.58 562.42,469.79 562.42,506.09 562.42,506.16 562.42,469.48 562.42,505.81 562.42,505.22 565.58,505.22 565.58,506.18 565.58,469.73 565.58,469.72 565.58,505.97 565.58,506.01 565.58,469.69 565.86,469.46 565.86,506.13 566.14,505.79 566.14,469.8 566.42,469.7 566.42,506.04 566.7,506.02 566.7,469.83 566.99,469.7 566.99,506.16 567.27,506.19 567.27,469.57 567.55,469.47 567.55,506.12 567.55,505.75 567.55,469.9 567.55,469.57 567.55,505.85 567.55,505.22 569.45,505.22 569.45,506.04 569.45,469.76 569.45,469.67 569.45,506.1 569.45,505.67 569.45,469.69 569.76,469.84 569.76,505.94 570.07,506.06 570.07,469.34 570.38,469.48 570.38,505.7 570.69,505.88 570.69,469.61 571,469.55 571,506.04 571.31,506.2 571.31,469.37 571.62,469.81 571.62,505.71 571.93,506.2 571.93,469.84 572.24,469.35 572.24,505.69 572.55,505.97 572.55,469.86 572.55,469.85 572.55,505.82 572.55,506.09 572.55,469.51 572.55,505.81 572.55,505.22 574.45,505.22 574.45,505.7 574.45,469.72 574.45,469.83 574.45,505.76 574.45,505.92 574.45,469.64 574.75,469.38 574.75,505.67 575.05,505.94 575.05,469.6 575.36,469.85 575.36,505.83 575.66,505.7 575.66,469.4 575.96,469.73 575.96,505.66 576.26,505.9 576.26,469.62 576.56,469.4 576.56,506.05 576.87,505.74 576.87,469.39 577.17,469.93 577.17,506.04 577.47,505.64 577.47,469.44 577.77,469.82 577.77,506.1 578.07,506.11 578.07,469.47 578.38,469.87 578.38,505.86 578.68,505.68 578.68,469.5 578.98,469.34 578.98,505.93 579.28,506.01 579.28,469.53 579.58,469.85 579.58,505.84 579.89,505.83 579.89,469.48 580.19,469.69 580.19,505.84 580.49,505.95 580.49,469.81 580.79,469.9 580.79,505.76 581.09,505.63 581.09,469.53 581.4,469.66 581.4,505.99 581.7,505.96 581.7,469.9 582,469.45 582,506.11 582.3,505.62 582.3,469.68 582.6,469.46 582.6,505.87 582.91,506.13 582.91,469.52 583.21,469.54 583.21,506.16 583.51,506.08 583.51,469.58 583.81,469.91 583.81,505.89 584.11,506.03 584.11,469.62 584.42,469.58 584.42,505.83 584.72,506.12 584.72,469.79 585.02,469.55 585.02,505.88 585.32,505.71 585.32,469.92 585.62,469.86 585.62,505.79 585.93,505.9 585.93,469.92 586.23,469.89 586.23,506.1 586.53,506.21 586.53,469.68 586.83,469.65 586.83,505.98 587.13,505.68 587.13,469.61 587.44,469.53 587.44,506.18 587.74,506 587.74,469.61 588.04,469.69 588.04,506.16 588.34,505.93 588.34,469.65 588.64,469.49 588.64,505.88 588.95,505.66 588.95,469.58 589.25,469.42 589.25,505.84 589.55,505.68 589.55,469.87 589.55,469.39 589.55,505.68 589.55,506.01 589.55,469.88 589.55,505.92 589.55,505.22 591.45,505.22 591.45,506.16 591.45,469.79 591.45,469.75 591.45,505.98 591.45,505.96 591.45,469.6 591.75,469.7 591.75,505.64 592.05,505.97 592.05,469.77 592.35,469.56 592.35,505.88 592.64,505.78 592.64,469.34 592.94,469.74 592.94,506.2 593.24,505.9 593.24,469.61 593.54,469.77 593.54,505.72 593.84,506.04 593.84,469.66 594.14,469.58 594.14,505.73 594.43,505.92 594.43,469.54 594.73,469.48 594.73,506.02 595.03,505.87 595.03,469.52 595.33,469.58 595.33,505.9 595.63,506 595.63,469.75 595.93,469.9 595.93,505.71 596.23,506.2 596.23,469.4 596.23,469.44 596.23,505.77 596.23,506.12 596.23,469.46 596.23,505.94 596.23,505.22 598.57,505.22 598.57,505.8 598.57,469.87 598.57,469.34 598.57,506.22 598.57,506.13 598.57,469.67 598.88,469.5 598.88,506.16 599.19,505.94 599.19,469.86 599.49,469.35 599.49,505.94 599.8,506.08 599.8,469.56 600.1,469.9 600.1,505.89 600.41,505.62 600.41,469.78 600.72,469.36 600.72,506.03 601.02,505.96 601.02,469.87 601.33,469.52 601.33,505.98 601.63,506 601.63,469.52 601.94,469.38 601.94,505.89 602.24,505.98 602.24,469.62 602.55,469.58 602.55,506.02 602.55,505.73 602.55,469.9 602.55,469.86 602.55,505.64 602.55,505.22 604.45,505.22 604.45,505.95 604.45,469.75 604.45,469.46 604.45,505.71 604.45,505.71 604.45,469.42 604.76,469.88 604.76,505.83 605.07,506.03 605.07,469.6 605.38,469.77 605.38,505.7 605.69,505.96 605.69,469.79 606,469.42 606,505.78 606.31,506.18 606.31,469.92 606.62,469.57 606.62,505.79 606.93,505.9 606.93,469.67 607.24,469.45 607.24,505.73 607.55,506.08 607.55,469.91 607.55,469.55 607.55,506.11 607.55,505.88 607.55,469.43 607.55,505.83 607.55,505.22 609.45,505.22 609.45,505.83 609.45,469.39 609.45,469.34 609.45,506.09 609.45,505.76 609.45,469.37 609.75,469.72 609.75,506.14 610.06,505.81 610.06,469.8 610.37,469.78 610.37,506.03 610.67,506.21 610.67,469.62 610.98,469.87 610.98,506.03 611.28,506.16 611.28,469.47 611.59,469.93 611.59,505.8 611.89,506.08 611.89,469.51 612.2,469.34 612.2,506.16 612.5,506.1 612.5,469.52 612.5,469.71 612.5,505.64 612.5,506.08 612.5,469.66 612.5,506.14 612.5,505.22 614.3,505.22 614.3,505.7 614.3,469.42 614.3,469.55 614.3,506.15 614.3,506.04 614.3,469.67 614.6,469.63 614.6,505.68 614.89,505.76 614.89,469.59 615.19,469.83 615.19,505.83 615.48,506 615.48,469.58 615.78,469.4 615.78,505.88 616.07,505.95 616.07,469.68 616.37,469.48 616.37,505.99 616.66,506.18 616.66,469.85 616.96,469.86 616.96,505.79 617.25,505.99 617.25,469.55 617.55,469.81 617.55,505.78 617.55,505.97 617.55,469.78 617.55,469.44 617.55,505.68 617.55,505.22 619.45,505.22 619.45,506.09 619.45,469.84 619.45,469.51 619.45,506.09 619.45,506.18 619.45,469.39 619.75,469.92 619.75,506.01 620.04,506.16 620.04,469.47 620.34,469.66 620.34,506.07 620.63,505.79 620.63,469.45 620.92,469.69 620.92,506.2 620.92,505.63 620.92,469.59 620.92,469.86 620.92,506.08 620.92,505.22 624.58,505.22 624.58,506.2 624.58,469.64 624.58,469.43 624.58,505.76 624.58,505.63 624.58,469.45 624.86,469.69 624.86,505.67 625.14,506.02 625.14,469.39 625.42,469.88 625.42,505.98 625.7,505.83 625.7,469.91 625.99,469.89 625.99,505.64 626.27,505.8 626.27,469.75 626.55,469.61 626.55,505.99 626.55,506.13 626.55,469.42 626.55,469.83 626.55,505.99 626.55,505.22 628.45,505.22 628.45,506.14 628.45,469.78 628.45,469.57 628.45,506.21 628.45,506 628.45,469.51 628.75,469.75 628.75,506.21 629.05,506.12 629.05,469.74 629.35,469.75 629.35,505.62 629.65,505.91 629.65,469.41 629.95,469.46 629.95,505.71 630.25,505.76 630.25,469.84 630.55,469.78 630.55,505.74 630.85,505.72 630.85,469.6 631.15,469.39 631.15,506.13 631.45,505.99 631.45,469.75 631.75,469.39 631.75,505.74 632.05,505.64 632.05,469.81 632.35,469.46 632.35,506.04 632.65,505.8 632.65,469.8 632.95,469.55 632.95,505.92 633.25,506.09 633.25,469.67 633.55,469.88 633.55,505.66 633.55,505.76 633.55,469.62 633.55,469.51 633.55,505.95 633.55,505.22 635.45,505.22 635.45,505.62 635.45,469.36 636.23,469.66 636.23,505.94 636.23,505.22 638.57,505.22 638.57,505.73 638.57,469.79 638.57,469.81 638.57,505.98 638.57,506.16 638.57,469.78 638.87,469.73 638.87,505.79 639.17,505.63 639.17,469.93 639.47,469.47 639.47,506.2 639.77,505.64 639.77,469.89 640.07,469.66 640.07,505.8 640.37,505.77 640.37,469.41 640.67,469.82 640.67,505.73 640.97,506.16 640.97,469.56 641.27,469.52 641.27,506.02 641.56,505.63 641.56,469.35 641.86,469.92 641.86,505.75 642.16,505.9 642.16,469.43 642.46,469.37 642.46,505.62 642.76,505.7 642.76,469.93 643.06,469.85 643.06,506.17 643.36,505.67 643.36,469.61 643.66,469.82 643.66,505.62 643.96,505.79 643.96,469.78 644.26,469.61 644.26,506.14 644.55,505.94 644.55,469.61 644.85,469.77 644.85,505.73 645.15,505.9 645.15,469.7 645.45,469.39 645.45,505.74 645.75,505.63 645.75,469.9 646.05,469.74 646.05,505.75 646.35,505.86 646.35,469.41 646.65,469.5 646.65,505.97 646.95,506.12 646.95,469.41 647.25,469.9 647.25,506.03 647.54,505.7 647.54,469.69 647.84,469.7 647.84,505.78 648.14,505.64 648.14,469.82 648.44,469.51 648.44,506.19 648.74,506.16 648.74,469.92 649.04,469.59 649.04,505.73 649.34,505.93 649.34,469.61 649.64,469.84 649.64,505.67 649.94,505.91 649.94,469.9 650.24,469.43 650.24,506.15 650.53,505.63 650.53,469.45 650.83,469.43 650.83,505.64 651.13,505.97 651.13,469.65 651.43,469.83 651.43,506.11 651.73,505.96 651.73,469.45 652.03,469.37 652.03,506.2 652.33,506.01 652.33,469.41 652.63,469.9 652.63,505.82 652.93,505.9 652.93,469.63 653.23,469.71 653.23,506.11 653.23,505.97 653.23,469.43 653.23,469.67 653.23,506.18 653.23,505.22 656.07,505.22 656.07,505.83 656.07,469.34 656.07,469.59 656.07,505.84 656.07,505.99 656.07,469.87 656.37,469.52 656.37,505.98 656.66,506.1 656.66,469.89 656.96,469.68 656.96,505.97 657.25,505.65 657.25,469.48 657.54,469.39 657.54,505.99 657.84,506.08 657.84,469.37 658.13,469.66 658.13,505.92 658.42,506.15 658.42,469.53 658.42,469.77 658.42,505.97 658.42,506.08 658.42,469.43 658.42,505.7 658.42,505.22 660.38,505.22 660.38,505.72 660.38,469.52 660.38,469.51 660.38,506.06 660.38,505.91 660.38,469.7 660.67,469.36 660.67,505.77 660.96,505.79 660.96,469.92 661.26,469.88 661.26,505.99 661.55,506.02 661.55,469.8 661.55,469.49 661.55,505.72 661.55,505.84 661.55,469.55 661.55,506.08 661.55,505.22 663.45,505.22 663.45,505.89 663.45,469.45 663.55,469.65 663.55,506.02 663.55,505.22 665.45,505.22 665.45,506.12 665.45,469.6 665.45,469.6 665.45,506.18 665.45,505.64 665.45,469.92 665.75,469.91 665.75,505.8 666.05,505.94 666.05,469.56 666.34,469.53 666.34,505.63 666.64,506.14 666.64,469.79 666.94,469.35 666.94,505.82 667.24,506.12 667.24,469.51 667.53,469.92 667.53,505.92 667.83,505.85 667.83,469.34 668.13,469.8 668.13,505.85 668.42,505.72 668.42,469.93 668.42,469.61 668.42,505.99 668.42,505.71 668.42,469.43 668.42,505.75 668.42,505.22 670.38,505.22 670.38,506.18 670.38,469.53 670.38,469.35 670.38,505.88 670.38,506.12 670.38,469.57 670.68,469.51 670.68,505.86 670.98,505.92 670.98,469.77 671.29,469.73 671.29,506.17 671.59,505.66 671.59,469.44 671.9,469.48 671.9,505.71 672.2,505.88 672.2,469.43 672.51,469.63 672.51,505.92 672.81,505.92 672.81,469.83 673.11,469.34 673.11,506.07 673.42,505.79 673.42,469.73 673.72,469.51 673.72,506.14 674.03,505.95 674.03,469.76 674.33,469.72 674.33,505.94 674.64,506.15 674.64,469.51 674.94,469.8 674.94,505.63 675.25,506.01 675.25,469.78 675.55,469.41 675.55,505.71 675.55,506.22 675.55,469.45 675.55,469.78 675.55,505.63 675.55,505.22 677.45,505.22 677.45,506.11 677.45,469.87 677.45,469.84 677.45,505.85 677.45,505.72 677.45,469.88 677.74,469.61 677.74,506.01 678.04,506.09 678.04,469.9 678.33,469.9 678.33,505.9 678.62,506.06 678.62,469.81 678.91,469.58 678.91,505.68 679.21,506.16 679.21,469.41 679.5,469.37 679.5,505.85 679.5,505.67 679.5,469.44 679.5,469.67 679.5,505.83 679.5,505.22 681.3,505.22 681.3,505.87 681.3,469.51 681.3,469.5 681.3,505.88 681.3,505.78 681.3,469.84 681.58,469.9 681.58,506.19 681.86,506.2 681.86,469.89 682.14,469.58 682.14,506.2 682.43,505.96 682.43,469.35 682.43,469.85 682.43,506.05 682.43,506.12 682.43,469.87 682.43,505.74 682.43,505.22 684.77,505.22 684.77,506.19 684.77,469.79 684.77,469.56 684.77,506.16 684.77,506.04 684.77,469.47 685.08,469.76 685.08,506.13 685.39,505.7 685.39,469.69 685.69,469.64 685.69,506.04 686,505.64 686,469.89 686.31,469.71 686.31,505.71 686.61,506.16 686.61,469.67 686.92,469.58 686.92,505.87 687.23,506.13 687.23,469.38 687.23,469.39 687.23,505.67 687.23,505.98 687.23,469.47 687.23,506.17 687.23,505.22 689.47,505.22 689.47,505.95 689.47,469.65 689.53,469.83 689.53,505.62 689.53,505.22 694.38,505.22 694.38,505.63 694.38,469.77 694.38,469.5 694.38,505.86 694.38,505.94 694.38,469.77 694.67,469.35 694.67,506.17 694.97,505.78 694.97,469.7 695.26,469.87 695.26,505.85 695.56,505.76 695.56,469.5 695.86,469.75 695.86,506.03 696.15,505.63 696.15,469.51 696.45,469.55 696.45,505.79 696.75,506.08 696.75,469.42 697.05,469.39 697.05,506.03 697.34,505.88 697.34,469.58 697.64,469.48 697.64,505.81 697.94,506.15 697.94,469.46 698.23,469.52 698.23,506.07 698.53,505.65 698.53,469.45 698.83,469.67 698.83,506.03 698.83,506.01 698.83,469.68 698.83,469.49 698.83,506.13 698.83,505.22 701.17,505.22 701.17,506.21 701.17,469.92 701.17,469.39 701.17,506.08 701.17,505.97 701.17,469.48 701.46,469.73 701.46,505.86 701.75,505.64 701.75,469.38 702.04,469.45 702.04,505.93 702.34,505.98 702.34,469.44 702.62,469.84 702.62,505.96 702.62,506.05 702.62,469.59 702.62,469.35 702.62,505.77 702.62,505.22 704.58,505.22 704.58,506.03 704.58,469.47 704.58,469.7 704.58,506.18 704.58,505.86 704.58,469.85 704.88,469.83 704.88,505.85 705.19,506.21 705.19,469.39 705.49,469.4 705.49,506.02 705.8,505.92 705.8,469.55 706.1,469.57 706.1,506.19 706.41,505.85 706.41,469.7 706.72,469.5 706.72,506.1 707.02,506.06 707.02,469.84 707.33,469.55 707.33,505.78 707.63,505.78 707.63,469.78 707.94,469.93 707.94,505.69 708.24,506.02 708.24,469.46 708.55,469.87 708.55,506.19 708.55,505.9 708.55,469.47 708.55,469.91 708.55,505.67 708.55,505.22 710.45,505.22 710.45,506.11 710.45,469.88 710.45,469.91 710.45,506.01 710.45,505.64 710.45,469.69 710.74,469.45 710.74,505.69 711.04,506.12 711.04,469.39 711.33,469.35 711.33,505.99 711.62,506.11 711.62,469.84 711.91,469.59 711.91,506.14 712.21,506.14 712.21,469.83 712.5,469.44 712.5,505.86 712.79,505.92 712.79,469.46 713.09,469.53 713.09,505.81 713.38,506.13 713.38,469.38 713.67,469.45 713.67,505.65 713.96,505.63 713.96,469.59 714.26,469.88 714.26,505.67 714.55,506.14 714.55,469.91 714.55,469.77 714.55,505.8 714.55,506.18 714.55,469.37 714.55,506.09 714.55,505.22 716.45,505.22 716.45,505.89 716.45,469.86 716.45,469.36 716.45,505.75 716.45,506 716.45,469.47 716.75,469.63 716.75,506.15 717.04,506.18 717.04,469.72 717.34,469.51 717.34,505.67 717.63,505.88 717.63,469.53 717.93,469.77 717.93,505.84 718.23,506.07 718.23,469.81 718.52,469.38 718.52,505.7 718.82,505.75 718.82,469.57 719.11,469.8 719.11,506.12 719.41,505.83 719.41,469.86 719.7,469.53 719.7,505.87 720,505.99 720,469.87 720,469.9 720,505.79 720,505.93 720,469.82 720,505.74"/>
</g>
<path class="tk" d="M153.5 540v-5.3M153.5 435.65v6.1M290.5 540v-5.3M290.5 435.65v6.1M428.5 540v-5.3M428.5 435.65v6.1M566.5 540v-5.3M566.5 435.65v6.1M704.5 540v-5.3M704.5 435.65v6.1M100 522.5h6.7M720 522.5h-4.6M100 505.5h6.7M720 505.5h-4.6M100 487.5h6.7M720 487.5h-4.6M100 470.5h6.7M720 470.5h-4.6M100 453.5h6.7M720 453.5h-4.6"/>
<text class="t" x="132.2" y="556" style="letter-spacing:-0.71px">15:00</text>
<text class="t" x="268.73" y="556" style="letter-spacing:-0.74px">23:00</text>
<text class="t" x="406.95" y="556" style="letter-spacing:-0.78px">07:00</text>
<text class="t" x="544.8" y="556" style="letter-spacing:-0.71px">15:00</text>
<text class="t" x="681.92" y="556" style="letter-spacing:-0.74px">23:00</text>
<text class="t" x="128.02" y="570" style="letter-spacing:-0.58px">Jan 08</text>
<text class="t" x="265.82" y="570" style="letter-spacing:-0.62px">Jan 08</text>
<text class="t" x="403.93" y="570" style="letter-spacing:-0.62px">Jan 09</text>
<text class="t" x="541.93" y="570" style="letter-spacing:-0.62px">Jan 09</text>
<text class="t" x="678.93" y="570" style="letter-spacing:-0.62px">Jan 09</text>
<text class="t" x="64.4" y="545" style="letter-spacing:-0.25px">-1.0</text>
<text class="t" x="64.2" y="527" style="letter-spacing:-0.12px">-0.5</text>
<text class="t" x="71.25" y="510" style="letter-spacing:-0.8px">0.0</text>
<text class="t" x="71.05" y="492" style="letter-spacing:-0.61px">0.5</text>
<text class="t" x="71.1" y="475" style="letter-spacing:-0.72px">1.0</text>
<text class="t" x="70.9" y="458" style="letter-spacing:-0.54px">1.5</text>
<text class="t" x="71.12" y="440" style="letter-spacing:-0.74px">2.0</text>
<text class="t" transform="translate(57 546.27) rotate(-90)" style="letter-spacing:-0.12px">High flow Bool</text>
<text class="t" x="363.03" y="592" style="letter-spacing:-0.13px">Date (GMT)</text>
</g>
</svg>
</body>
</html>
